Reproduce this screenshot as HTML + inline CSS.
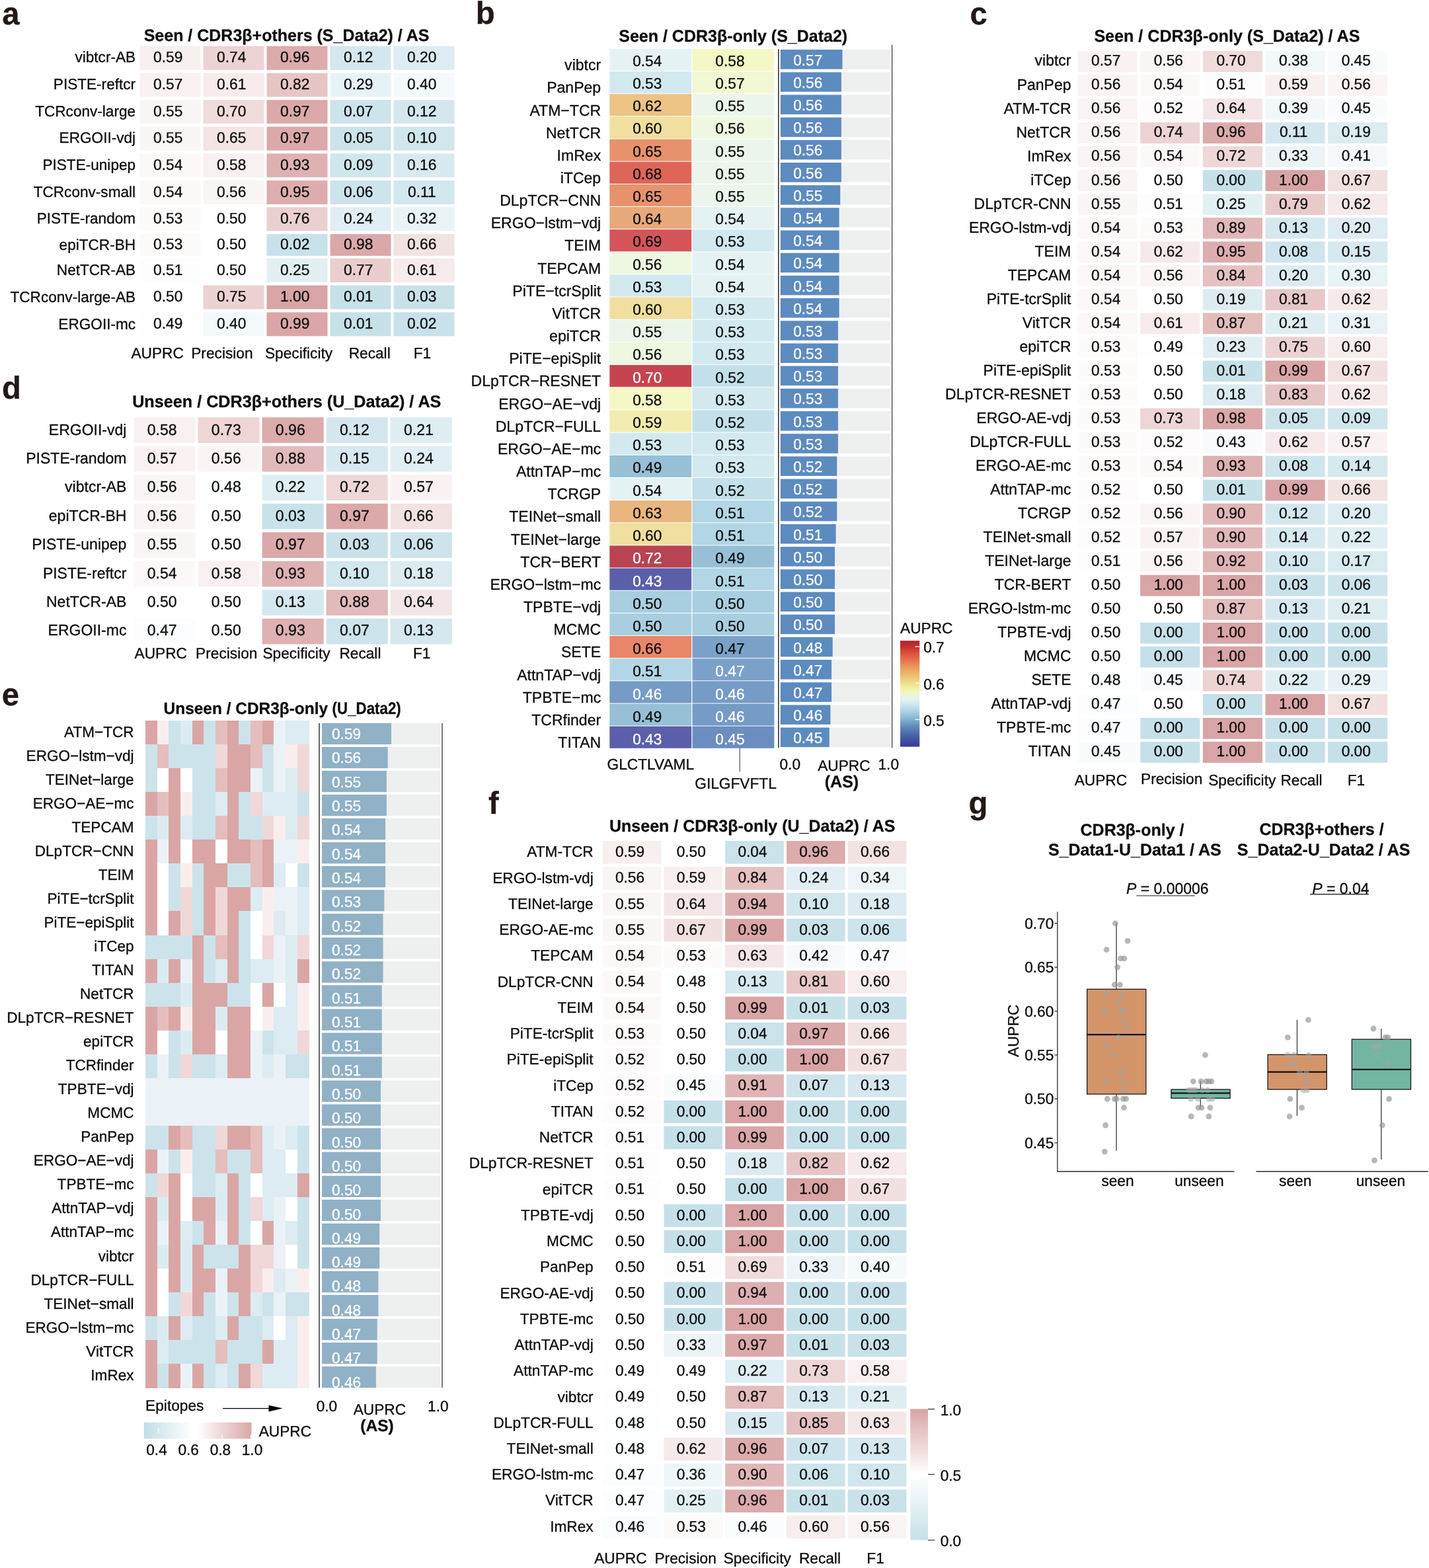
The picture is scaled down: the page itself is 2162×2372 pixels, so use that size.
<!DOCTYPE html>
<html lang="en"><head><meta charset="utf-8"><title>Figure</title>
<style>html,body{margin:0;padding:0;background:#fff}body{width:2162px;height:2372px}svg{display:block}text{font-family:"Liberation Sans",sans-serif;fill:#0c0c0c;stroke:#0c0c0c;stroke-width:.3px;text-rendering:geometricPrecision}text.b{font-weight:bold;stroke-width:.3px}text.w{fill:#fff;stroke:#fff}text.L{fill:#231815;stroke:#231815;stroke-width:.3px}</style>
</head><body>
<svg width="2162" height="2372" viewBox="0 0 2162 2372" role="img" aria-label="Benchmark figure panels a to g">
<defs>
<linearGradient id="gradB" x1="0" y1="0" x2="0" y2="1"><stop offset="0.0000" stop-color="#ad2232"/><stop offset="0.0567" stop-color="#c6302e"/><stop offset="0.1253" stop-color="#db5440"/><stop offset="0.1940" stop-color="#e67a52"/><stop offset="0.2627" stop-color="#ea9f62"/><stop offset="0.3314" stop-color="#ecc074"/><stop offset="0.4001" stop-color="#eedd8a"/><stop offset="0.4516" stop-color="#f0f4a4"/><stop offset="0.5031" stop-color="#eef5d0"/><stop offset="0.5546" stop-color="#e4f3f0"/><stop offset="0.6061" stop-color="#c8e6ec"/><stop offset="0.6748" stop-color="#a6d0e0"/><stop offset="0.7435" stop-color="#82b2ce"/><stop offset="0.8122" stop-color="#5e8aba"/><stop offset="0.8980" stop-color="#4662a6"/><stop offset="1.0000" stop-color="#36399a"/></linearGradient>
<linearGradient id="gradF" x1="0" y1="0" x2="0" y2="1"><stop offset="0" stop-color="#d9a4a5"/><stop offset="0.5" stop-color="#fff"/><stop offset="1" stop-color="#c6e0e9"/></linearGradient>
<linearGradient id="gradE" x1="0" y1="0" x2="1" y2="0"><stop offset="0" stop-color="#c2dde7"/><stop offset="0.45" stop-color="#fff"/><stop offset="0.5" stop-color="#fff"/><stop offset="1" stop-color="#d9a6a5"/></linearGradient>
<clipPath id="clipE"><rect x="480" y="1085" width="200" height="1014.3"/></clipPath>
</defs>
<rect x="0" y="0" width="2162" height="2372" fill="#fff"/>
<g id="panel-a">
<text transform="scale(1,1.012)" x="3.30" y="36.07" font-size="47.3" class="b L">a</text>
<text transform="scale(1,1.012)" x="433.60" y="61.76" font-size="25" text-anchor="middle" class="b">Seen / CDR3β+others (S_Data2) / AS</text>
<text transform="scale(1,1.012)" x="205.10" y="93.32" font-size="22.6" text-anchor="end">vibtcr-AB</text>
<rect x="211.50" y="69.70" width="92.00" height="36.10" fill="#f8efef"/>
<text transform="scale(1,1.012)" x="254.30" y="93.39" font-size="22.8" text-anchor="middle">0.59</text>
<rect x="307.50" y="69.70" width="92.00" height="36.10" fill="#edd3d4"/>
<text transform="scale(1,1.012)" x="350.30" y="93.39" font-size="22.8" text-anchor="middle">0.74</text>
<rect x="403.50" y="69.70" width="92.00" height="36.10" fill="#dcabac"/>
<text transform="scale(1,1.012)" x="446.30" y="93.39" font-size="22.8" text-anchor="middle">0.96</text>
<rect x="499.50" y="69.70" width="92.00" height="36.10" fill="#d4e7ee"/>
<text transform="scale(1,1.012)" x="542.30" y="93.39" font-size="22.8" text-anchor="middle">0.12</text>
<rect x="595.50" y="69.70" width="92.00" height="36.10" fill="#ddecf2"/>
<text transform="scale(1,1.012)" x="638.30" y="93.39" font-size="22.8" text-anchor="middle">0.20</text>
<text transform="scale(1,1.012)" x="205.10" y="133.63" font-size="22.6" text-anchor="end">PISTE-reftcr</text>
<rect x="211.50" y="110.50" width="92.00" height="36.00" fill="#faf2f2"/>
<text transform="scale(1,1.012)" x="254.30" y="133.66" font-size="22.8" text-anchor="middle">0.57</text>
<rect x="307.50" y="110.50" width="92.00" height="36.00" fill="#f7ebeb"/>
<text transform="scale(1,1.012)" x="350.30" y="133.66" font-size="22.8" text-anchor="middle">0.61</text>
<rect x="403.50" y="110.50" width="92.00" height="36.00" fill="#e7c5c5"/>
<text transform="scale(1,1.012)" x="446.30" y="133.66" font-size="22.8" text-anchor="middle">0.82</text>
<rect x="499.50" y="110.50" width="92.00" height="36.00" fill="#e7f2f6"/>
<text transform="scale(1,1.012)" x="542.30" y="133.66" font-size="22.8" text-anchor="middle">0.29</text>
<rect x="595.50" y="110.50" width="92.00" height="36.00" fill="#f4f9fb"/>
<text transform="scale(1,1.012)" x="638.30" y="133.66" font-size="22.8" text-anchor="middle">0.40</text>
<text transform="scale(1,1.012)" x="205.10" y="173.74" font-size="22.6" text-anchor="end">TCRconv-large</text>
<rect x="211.50" y="151.20" width="92.00" height="35.70" fill="#fbf6f6"/>
<text transform="scale(1,1.012)" x="254.30" y="173.73" font-size="22.8" text-anchor="middle">0.55</text>
<rect x="307.50" y="151.20" width="92.00" height="35.70" fill="#f0dbdb"/>
<text transform="scale(1,1.012)" x="350.30" y="173.73" font-size="22.8" text-anchor="middle">0.70</text>
<rect x="403.50" y="151.20" width="92.00" height="35.70" fill="#dba9aa"/>
<text transform="scale(1,1.012)" x="446.30" y="173.73" font-size="22.8" text-anchor="middle">0.97</text>
<rect x="499.50" y="151.20" width="92.00" height="35.70" fill="#cee4ec"/>
<text transform="scale(1,1.012)" x="542.30" y="173.73" font-size="22.8" text-anchor="middle">0.07</text>
<rect x="595.50" y="151.20" width="92.00" height="35.70" fill="#d4e7ee"/>
<text transform="scale(1,1.012)" x="638.30" y="173.73" font-size="22.8" text-anchor="middle">0.12</text>
<text transform="scale(1,1.012)" x="205.10" y="213.84" font-size="22.6" text-anchor="end">ERGOII-vdj</text>
<rect x="211.50" y="191.60" width="92.00" height="36.00" fill="#fbf6f6"/>
<text transform="scale(1,1.012)" x="254.30" y="213.80" font-size="22.8" text-anchor="middle">0.55</text>
<rect x="307.50" y="191.60" width="92.00" height="36.00" fill="#f4e4e4"/>
<text transform="scale(1,1.012)" x="350.30" y="213.80" font-size="22.8" text-anchor="middle">0.65</text>
<rect x="403.50" y="191.60" width="92.00" height="36.00" fill="#dba9aa"/>
<text transform="scale(1,1.012)" x="446.30" y="213.80" font-size="22.8" text-anchor="middle">0.97</text>
<rect x="499.50" y="191.60" width="92.00" height="36.00" fill="#cce3eb"/>
<text transform="scale(1,1.012)" x="542.30" y="213.80" font-size="22.8" text-anchor="middle">0.05</text>
<rect x="595.50" y="191.60" width="92.00" height="36.00" fill="#d1e6ed"/>
<text transform="scale(1,1.012)" x="638.30" y="213.80" font-size="22.8" text-anchor="middle">0.10</text>
<text transform="scale(1,1.012)" x="205.10" y="254.10" font-size="22.6" text-anchor="end">PISTE-unipep</text>
<rect x="211.50" y="232.30" width="92.00" height="36.00" fill="#fcf8f8"/>
<text transform="scale(1,1.012)" x="254.30" y="254.01" font-size="22.8" text-anchor="middle">0.54</text>
<rect x="307.50" y="232.30" width="92.00" height="36.00" fill="#f9f0f1"/>
<text transform="scale(1,1.012)" x="350.30" y="254.01" font-size="22.8" text-anchor="middle">0.58</text>
<rect x="403.50" y="232.30" width="92.00" height="36.00" fill="#deb1b2"/>
<text transform="scale(1,1.012)" x="446.30" y="254.01" font-size="22.8" text-anchor="middle">0.93</text>
<rect x="499.50" y="232.30" width="92.00" height="36.00" fill="#d0e6ed"/>
<text transform="scale(1,1.012)" x="542.30" y="254.01" font-size="22.8" text-anchor="middle">0.09</text>
<rect x="595.50" y="232.30" width="92.00" height="36.00" fill="#d8eaf0"/>
<text transform="scale(1,1.012)" x="638.30" y="254.01" font-size="22.8" text-anchor="middle">0.16</text>
<text transform="scale(1,1.012)" x="205.10" y="294.41" font-size="22.6" text-anchor="end">TCRconv-small</text>
<rect x="211.50" y="273.00" width="92.00" height="36.10" fill="#fcf8f8"/>
<text transform="scale(1,1.012)" x="254.30" y="294.28" font-size="22.8" text-anchor="middle">0.54</text>
<rect x="307.50" y="273.00" width="92.00" height="36.10" fill="#faf4f4"/>
<text transform="scale(1,1.012)" x="350.30" y="294.28" font-size="22.8" text-anchor="middle">0.56</text>
<rect x="403.50" y="273.00" width="92.00" height="36.10" fill="#ddadae"/>
<text transform="scale(1,1.012)" x="446.30" y="294.28" font-size="22.8" text-anchor="middle">0.95</text>
<rect x="499.50" y="273.00" width="92.00" height="36.10" fill="#cde4ec"/>
<text transform="scale(1,1.012)" x="542.30" y="294.28" font-size="22.8" text-anchor="middle">0.06</text>
<rect x="595.50" y="273.00" width="92.00" height="36.10" fill="#d3e7ee"/>
<text transform="scale(1,1.012)" x="638.30" y="294.28" font-size="22.8" text-anchor="middle">0.11</text>
<text transform="scale(1,1.012)" x="205.10" y="334.32" font-size="22.6" text-anchor="end">PISTE-random</text>
<rect x="211.50" y="313.40" width="92.00" height="36.00" fill="#fdfafa"/>
<text transform="scale(1,1.012)" x="254.30" y="334.15" font-size="22.8" text-anchor="middle">0.53</text>
<rect x="307.50" y="313.40" width="92.00" height="36.00" fill="#ffffff"/>
<text transform="scale(1,1.012)" x="350.30" y="334.15" font-size="22.8" text-anchor="middle">0.50</text>
<rect x="403.50" y="313.40" width="92.00" height="36.00" fill="#ebd0d0"/>
<text transform="scale(1,1.012)" x="446.30" y="334.15" font-size="22.8" text-anchor="middle">0.76</text>
<rect x="499.50" y="313.40" width="92.00" height="36.00" fill="#e1eff4"/>
<text transform="scale(1,1.012)" x="542.30" y="334.15" font-size="22.8" text-anchor="middle">0.24</text>
<rect x="595.50" y="313.40" width="92.00" height="36.00" fill="#eaf4f7"/>
<text transform="scale(1,1.012)" x="638.30" y="334.15" font-size="22.8" text-anchor="middle">0.32</text>
<text transform="scale(1,1.012)" x="205.10" y="373.04" font-size="22.6" text-anchor="end">epiTCR-BH</text>
<rect x="211.50" y="354.10" width="92.00" height="32.90" fill="#fdfafa"/>
<text transform="scale(1,1.012)" x="254.30" y="372.84" font-size="22.8" text-anchor="middle">0.53</text>
<rect x="307.50" y="354.10" width="92.00" height="32.90" fill="#ffffff"/>
<text transform="scale(1,1.012)" x="350.30" y="372.84" font-size="22.8" text-anchor="middle">0.50</text>
<rect x="403.50" y="354.10" width="92.00" height="32.90" fill="#c8e1ea"/>
<text transform="scale(1,1.012)" x="446.30" y="372.84" font-size="22.8" text-anchor="middle">0.02</text>
<rect x="499.50" y="354.10" width="92.00" height="32.90" fill="#dba8a9"/>
<text transform="scale(1,1.012)" x="542.30" y="372.84" font-size="22.8" text-anchor="middle">0.98</text>
<rect x="595.50" y="354.10" width="92.00" height="32.90" fill="#f3e2e2"/>
<text transform="scale(1,1.012)" x="638.30" y="372.84" font-size="22.8" text-anchor="middle">0.66</text>
<text transform="scale(1,1.012)" x="205.10" y="411.08" font-size="22.6" text-anchor="end">NetTCR-AB</text>
<rect x="211.50" y="391.00" width="92.00" height="36.00" fill="#fefdfd"/>
<text transform="scale(1,1.012)" x="254.30" y="410.83" font-size="22.8" text-anchor="middle">0.51</text>
<rect x="307.50" y="391.00" width="92.00" height="36.00" fill="#ffffff"/>
<text transform="scale(1,1.012)" x="350.30" y="410.83" font-size="22.8" text-anchor="middle">0.50</text>
<rect x="403.50" y="391.00" width="92.00" height="36.00" fill="#e2f0f4"/>
<text transform="scale(1,1.012)" x="446.30" y="410.83" font-size="22.8" text-anchor="middle">0.25</text>
<rect x="499.50" y="391.00" width="92.00" height="36.00" fill="#eacece"/>
<text transform="scale(1,1.012)" x="542.30" y="410.83" font-size="22.8" text-anchor="middle">0.77</text>
<rect x="595.50" y="391.00" width="92.00" height="36.00" fill="#f7ebeb"/>
<text transform="scale(1,1.012)" x="638.30" y="410.83" font-size="22.8" text-anchor="middle">0.61</text>
<text transform="scale(1,1.012)" x="205.10" y="451.33" font-size="22.6" text-anchor="end">TCRconv-large-AB</text>
<rect x="211.50" y="431.70" width="92.00" height="36.00" fill="#ffffff"/>
<text transform="scale(1,1.012)" x="254.30" y="451.05" font-size="22.8" text-anchor="middle">0.50</text>
<rect x="307.50" y="431.70" width="92.00" height="36.00" fill="#ecd2d2"/>
<text transform="scale(1,1.012)" x="350.30" y="451.05" font-size="22.8" text-anchor="middle">0.75</text>
<rect x="403.50" y="431.70" width="92.00" height="36.00" fill="#d9a4a5"/>
<text transform="scale(1,1.012)" x="446.30" y="451.05" font-size="22.8" text-anchor="middle">1.00</text>
<rect x="499.50" y="431.70" width="92.00" height="36.00" fill="#c7e1e9"/>
<text transform="scale(1,1.012)" x="542.30" y="451.05" font-size="22.8" text-anchor="middle">0.01</text>
<rect x="595.50" y="431.70" width="92.00" height="36.00" fill="#c9e2ea"/>
<text transform="scale(1,1.012)" x="638.30" y="451.05" font-size="22.8" text-anchor="middle">0.03</text>
<text transform="scale(1,1.012)" x="205.10" y="491.64" font-size="22.6" text-anchor="end">ERGOII-mc</text>
<rect x="211.50" y="472.40" width="92.00" height="36.10" fill="#fefeff"/>
<text transform="scale(1,1.012)" x="254.30" y="491.32" font-size="22.8" text-anchor="middle">0.49</text>
<rect x="307.50" y="472.40" width="92.00" height="36.10" fill="#f4f9fb"/>
<text transform="scale(1,1.012)" x="350.30" y="491.32" font-size="22.8" text-anchor="middle">0.40</text>
<rect x="403.50" y="472.40" width="92.00" height="36.10" fill="#daa6a7"/>
<text transform="scale(1,1.012)" x="446.30" y="491.32" font-size="22.8" text-anchor="middle">0.99</text>
<rect x="499.50" y="472.40" width="92.00" height="36.10" fill="#c7e1e9"/>
<text transform="scale(1,1.012)" x="542.30" y="491.32" font-size="22.8" text-anchor="middle">0.01</text>
<rect x="595.50" y="472.40" width="92.00" height="36.10" fill="#c8e1ea"/>
<text transform="scale(1,1.012)" x="638.30" y="491.32" font-size="22.8" text-anchor="middle">0.02</text>
<text transform="scale(1,1.012)" x="238.15" y="535.70" font-size="22.7" text-anchor="middle">AUPRC</text>
<text transform="scale(1,1.012)" x="335.90" y="535.70" font-size="22.7" text-anchor="middle">Precision</text>
<text transform="scale(1,1.012)" x="452.05" y="535.70" font-size="22.7" text-anchor="middle">Specificity</text>
<text transform="scale(1,1.012)" x="559.15" y="535.70" font-size="22.7" text-anchor="middle">Recall</text>
<text transform="scale(1,1.012)" x="638.90" y="535.70" font-size="22.7" text-anchor="middle">F1</text>
</g>
<g id="panel-b">
<text transform="scale(1,1.012)" x="719.80" y="35.97" font-size="47.3" class="b L">b</text>
<text transform="scale(1,1.012)" x="1109.20" y="61.86" font-size="25" text-anchor="middle" class="b">Seen / CDR3β-only (S_Data2)</text>
<text transform="scale(1,1.012)" x="909.20" y="104.95" font-size="23.05" text-anchor="end">vibtcr</text>
<rect x="922.30" y="73.90" width="123.90" height="33.16" fill="#e4f2f3"/>
<text transform="scale(1,1.012)" x="979.25" y="98.52" font-size="22.7" text-anchor="middle">0.54</text>
<rect x="1047.50" y="73.90" width="123.90" height="33.16" fill="#f3f8c5"/>
<text transform="scale(1,1.012)" x="1104.45" y="98.52" font-size="22.7" text-anchor="middle">0.58</text>
<rect x="1180.80" y="75.10" width="165.60" height="29.50" fill="#eeefef"/>
<rect x="1180.80" y="75.10" width="93.71" height="29.50" fill="#5c8bc0"/>
<text transform="scale(1,1.012)" x="1222.30" y="97.46" font-size="22.7" text-anchor="middle" class="w">0.57</text>
<text transform="scale(1,1.012)" x="909.20" y="138.70" font-size="23.05" text-anchor="end">PanPep</text>
<rect x="922.30" y="108.06" width="123.90" height="33.16" fill="#d2e9f0"/>
<text transform="scale(1,1.012)" x="979.25" y="132.33" font-size="22.7" text-anchor="middle">0.53</text>
<rect x="1047.50" y="108.06" width="123.90" height="33.16" fill="#f1f8d2"/>
<text transform="scale(1,1.012)" x="1104.45" y="132.33" font-size="22.7" text-anchor="middle">0.57</text>
<rect x="1180.80" y="109.28" width="165.60" height="29.50" fill="#eeefef"/>
<rect x="1180.80" y="109.28" width="92.06" height="29.50" fill="#5c8bc0"/>
<text transform="scale(1,1.012)" x="1222.30" y="131.24" font-size="22.7" text-anchor="middle" class="w">0.56</text>
<text transform="scale(1,1.012)" x="909.20" y="172.46" font-size="23.05" text-anchor="end">ATM−TCR</text>
<rect x="922.30" y="142.22" width="123.90" height="33.16" fill="#ecc385"/>
<text transform="scale(1,1.012)" x="979.25" y="166.13" font-size="22.7" text-anchor="middle">0.62</text>
<rect x="1047.50" y="142.22" width="123.90" height="33.16" fill="#ebf5eb"/>
<text transform="scale(1,1.012)" x="1104.45" y="166.13" font-size="22.7" text-anchor="middle">0.55</text>
<rect x="1180.80" y="143.47" width="165.60" height="29.50" fill="#eeefef"/>
<rect x="1180.80" y="143.47" width="92.06" height="29.50" fill="#5c8bc0"/>
<text transform="scale(1,1.012)" x="1222.30" y="165.03" font-size="22.7" text-anchor="middle" class="w">0.56</text>
<text transform="scale(1,1.012)" x="909.20" y="206.21" font-size="23.05" text-anchor="end">NetTCR</text>
<rect x="922.30" y="176.38" width="123.90" height="33.16" fill="#f0df9e"/>
<text transform="scale(1,1.012)" x="979.25" y="199.94" font-size="22.7" text-anchor="middle">0.60</text>
<rect x="1047.50" y="176.38" width="123.90" height="33.16" fill="#eef7e0"/>
<text transform="scale(1,1.012)" x="1104.45" y="199.94" font-size="22.7" text-anchor="middle">0.56</text>
<rect x="1180.80" y="177.66" width="165.60" height="29.50" fill="#eeefef"/>
<rect x="1180.80" y="177.66" width="92.06" height="29.50" fill="#5c8bc0"/>
<text transform="scale(1,1.012)" x="1222.30" y="198.81" font-size="22.7" text-anchor="middle" class="w">0.56</text>
<text transform="scale(1,1.012)" x="909.20" y="239.97" font-size="23.05" text-anchor="end">ImRex</text>
<rect x="922.30" y="210.54" width="123.90" height="33.16" fill="#e8926d"/>
<text transform="scale(1,1.012)" x="979.25" y="233.74" font-size="22.7" text-anchor="middle">0.65</text>
<rect x="1047.50" y="210.54" width="123.90" height="33.16" fill="#ebf5eb"/>
<text transform="scale(1,1.012)" x="1104.45" y="233.74" font-size="22.7" text-anchor="middle">0.55</text>
<rect x="1180.80" y="211.84" width="165.60" height="29.50" fill="#eeefef"/>
<rect x="1180.80" y="211.84" width="92.06" height="29.50" fill="#5c8bc0"/>
<text transform="scale(1,1.012)" x="1222.30" y="232.60" font-size="22.7" text-anchor="middle" class="w">0.56</text>
<text transform="scale(1,1.012)" x="909.20" y="273.72" font-size="23.05" text-anchor="end">iTCep</text>
<rect x="922.30" y="244.70" width="123.90" height="33.16" fill="#de6659"/>
<text transform="scale(1,1.012)" x="979.25" y="267.55" font-size="22.7" text-anchor="middle">0.68</text>
<rect x="1047.50" y="244.70" width="123.90" height="33.16" fill="#ebf5eb"/>
<text transform="scale(1,1.012)" x="1104.45" y="267.55" font-size="22.7" text-anchor="middle">0.55</text>
<rect x="1180.80" y="246.03" width="165.60" height="29.50" fill="#eeefef"/>
<rect x="1180.80" y="246.03" width="92.06" height="29.50" fill="#5c8bc0"/>
<text transform="scale(1,1.012)" x="1222.30" y="266.38" font-size="22.7" text-anchor="middle" class="w">0.56</text>
<text transform="scale(1,1.012)" x="909.20" y="307.48" font-size="23.05" text-anchor="end">DLpTCR−CNN</text>
<rect x="922.30" y="278.86" width="123.90" height="33.16" fill="#e8926d"/>
<text transform="scale(1,1.012)" x="979.25" y="301.35" font-size="22.7" text-anchor="middle">0.65</text>
<rect x="1047.50" y="278.86" width="123.90" height="33.16" fill="#ebf5eb"/>
<text transform="scale(1,1.012)" x="1104.45" y="301.35" font-size="22.7" text-anchor="middle">0.55</text>
<rect x="1180.80" y="280.21" width="165.60" height="29.50" fill="#eeefef"/>
<rect x="1180.80" y="280.21" width="90.42" height="29.50" fill="#5c8bc0"/>
<text transform="scale(1,1.012)" x="1222.30" y="300.16" font-size="22.7" text-anchor="middle" class="w">0.55</text>
<text transform="scale(1,1.012)" x="909.20" y="341.23" font-size="23.05" text-anchor="end">ERGO−lstm−vdj</text>
<rect x="922.30" y="313.02" width="123.90" height="33.16" fill="#e8a97a"/>
<text transform="scale(1,1.012)" x="979.25" y="335.15" font-size="22.7" text-anchor="middle">0.64</text>
<rect x="1047.50" y="313.02" width="123.90" height="33.16" fill="#e4f2f3"/>
<text transform="scale(1,1.012)" x="1104.45" y="335.15" font-size="22.7" text-anchor="middle">0.54</text>
<rect x="1180.80" y="314.39" width="165.60" height="29.50" fill="#eeefef"/>
<rect x="1180.80" y="314.39" width="88.78" height="29.50" fill="#5c8bc0"/>
<text transform="scale(1,1.012)" x="1222.30" y="333.95" font-size="22.7" text-anchor="middle" class="w">0.54</text>
<text transform="scale(1,1.012)" x="909.20" y="374.99" font-size="23.05" text-anchor="end">TEIM</text>
<rect x="922.30" y="347.18" width="123.90" height="33.16" fill="#d4545a"/>
<text transform="scale(1,1.012)" x="979.25" y="368.96" font-size="22.7" text-anchor="middle">0.69</text>
<rect x="1047.50" y="347.18" width="123.90" height="33.16" fill="#d2e9f0"/>
<text transform="scale(1,1.012)" x="1104.45" y="368.96" font-size="22.7" text-anchor="middle">0.53</text>
<rect x="1180.80" y="348.58" width="165.60" height="29.50" fill="#eeefef"/>
<rect x="1180.80" y="348.58" width="88.78" height="29.50" fill="#5c8bc0"/>
<text transform="scale(1,1.012)" x="1222.30" y="367.73" font-size="22.7" text-anchor="middle" class="w">0.54</text>
<text transform="scale(1,1.012)" x="909.20" y="408.74" font-size="23.05" text-anchor="end">TEPCAM</text>
<rect x="922.30" y="381.34" width="123.90" height="33.16" fill="#eef7e0"/>
<text transform="scale(1,1.012)" x="979.25" y="402.76" font-size="22.7" text-anchor="middle">0.56</text>
<rect x="1047.50" y="381.34" width="123.90" height="33.16" fill="#e4f2f3"/>
<text transform="scale(1,1.012)" x="1104.45" y="402.76" font-size="22.7" text-anchor="middle">0.54</text>
<rect x="1180.80" y="382.76" width="165.60" height="29.50" fill="#eeefef"/>
<rect x="1180.80" y="382.76" width="88.78" height="29.50" fill="#5c8bc0"/>
<text transform="scale(1,1.012)" x="1222.30" y="401.52" font-size="22.7" text-anchor="middle" class="w">0.54</text>
<text transform="scale(1,1.012)" x="909.20" y="442.50" font-size="23.05" text-anchor="end">PiTE−tcrSplit</text>
<rect x="922.30" y="415.50" width="123.90" height="33.16" fill="#d2e9f0"/>
<text transform="scale(1,1.012)" x="979.25" y="436.57" font-size="22.7" text-anchor="middle">0.53</text>
<rect x="1047.50" y="415.50" width="123.90" height="33.16" fill="#e4f2f3"/>
<text transform="scale(1,1.012)" x="1104.45" y="436.57" font-size="22.7" text-anchor="middle">0.54</text>
<rect x="1180.80" y="416.95" width="165.60" height="29.50" fill="#eeefef"/>
<rect x="1180.80" y="416.95" width="88.78" height="29.50" fill="#5c8bc0"/>
<text transform="scale(1,1.012)" x="1222.30" y="435.30" font-size="22.7" text-anchor="middle" class="w">0.54</text>
<text transform="scale(1,1.012)" x="909.20" y="476.25" font-size="23.05" text-anchor="end">VitTCR</text>
<rect x="922.30" y="449.66" width="123.90" height="33.16" fill="#f0df9e"/>
<text transform="scale(1,1.012)" x="979.25" y="470.37" font-size="22.7" text-anchor="middle">0.60</text>
<rect x="1047.50" y="449.66" width="123.90" height="33.16" fill="#d2e9f0"/>
<text transform="scale(1,1.012)" x="1104.45" y="470.37" font-size="22.7" text-anchor="middle">0.53</text>
<rect x="1180.80" y="451.13" width="165.60" height="29.50" fill="#eeefef"/>
<rect x="1180.80" y="451.13" width="88.78" height="29.50" fill="#5c8bc0"/>
<text transform="scale(1,1.012)" x="1222.30" y="469.09" font-size="22.7" text-anchor="middle" class="w">0.54</text>
<text transform="scale(1,1.012)" x="909.20" y="510.01" font-size="23.05" text-anchor="end">epiTCR</text>
<rect x="922.30" y="483.82" width="123.90" height="33.16" fill="#ebf5eb"/>
<text transform="scale(1,1.012)" x="979.25" y="504.18" font-size="22.7" text-anchor="middle">0.55</text>
<rect x="1047.50" y="483.82" width="123.90" height="33.16" fill="#d2e9f0"/>
<text transform="scale(1,1.012)" x="1104.45" y="504.18" font-size="22.7" text-anchor="middle">0.53</text>
<rect x="1180.80" y="485.32" width="165.60" height="29.50" fill="#eeefef"/>
<rect x="1180.80" y="485.32" width="87.13" height="29.50" fill="#5c8bc0"/>
<text transform="scale(1,1.012)" x="1222.30" y="502.87" font-size="22.7" text-anchor="middle" class="w">0.53</text>
<text transform="scale(1,1.012)" x="909.20" y="543.76" font-size="23.05" text-anchor="end">PiTE−epiSplit</text>
<rect x="922.30" y="517.98" width="123.90" height="33.16" fill="#eef7e0"/>
<text transform="scale(1,1.012)" x="979.25" y="537.98" font-size="22.7" text-anchor="middle">0.56</text>
<rect x="1047.50" y="517.98" width="123.90" height="33.16" fill="#d2e9f0"/>
<text transform="scale(1,1.012)" x="1104.45" y="537.98" font-size="22.7" text-anchor="middle">0.53</text>
<rect x="1180.80" y="519.50" width="165.60" height="29.50" fill="#eeefef"/>
<rect x="1180.80" y="519.50" width="87.13" height="29.50" fill="#5c8bc0"/>
<text transform="scale(1,1.012)" x="1222.30" y="536.66" font-size="22.7" text-anchor="middle" class="w">0.53</text>
<text transform="scale(1,1.012)" x="909.20" y="577.52" font-size="23.05" text-anchor="end">DLpTCR−RESNET</text>
<rect x="922.30" y="552.14" width="123.90" height="33.16" fill="#c6444f"/>
<text transform="scale(1,1.012)" x="979.25" y="571.79" font-size="22.7" text-anchor="middle" class="w">0.70</text>
<rect x="1047.50" y="552.14" width="123.90" height="33.16" fill="#c3e0ea"/>
<text transform="scale(1,1.012)" x="1104.45" y="571.79" font-size="22.7" text-anchor="middle">0.52</text>
<rect x="1180.80" y="553.69" width="165.60" height="29.50" fill="#eeefef"/>
<rect x="1180.80" y="553.69" width="87.13" height="29.50" fill="#5c8bc0"/>
<text transform="scale(1,1.012)" x="1222.30" y="570.44" font-size="22.7" text-anchor="middle" class="w">0.53</text>
<text transform="scale(1,1.012)" x="909.20" y="611.27" font-size="23.05" text-anchor="end">ERGO−AE−vdj</text>
<rect x="922.30" y="586.30" width="123.90" height="33.16" fill="#f3f8c5"/>
<text transform="scale(1,1.012)" x="979.25" y="605.59" font-size="22.7" text-anchor="middle">0.58</text>
<rect x="1047.50" y="586.30" width="123.90" height="33.16" fill="#d2e9f0"/>
<text transform="scale(1,1.012)" x="1104.45" y="605.59" font-size="22.7" text-anchor="middle">0.53</text>
<rect x="1180.80" y="587.88" width="165.60" height="29.50" fill="#eeefef"/>
<rect x="1180.80" y="587.88" width="87.13" height="29.50" fill="#5c8bc0"/>
<text transform="scale(1,1.012)" x="1222.30" y="604.23" font-size="22.7" text-anchor="middle" class="w">0.53</text>
<text transform="scale(1,1.012)" x="909.20" y="645.03" font-size="23.05" text-anchor="end">DLpTCR−FULL</text>
<rect x="922.30" y="620.46" width="123.90" height="33.16" fill="#f2ecb0"/>
<text transform="scale(1,1.012)" x="979.25" y="639.39" font-size="22.7" text-anchor="middle">0.59</text>
<rect x="1047.50" y="620.46" width="123.90" height="33.16" fill="#c3e0ea"/>
<text transform="scale(1,1.012)" x="1104.45" y="639.39" font-size="22.7" text-anchor="middle">0.52</text>
<rect x="1180.80" y="622.06" width="165.60" height="29.50" fill="#eeefef"/>
<rect x="1180.80" y="622.06" width="87.13" height="29.50" fill="#5c8bc0"/>
<text transform="scale(1,1.012)" x="1222.30" y="638.01" font-size="22.7" text-anchor="middle" class="w">0.53</text>
<text transform="scale(1,1.012)" x="909.20" y="678.78" font-size="23.05" text-anchor="end">ERGO−AE−mc</text>
<rect x="922.30" y="654.62" width="123.90" height="33.16" fill="#d2e9f0"/>
<text transform="scale(1,1.012)" x="979.25" y="673.20" font-size="22.7" text-anchor="middle">0.53</text>
<rect x="1047.50" y="654.62" width="123.90" height="33.16" fill="#d2e9f0"/>
<text transform="scale(1,1.012)" x="1104.45" y="673.20" font-size="22.7" text-anchor="middle">0.53</text>
<rect x="1180.80" y="656.25" width="165.60" height="29.50" fill="#eeefef"/>
<rect x="1180.80" y="656.25" width="87.13" height="29.50" fill="#5c8bc0"/>
<text transform="scale(1,1.012)" x="1222.30" y="671.80" font-size="22.7" text-anchor="middle" class="w">0.53</text>
<text transform="scale(1,1.012)" x="909.20" y="712.54" font-size="23.05" text-anchor="end">AttnTAP−mc</text>
<rect x="922.30" y="688.78" width="123.90" height="33.16" fill="#97c0d6"/>
<text transform="scale(1,1.012)" x="979.25" y="707.00" font-size="22.7" text-anchor="middle">0.49</text>
<rect x="1047.50" y="688.78" width="123.90" height="33.16" fill="#d2e9f0"/>
<text transform="scale(1,1.012)" x="1104.45" y="707.00" font-size="22.7" text-anchor="middle">0.53</text>
<rect x="1180.80" y="690.43" width="165.60" height="29.50" fill="#eeefef"/>
<rect x="1180.80" y="690.43" width="85.49" height="29.50" fill="#5c8bc0"/>
<text transform="scale(1,1.012)" x="1222.30" y="705.58" font-size="22.7" text-anchor="middle" class="w">0.52</text>
<text transform="scale(1,1.012)" x="909.20" y="746.29" font-size="23.05" text-anchor="end">TCRGP</text>
<rect x="922.30" y="722.94" width="123.90" height="33.16" fill="#e4f2f3"/>
<text transform="scale(1,1.012)" x="979.25" y="740.81" font-size="22.7" text-anchor="middle">0.54</text>
<rect x="1047.50" y="722.94" width="123.90" height="33.16" fill="#c3e0ea"/>
<text transform="scale(1,1.012)" x="1104.45" y="740.81" font-size="22.7" text-anchor="middle">0.52</text>
<rect x="1180.80" y="724.62" width="165.60" height="29.50" fill="#eeefef"/>
<rect x="1180.80" y="724.62" width="85.49" height="29.50" fill="#5c8bc0"/>
<text transform="scale(1,1.012)" x="1222.30" y="739.36" font-size="22.7" text-anchor="middle" class="w">0.52</text>
<text transform="scale(1,1.012)" x="909.20" y="780.05" font-size="23.05" text-anchor="end">TEINet−small</text>
<rect x="922.30" y="757.10" width="123.90" height="33.16" fill="#eab67f"/>
<text transform="scale(1,1.012)" x="979.25" y="774.61" font-size="22.7" text-anchor="middle">0.63</text>
<rect x="1047.50" y="757.10" width="123.90" height="33.16" fill="#b2d6e5"/>
<text transform="scale(1,1.012)" x="1104.45" y="774.61" font-size="22.7" text-anchor="middle">0.51</text>
<rect x="1180.80" y="758.80" width="165.60" height="29.50" fill="#eeefef"/>
<rect x="1180.80" y="758.80" width="85.49" height="29.50" fill="#5c8bc0"/>
<text transform="scale(1,1.012)" x="1222.30" y="773.15" font-size="22.7" text-anchor="middle" class="w">0.52</text>
<text transform="scale(1,1.012)" x="909.20" y="813.80" font-size="23.05" text-anchor="end">TEINet−large</text>
<rect x="922.30" y="791.26" width="123.90" height="33.16" fill="#f0df9e"/>
<text transform="scale(1,1.012)" x="979.25" y="808.42" font-size="22.7" text-anchor="middle">0.60</text>
<rect x="1047.50" y="791.26" width="123.90" height="33.16" fill="#b2d6e5"/>
<text transform="scale(1,1.012)" x="1104.45" y="808.42" font-size="22.7" text-anchor="middle">0.51</text>
<rect x="1180.80" y="792.99" width="165.60" height="29.50" fill="#eeefef"/>
<rect x="1180.80" y="792.99" width="83.84" height="29.50" fill="#5c8bc0"/>
<text transform="scale(1,1.012)" x="1222.30" y="806.93" font-size="22.7" text-anchor="middle" class="w">0.51</text>
<text transform="scale(1,1.012)" x="909.20" y="847.56" font-size="23.05" text-anchor="end">TCR−BERT</text>
<rect x="922.30" y="825.42" width="123.90" height="33.16" fill="#b84353"/>
<text transform="scale(1,1.012)" x="979.25" y="842.22" font-size="22.7" text-anchor="middle" class="w">0.72</text>
<rect x="1047.50" y="825.42" width="123.90" height="33.16" fill="#97c0d6"/>
<text transform="scale(1,1.012)" x="1104.45" y="842.22" font-size="22.7" text-anchor="middle">0.49</text>
<rect x="1180.80" y="827.17" width="165.60" height="29.50" fill="#eeefef"/>
<rect x="1180.80" y="827.17" width="82.20" height="29.50" fill="#5c8bc0"/>
<text transform="scale(1,1.012)" x="1222.30" y="840.72" font-size="22.7" text-anchor="middle" class="w">0.50</text>
<text transform="scale(1,1.012)" x="909.20" y="881.31" font-size="23.05" text-anchor="end">ERGO−lstm−mc</text>
<rect x="922.30" y="859.58" width="123.90" height="33.16" fill="#5b5faa"/>
<text transform="scale(1,1.012)" x="979.25" y="876.02" font-size="22.7" text-anchor="middle" class="w">0.43</text>
<rect x="1047.50" y="859.58" width="123.90" height="33.16" fill="#b2d6e5"/>
<text transform="scale(1,1.012)" x="1104.45" y="876.02" font-size="22.7" text-anchor="middle">0.51</text>
<rect x="1180.80" y="861.36" width="165.60" height="29.50" fill="#eeefef"/>
<rect x="1180.80" y="861.36" width="82.20" height="29.50" fill="#5c8bc0"/>
<text transform="scale(1,1.012)" x="1222.30" y="874.50" font-size="22.7" text-anchor="middle" class="w">0.50</text>
<text transform="scale(1,1.012)" x="909.20" y="915.07" font-size="23.05" text-anchor="end">TPBTE−vdj</text>
<rect x="922.30" y="893.74" width="123.90" height="33.16" fill="#a8cee0"/>
<text transform="scale(1,1.012)" x="979.25" y="909.83" font-size="22.7" text-anchor="middle">0.50</text>
<rect x="1047.50" y="893.74" width="123.90" height="33.16" fill="#a8cee0"/>
<text transform="scale(1,1.012)" x="1104.45" y="909.83" font-size="22.7" text-anchor="middle">0.50</text>
<rect x="1180.80" y="895.54" width="165.60" height="29.50" fill="#eeefef"/>
<rect x="1180.80" y="895.54" width="82.20" height="29.50" fill="#5c8bc0"/>
<text transform="scale(1,1.012)" x="1222.30" y="908.29" font-size="22.7" text-anchor="middle" class="w">0.50</text>
<text transform="scale(1,1.012)" x="909.20" y="948.82" font-size="23.05" text-anchor="end">MCMC</text>
<rect x="922.30" y="927.90" width="123.90" height="33.16" fill="#a8cee0"/>
<text transform="scale(1,1.012)" x="979.25" y="943.63" font-size="22.7" text-anchor="middle">0.50</text>
<rect x="1047.50" y="927.90" width="123.90" height="33.16" fill="#a8cee0"/>
<text transform="scale(1,1.012)" x="1104.45" y="943.63" font-size="22.7" text-anchor="middle">0.50</text>
<rect x="1180.80" y="929.73" width="165.60" height="29.50" fill="#eeefef"/>
<rect x="1180.80" y="929.73" width="82.20" height="29.50" fill="#5c8bc0"/>
<text transform="scale(1,1.012)" x="1222.30" y="942.07" font-size="22.7" text-anchor="middle" class="w">0.50</text>
<text transform="scale(1,1.012)" x="909.20" y="982.58" font-size="23.05" text-anchor="end">SETE</text>
<rect x="922.30" y="962.06" width="123.90" height="33.16" fill="#e8866a"/>
<text transform="scale(1,1.012)" x="979.25" y="977.44" font-size="22.7" text-anchor="middle">0.66</text>
<rect x="1047.50" y="962.06" width="123.90" height="33.16" fill="#7ba1c9"/>
<text transform="scale(1,1.012)" x="1104.45" y="977.44" font-size="22.7" text-anchor="middle">0.47</text>
<rect x="1180.80" y="963.91" width="165.60" height="29.50" fill="#eeefef"/>
<rect x="1180.80" y="963.91" width="78.91" height="29.50" fill="#5c8bc0"/>
<text transform="scale(1,1.012)" x="1222.30" y="975.86" font-size="22.7" text-anchor="middle" class="w">0.48</text>
<text transform="scale(1,1.012)" x="909.20" y="1016.33" font-size="23.05" text-anchor="end">AttnTAP−vdj</text>
<rect x="922.30" y="996.22" width="123.90" height="33.16" fill="#b2d6e5"/>
<text transform="scale(1,1.012)" x="979.25" y="1011.24" font-size="22.7" text-anchor="middle">0.51</text>
<rect x="1047.50" y="996.22" width="123.90" height="33.16" fill="#7ba1c9"/>
<text transform="scale(1,1.012)" x="1104.45" y="1011.24" font-size="22.7" text-anchor="middle" class="w">0.47</text>
<rect x="1180.80" y="998.10" width="165.60" height="29.50" fill="#eeefef"/>
<rect x="1180.80" y="998.10" width="77.27" height="29.50" fill="#5c8bc0"/>
<text transform="scale(1,1.012)" x="1222.30" y="1009.64" font-size="22.7" text-anchor="middle" class="w">0.47</text>
<text transform="scale(1,1.012)" x="909.20" y="1050.09" font-size="23.05" text-anchor="end">TPBTE−mc</text>
<rect x="922.30" y="1030.38" width="123.90" height="33.16" fill="#759bc6"/>
<text transform="scale(1,1.012)" x="979.25" y="1045.05" font-size="22.7" text-anchor="middle" class="w">0.46</text>
<rect x="1047.50" y="1030.38" width="123.90" height="33.16" fill="#759bc6"/>
<text transform="scale(1,1.012)" x="1104.45" y="1045.05" font-size="22.7" text-anchor="middle" class="w">0.46</text>
<rect x="1180.80" y="1032.28" width="165.60" height="29.50" fill="#eeefef"/>
<rect x="1180.80" y="1032.28" width="77.27" height="29.50" fill="#5c8bc0"/>
<text transform="scale(1,1.012)" x="1222.30" y="1043.43" font-size="22.7" text-anchor="middle" class="w">0.47</text>
<text transform="scale(1,1.012)" x="909.20" y="1083.84" font-size="23.05" text-anchor="end">TCRfinder</text>
<rect x="922.30" y="1064.54" width="123.90" height="33.16" fill="#97c0d6"/>
<text transform="scale(1,1.012)" x="979.25" y="1078.85" font-size="22.7" text-anchor="middle">0.49</text>
<rect x="1047.50" y="1064.54" width="123.90" height="33.16" fill="#759bc6"/>
<text transform="scale(1,1.012)" x="1104.45" y="1078.85" font-size="22.7" text-anchor="middle" class="w">0.46</text>
<rect x="1180.80" y="1066.46" width="165.60" height="29.50" fill="#eeefef"/>
<rect x="1180.80" y="1066.46" width="75.62" height="29.50" fill="#5c8bc0"/>
<text transform="scale(1,1.012)" x="1222.30" y="1077.21" font-size="22.7" text-anchor="middle" class="w">0.46</text>
<text transform="scale(1,1.012)" x="909.20" y="1117.60" font-size="23.05" text-anchor="end">TITAN</text>
<rect x="922.30" y="1098.70" width="123.90" height="33.16" fill="#5b5faa"/>
<text transform="scale(1,1.012)" x="979.25" y="1112.65" font-size="22.7" text-anchor="middle" class="w">0.43</text>
<rect x="1047.50" y="1098.70" width="123.90" height="33.16" fill="#6c8dc0"/>
<text transform="scale(1,1.012)" x="1104.45" y="1112.65" font-size="22.7" text-anchor="middle" class="w">0.45</text>
<rect x="1180.80" y="1100.65" width="165.60" height="29.50" fill="#eeefef"/>
<rect x="1180.80" y="1100.65" width="73.98" height="29.50" fill="#5c8bc0"/>
<text transform="scale(1,1.012)" x="1222.30" y="1110.99" font-size="22.7" text-anchor="middle" class="w">0.45</text>
<line x1="1177.80" y1="74.50" x2="1177.80" y2="1131.30" stroke="#333" stroke-width="1.6"/>
<line x1="1349.60" y1="68.00" x2="1349.60" y2="1131.30" stroke="#333" stroke-width="1.2"/>
<text transform="scale(1,1.012)" x="1362.00" y="946.64" font-size="22.7">AUPRC</text>
<rect x="1362" y="969.2" width="29.3" height="160.4" fill="url(#gradB)"/>
<line x1="1384.50" y1="978.20" x2="1391.30" y2="978.20" stroke="#fff" stroke-width="1.3"/>
<text transform="scale(1,1.012)" x="1397.20" y="975.52" font-size="22.7">0.7</text>
<line x1="1384.50" y1="1033.30" x2="1391.30" y2="1033.30" stroke="#fff" stroke-width="1.3"/>
<text transform="scale(1,1.012)" x="1397.20" y="1030.56" font-size="22.7">0.6</text>
<line x1="1384.50" y1="1088.50" x2="1391.30" y2="1088.50" stroke="#fff" stroke-width="1.3"/>
<text transform="scale(1,1.012)" x="1397.20" y="1085.20" font-size="22.7">0.5</text>
<text transform="scale(1,1.012)" x="918.50" y="1150.32" font-size="22.7">GLCTLVAML</text>
<line x1="1119.20" y1="1131.70" x2="1119.20" y2="1167.40" stroke="#333" stroke-width="1"/>
<text transform="scale(1,1.012)" x="1051.30" y="1178.78" font-size="22.7">GILGFVFTL</text>
<text transform="scale(1,1.012)" x="1179.50" y="1150.32" font-size="22.7">0.0</text>
<text transform="scale(1,1.012)" x="1276.90" y="1152.30" font-size="22.7" text-anchor="middle">AUPRC</text>
<text transform="scale(1,1.012)" x="1328.50" y="1150.32" font-size="22.7">1.0</text>
<text transform="scale(1,1.012)" x="1273.50" y="1176.80" font-size="25" text-anchor="middle" class="b">(AS)</text>
</g>
<g id="panel-c">
<text transform="scale(1,1.012)" x="1467.50" y="36.17" font-size="47.3" class="b L">c</text>
<text transform="scale(1,1.012)" x="1856.40" y="62.45" font-size="25.1" text-anchor="middle" class="b">Seen / CDR3β-only (S_Data2) / AS</text>
<text transform="scale(1,1.012)" x="1620.50" y="98.30" font-size="23.0" text-anchor="end">vibtcr</text>
<rect x="1630.50" y="77.10" width="90.20" height="31.90" fill="#faf2f2"/>
<text transform="scale(1,1.012)" x="1673.20" y="98.20" font-size="22.7" text-anchor="middle">0.57</text>
<rect x="1725.15" y="77.10" width="90.20" height="31.90" fill="#faf4f4"/>
<text transform="scale(1,1.012)" x="1767.85" y="98.20" font-size="22.7" text-anchor="middle">0.56</text>
<rect x="1819.80" y="77.10" width="90.20" height="31.90" fill="#f0dbdb"/>
<text transform="scale(1,1.012)" x="1862.50" y="98.20" font-size="22.7" text-anchor="middle">0.70</text>
<rect x="1914.45" y="77.10" width="90.20" height="31.90" fill="#f1f8fa"/>
<text transform="scale(1,1.012)" x="1957.15" y="98.20" font-size="22.7" text-anchor="middle">0.38</text>
<rect x="2009.10" y="77.10" width="90.20" height="31.90" fill="#f9fcfd"/>
<text transform="scale(1,1.012)" x="2051.80" y="98.20" font-size="22.7" text-anchor="middle">0.45</text>
<text transform="scale(1,1.012)" x="1620.50" y="133.91" font-size="23.0" text-anchor="end">PanPep</text>
<rect x="1630.50" y="113.13" width="90.20" height="31.90" fill="#faf4f4"/>
<text transform="scale(1,1.012)" x="1673.20" y="133.80" font-size="22.7" text-anchor="middle">0.56</text>
<rect x="1725.15" y="113.13" width="90.20" height="31.90" fill="#fcf8f8"/>
<text transform="scale(1,1.012)" x="1767.85" y="133.80" font-size="22.7" text-anchor="middle">0.54</text>
<rect x="1819.80" y="113.13" width="90.20" height="31.90" fill="#fefdfd"/>
<text transform="scale(1,1.012)" x="1862.50" y="133.80" font-size="22.7" text-anchor="middle">0.51</text>
<rect x="1914.45" y="113.13" width="90.20" height="31.90" fill="#f8efef"/>
<text transform="scale(1,1.012)" x="1957.15" y="133.80" font-size="22.7" text-anchor="middle">0.59</text>
<rect x="2009.10" y="113.13" width="90.20" height="31.90" fill="#faf4f4"/>
<text transform="scale(1,1.012)" x="2051.80" y="133.80" font-size="22.7" text-anchor="middle">0.56</text>
<text transform="scale(1,1.012)" x="1620.50" y="169.51" font-size="23.0" text-anchor="end">ATM-TCR</text>
<rect x="1630.50" y="149.16" width="90.20" height="31.90" fill="#faf4f4"/>
<text transform="scale(1,1.012)" x="1673.20" y="169.40" font-size="22.7" text-anchor="middle">0.56</text>
<rect x="1725.15" y="149.16" width="90.20" height="31.90" fill="#fdfbfb"/>
<text transform="scale(1,1.012)" x="1767.85" y="169.40" font-size="22.7" text-anchor="middle">0.52</text>
<rect x="1819.80" y="149.16" width="90.20" height="31.90" fill="#f4e6e6"/>
<text transform="scale(1,1.012)" x="1862.50" y="169.40" font-size="22.7" text-anchor="middle">0.64</text>
<rect x="1914.45" y="149.16" width="90.20" height="31.90" fill="#f2f8fa"/>
<text transform="scale(1,1.012)" x="1957.15" y="169.40" font-size="22.7" text-anchor="middle">0.39</text>
<rect x="2009.10" y="149.16" width="90.20" height="31.90" fill="#f9fcfd"/>
<text transform="scale(1,1.012)" x="2051.80" y="169.40" font-size="22.7" text-anchor="middle">0.45</text>
<text transform="scale(1,1.012)" x="1620.50" y="205.11" font-size="23.0" text-anchor="end">NetTCR</text>
<rect x="1630.50" y="185.19" width="90.20" height="31.90" fill="#faf4f4"/>
<text transform="scale(1,1.012)" x="1673.20" y="205.01" font-size="22.7" text-anchor="middle">0.56</text>
<rect x="1725.15" y="185.19" width="90.20" height="31.90" fill="#edd3d4"/>
<text transform="scale(1,1.012)" x="1767.85" y="205.01" font-size="22.7" text-anchor="middle">0.74</text>
<rect x="1819.80" y="185.19" width="90.20" height="31.90" fill="#dcabac"/>
<text transform="scale(1,1.012)" x="1862.50" y="205.01" font-size="22.7" text-anchor="middle">0.96</text>
<rect x="1914.45" y="185.19" width="90.20" height="31.90" fill="#d3e7ee"/>
<text transform="scale(1,1.012)" x="1957.15" y="205.01" font-size="22.7" text-anchor="middle">0.11</text>
<rect x="2009.10" y="185.19" width="90.20" height="31.90" fill="#dcecf1"/>
<text transform="scale(1,1.012)" x="2051.80" y="205.01" font-size="22.7" text-anchor="middle">0.19</text>
<text transform="scale(1,1.012)" x="1620.50" y="240.72" font-size="23.0" text-anchor="end">ImRex</text>
<rect x="1630.50" y="221.22" width="90.20" height="31.90" fill="#faf4f4"/>
<text transform="scale(1,1.012)" x="1673.20" y="240.61" font-size="22.7" text-anchor="middle">0.56</text>
<rect x="1725.15" y="221.22" width="90.20" height="31.90" fill="#fcf8f8"/>
<text transform="scale(1,1.012)" x="1767.85" y="240.61" font-size="22.7" text-anchor="middle">0.54</text>
<rect x="1819.80" y="221.22" width="90.20" height="31.90" fill="#eed7d7"/>
<text transform="scale(1,1.012)" x="1862.50" y="240.61" font-size="22.7" text-anchor="middle">0.72</text>
<rect x="1914.45" y="221.22" width="90.20" height="31.90" fill="#ecf4f8"/>
<text transform="scale(1,1.012)" x="1957.15" y="240.61" font-size="22.7" text-anchor="middle">0.33</text>
<rect x="2009.10" y="221.22" width="90.20" height="31.90" fill="#f5f9fb"/>
<text transform="scale(1,1.012)" x="2051.80" y="240.61" font-size="22.7" text-anchor="middle">0.41</text>
<text transform="scale(1,1.012)" x="1620.50" y="276.32" font-size="23.0" text-anchor="end">iTCep</text>
<rect x="1630.50" y="257.25" width="90.20" height="31.90" fill="#faf4f4"/>
<text transform="scale(1,1.012)" x="1673.20" y="276.21" font-size="22.7" text-anchor="middle">0.56</text>
<rect x="1725.15" y="257.25" width="90.20" height="31.90" fill="#ffffff"/>
<text transform="scale(1,1.012)" x="1767.85" y="276.21" font-size="22.7" text-anchor="middle">0.50</text>
<rect x="1819.80" y="257.25" width="90.20" height="31.90" fill="#c6e0e9"/>
<text transform="scale(1,1.012)" x="1862.50" y="276.21" font-size="22.7" text-anchor="middle">0.00</text>
<rect x="1914.45" y="257.25" width="90.20" height="31.90" fill="#d9a4a5"/>
<text transform="scale(1,1.012)" x="1957.15" y="276.21" font-size="22.7" text-anchor="middle">1.00</text>
<rect x="2009.10" y="257.25" width="90.20" height="31.90" fill="#f2e0e0"/>
<text transform="scale(1,1.012)" x="2051.80" y="276.21" font-size="22.7" text-anchor="middle">0.67</text>
<text transform="scale(1,1.012)" x="1620.50" y="311.92" font-size="23.0" text-anchor="end">DLpTCR-CNN</text>
<rect x="1630.50" y="293.28" width="90.20" height="31.90" fill="#fbf6f6"/>
<text transform="scale(1,1.012)" x="1673.20" y="311.81" font-size="22.7" text-anchor="middle">0.55</text>
<rect x="1725.15" y="293.28" width="90.20" height="31.90" fill="#fefdfd"/>
<text transform="scale(1,1.012)" x="1767.85" y="311.81" font-size="22.7" text-anchor="middle">0.51</text>
<rect x="1819.80" y="293.28" width="90.20" height="31.90" fill="#e2f0f4"/>
<text transform="scale(1,1.012)" x="1862.50" y="311.81" font-size="22.7" text-anchor="middle">0.25</text>
<rect x="1914.45" y="293.28" width="90.20" height="31.90" fill="#e9cacb"/>
<text transform="scale(1,1.012)" x="1957.15" y="311.81" font-size="22.7" text-anchor="middle">0.79</text>
<rect x="2009.10" y="293.28" width="90.20" height="31.90" fill="#f6e9e9"/>
<text transform="scale(1,1.012)" x="2051.80" y="311.81" font-size="22.7" text-anchor="middle">0.62</text>
<text transform="scale(1,1.012)" x="1620.50" y="347.52" font-size="23.0" text-anchor="end">ERGO-lstm-vdj</text>
<rect x="1630.50" y="329.31" width="90.20" height="31.90" fill="#fcf8f8"/>
<text transform="scale(1,1.012)" x="1673.20" y="347.42" font-size="22.7" text-anchor="middle">0.54</text>
<rect x="1725.15" y="329.31" width="90.20" height="31.90" fill="#fdfafa"/>
<text transform="scale(1,1.012)" x="1767.85" y="347.42" font-size="22.7" text-anchor="middle">0.53</text>
<rect x="1819.80" y="329.31" width="90.20" height="31.90" fill="#e1b8b9"/>
<text transform="scale(1,1.012)" x="1862.50" y="347.42" font-size="22.7" text-anchor="middle">0.89</text>
<rect x="1914.45" y="329.31" width="90.20" height="31.90" fill="#d5e8ef"/>
<text transform="scale(1,1.012)" x="1957.15" y="347.42" font-size="22.7" text-anchor="middle">0.13</text>
<rect x="2009.10" y="329.31" width="90.20" height="31.90" fill="#ddecf2"/>
<text transform="scale(1,1.012)" x="2051.80" y="347.42" font-size="22.7" text-anchor="middle">0.20</text>
<text transform="scale(1,1.012)" x="1620.50" y="383.13" font-size="23.0" text-anchor="end">TEIM</text>
<rect x="1630.50" y="365.34" width="90.20" height="31.90" fill="#fcf8f8"/>
<text transform="scale(1,1.012)" x="1673.20" y="383.02" font-size="22.7" text-anchor="middle">0.54</text>
<rect x="1725.15" y="365.34" width="90.20" height="31.90" fill="#f6e9e9"/>
<text transform="scale(1,1.012)" x="1767.85" y="383.02" font-size="22.7" text-anchor="middle">0.62</text>
<rect x="1819.80" y="365.34" width="90.20" height="31.90" fill="#ddadae"/>
<text transform="scale(1,1.012)" x="1862.50" y="383.02" font-size="22.7" text-anchor="middle">0.95</text>
<rect x="1914.45" y="365.34" width="90.20" height="31.90" fill="#cfe5ed"/>
<text transform="scale(1,1.012)" x="1957.15" y="383.02" font-size="22.7" text-anchor="middle">0.08</text>
<rect x="2009.10" y="365.34" width="90.20" height="31.90" fill="#d7e9f0"/>
<text transform="scale(1,1.012)" x="2051.80" y="383.02" font-size="22.7" text-anchor="middle">0.15</text>
<text transform="scale(1,1.012)" x="1620.50" y="418.73" font-size="23.0" text-anchor="end">TEPCAM</text>
<rect x="1630.50" y="401.37" width="90.20" height="31.90" fill="#fcf8f8"/>
<text transform="scale(1,1.012)" x="1673.20" y="418.62" font-size="22.7" text-anchor="middle">0.54</text>
<rect x="1725.15" y="401.37" width="90.20" height="31.90" fill="#faf4f4"/>
<text transform="scale(1,1.012)" x="1767.85" y="418.62" font-size="22.7" text-anchor="middle">0.56</text>
<rect x="1819.80" y="401.37" width="90.20" height="31.90" fill="#e5c1c2"/>
<text transform="scale(1,1.012)" x="1862.50" y="418.62" font-size="22.7" text-anchor="middle">0.84</text>
<rect x="1914.45" y="401.37" width="90.20" height="31.90" fill="#ddecf2"/>
<text transform="scale(1,1.012)" x="1957.15" y="418.62" font-size="22.7" text-anchor="middle">0.20</text>
<rect x="2009.10" y="401.37" width="90.20" height="31.90" fill="#e8f3f6"/>
<text transform="scale(1,1.012)" x="2051.80" y="418.62" font-size="22.7" text-anchor="middle">0.30</text>
<text transform="scale(1,1.012)" x="1620.50" y="454.33" font-size="23.0" text-anchor="end">PiTE-tcrSplit</text>
<rect x="1630.50" y="437.40" width="90.20" height="31.90" fill="#fcf8f8"/>
<text transform="scale(1,1.012)" x="1673.20" y="454.23" font-size="22.7" text-anchor="middle">0.54</text>
<rect x="1725.15" y="437.40" width="90.20" height="31.90" fill="#ffffff"/>
<text transform="scale(1,1.012)" x="1767.85" y="454.23" font-size="22.7" text-anchor="middle">0.50</text>
<rect x="1819.80" y="437.40" width="90.20" height="31.90" fill="#dcecf1"/>
<text transform="scale(1,1.012)" x="1862.50" y="454.23" font-size="22.7" text-anchor="middle">0.19</text>
<rect x="1914.45" y="437.40" width="90.20" height="31.90" fill="#e7c7c7"/>
<text transform="scale(1,1.012)" x="1957.15" y="454.23" font-size="22.7" text-anchor="middle">0.81</text>
<rect x="2009.10" y="437.40" width="90.20" height="31.90" fill="#f6e9e9"/>
<text transform="scale(1,1.012)" x="2051.80" y="454.23" font-size="22.7" text-anchor="middle">0.62</text>
<text transform="scale(1,1.012)" x="1620.50" y="489.93" font-size="23.0" text-anchor="end">VitTCR</text>
<rect x="1630.50" y="473.43" width="90.20" height="31.90" fill="#fcf8f8"/>
<text transform="scale(1,1.012)" x="1673.20" y="489.83" font-size="22.7" text-anchor="middle">0.54</text>
<rect x="1725.15" y="473.43" width="90.20" height="31.90" fill="#f7ebeb"/>
<text transform="scale(1,1.012)" x="1767.85" y="489.83" font-size="22.7" text-anchor="middle">0.61</text>
<rect x="1819.80" y="473.43" width="90.20" height="31.90" fill="#e3bcbc"/>
<text transform="scale(1,1.012)" x="1862.50" y="489.83" font-size="22.7" text-anchor="middle">0.87</text>
<rect x="1914.45" y="473.43" width="90.20" height="31.90" fill="#deedf2"/>
<text transform="scale(1,1.012)" x="1957.15" y="489.83" font-size="22.7" text-anchor="middle">0.21</text>
<rect x="2009.10" y="473.43" width="90.20" height="31.90" fill="#e9f3f7"/>
<text transform="scale(1,1.012)" x="2051.80" y="489.83" font-size="22.7" text-anchor="middle">0.31</text>
<text transform="scale(1,1.012)" x="1620.50" y="525.54" font-size="23.0" text-anchor="end">epiTCR</text>
<rect x="1630.50" y="509.46" width="90.20" height="31.90" fill="#fdfafa"/>
<text transform="scale(1,1.012)" x="1673.20" y="525.43" font-size="22.7" text-anchor="middle">0.53</text>
<rect x="1725.15" y="509.46" width="90.20" height="31.90" fill="#fefeff"/>
<text transform="scale(1,1.012)" x="1767.85" y="525.43" font-size="22.7" text-anchor="middle">0.49</text>
<rect x="1819.80" y="509.46" width="90.20" height="31.90" fill="#e0eef3"/>
<text transform="scale(1,1.012)" x="1862.50" y="525.43" font-size="22.7" text-anchor="middle">0.23</text>
<rect x="1914.45" y="509.46" width="90.20" height="31.90" fill="#ecd2d2"/>
<text transform="scale(1,1.012)" x="1957.15" y="525.43" font-size="22.7" text-anchor="middle">0.75</text>
<rect x="2009.10" y="509.46" width="90.20" height="31.90" fill="#f7eded"/>
<text transform="scale(1,1.012)" x="2051.80" y="525.43" font-size="22.7" text-anchor="middle">0.60</text>
<text transform="scale(1,1.012)" x="1620.50" y="561.14" font-size="23.0" text-anchor="end">PiTE-epiSplit</text>
<rect x="1630.50" y="545.49" width="90.20" height="31.90" fill="#fdfafa"/>
<text transform="scale(1,1.012)" x="1673.20" y="561.03" font-size="22.7" text-anchor="middle">0.53</text>
<rect x="1725.15" y="545.49" width="90.20" height="31.90" fill="#ffffff"/>
<text transform="scale(1,1.012)" x="1767.85" y="561.03" font-size="22.7" text-anchor="middle">0.50</text>
<rect x="1819.80" y="545.49" width="90.20" height="31.90" fill="#c7e1e9"/>
<text transform="scale(1,1.012)" x="1862.50" y="561.03" font-size="22.7" text-anchor="middle">0.01</text>
<rect x="1914.45" y="545.49" width="90.20" height="31.90" fill="#daa6a7"/>
<text transform="scale(1,1.012)" x="1957.15" y="561.03" font-size="22.7" text-anchor="middle">0.99</text>
<rect x="2009.10" y="545.49" width="90.20" height="31.90" fill="#f2e0e0"/>
<text transform="scale(1,1.012)" x="2051.80" y="561.03" font-size="22.7" text-anchor="middle">0.67</text>
<text transform="scale(1,1.012)" x="1620.50" y="596.74" font-size="23.0" text-anchor="end">DLpTCR-RESNET</text>
<rect x="1630.50" y="581.52" width="90.20" height="31.90" fill="#fdfafa"/>
<text transform="scale(1,1.012)" x="1673.20" y="596.64" font-size="22.7" text-anchor="middle">0.53</text>
<rect x="1725.15" y="581.52" width="90.20" height="31.90" fill="#ffffff"/>
<text transform="scale(1,1.012)" x="1767.85" y="596.64" font-size="22.7" text-anchor="middle">0.50</text>
<rect x="1819.80" y="581.52" width="90.20" height="31.90" fill="#dbebf1"/>
<text transform="scale(1,1.012)" x="1862.50" y="596.64" font-size="22.7" text-anchor="middle">0.18</text>
<rect x="1914.45" y="581.52" width="90.20" height="31.90" fill="#e6c3c4"/>
<text transform="scale(1,1.012)" x="1957.15" y="596.64" font-size="22.7" text-anchor="middle">0.83</text>
<rect x="2009.10" y="581.52" width="90.20" height="31.90" fill="#f6e9e9"/>
<text transform="scale(1,1.012)" x="2051.80" y="596.64" font-size="22.7" text-anchor="middle">0.62</text>
<text transform="scale(1,1.012)" x="1620.50" y="632.35" font-size="23.0" text-anchor="end">ERGO-AE-vdj</text>
<rect x="1630.50" y="617.55" width="90.20" height="31.90" fill="#fdfafa"/>
<text transform="scale(1,1.012)" x="1673.20" y="632.24" font-size="22.7" text-anchor="middle">0.53</text>
<rect x="1725.15" y="617.55" width="90.20" height="31.90" fill="#eed5d6"/>
<text transform="scale(1,1.012)" x="1767.85" y="632.24" font-size="22.7" text-anchor="middle">0.73</text>
<rect x="1819.80" y="617.55" width="90.20" height="31.90" fill="#dba8a9"/>
<text transform="scale(1,1.012)" x="1862.50" y="632.24" font-size="22.7" text-anchor="middle">0.98</text>
<rect x="1914.45" y="617.55" width="90.20" height="31.90" fill="#cce3eb"/>
<text transform="scale(1,1.012)" x="1957.15" y="632.24" font-size="22.7" text-anchor="middle">0.05</text>
<rect x="2009.10" y="617.55" width="90.20" height="31.90" fill="#d0e6ed"/>
<text transform="scale(1,1.012)" x="2051.80" y="632.24" font-size="22.7" text-anchor="middle">0.09</text>
<text transform="scale(1,1.012)" x="1620.50" y="667.95" font-size="23.0" text-anchor="end">DLpTCR-FULL</text>
<rect x="1630.50" y="653.58" width="90.20" height="31.90" fill="#fdfafa"/>
<text transform="scale(1,1.012)" x="1673.20" y="667.84" font-size="22.7" text-anchor="middle">0.53</text>
<rect x="1725.15" y="653.58" width="90.20" height="31.90" fill="#fdfbfb"/>
<text transform="scale(1,1.012)" x="1767.85" y="667.84" font-size="22.7" text-anchor="middle">0.52</text>
<rect x="1819.80" y="653.58" width="90.20" height="31.90" fill="#f7fbfc"/>
<text transform="scale(1,1.012)" x="1862.50" y="667.84" font-size="22.7" text-anchor="middle">0.43</text>
<rect x="1914.45" y="653.58" width="90.20" height="31.90" fill="#f6e9e9"/>
<text transform="scale(1,1.012)" x="1957.15" y="667.84" font-size="22.7" text-anchor="middle">0.62</text>
<rect x="2009.10" y="653.58" width="90.20" height="31.90" fill="#faf2f2"/>
<text transform="scale(1,1.012)" x="2051.80" y="667.84" font-size="22.7" text-anchor="middle">0.57</text>
<text transform="scale(1,1.012)" x="1620.50" y="703.55" font-size="23.0" text-anchor="end">ERGO-AE-mc</text>
<rect x="1630.50" y="689.61" width="90.20" height="31.90" fill="#fdfafa"/>
<text transform="scale(1,1.012)" x="1673.20" y="703.45" font-size="22.7" text-anchor="middle">0.53</text>
<rect x="1725.15" y="689.61" width="90.20" height="31.90" fill="#fcf8f8"/>
<text transform="scale(1,1.012)" x="1767.85" y="703.45" font-size="22.7" text-anchor="middle">0.54</text>
<rect x="1819.80" y="689.61" width="90.20" height="31.90" fill="#deb1b2"/>
<text transform="scale(1,1.012)" x="1862.50" y="703.45" font-size="22.7" text-anchor="middle">0.93</text>
<rect x="1914.45" y="689.61" width="90.20" height="31.90" fill="#cfe5ed"/>
<text transform="scale(1,1.012)" x="1957.15" y="703.45" font-size="22.7" text-anchor="middle">0.08</text>
<rect x="2009.10" y="689.61" width="90.20" height="31.90" fill="#d6e9ef"/>
<text transform="scale(1,1.012)" x="2051.80" y="703.45" font-size="22.7" text-anchor="middle">0.14</text>
<text transform="scale(1,1.012)" x="1620.50" y="739.15" font-size="23.0" text-anchor="end">AttnTAP-mc</text>
<rect x="1630.50" y="725.64" width="90.20" height="31.90" fill="#fdfbfb"/>
<text transform="scale(1,1.012)" x="1673.20" y="739.05" font-size="22.7" text-anchor="middle">0.52</text>
<rect x="1725.15" y="725.64" width="90.20" height="31.90" fill="#ffffff"/>
<text transform="scale(1,1.012)" x="1767.85" y="739.05" font-size="22.7" text-anchor="middle">0.50</text>
<rect x="1819.80" y="725.64" width="90.20" height="31.90" fill="#c7e1e9"/>
<text transform="scale(1,1.012)" x="1862.50" y="739.05" font-size="22.7" text-anchor="middle">0.01</text>
<rect x="1914.45" y="725.64" width="90.20" height="31.90" fill="#daa6a7"/>
<text transform="scale(1,1.012)" x="1957.15" y="739.05" font-size="22.7" text-anchor="middle">0.99</text>
<rect x="2009.10" y="725.64" width="90.20" height="31.90" fill="#f3e2e2"/>
<text transform="scale(1,1.012)" x="2051.80" y="739.05" font-size="22.7" text-anchor="middle">0.66</text>
<text transform="scale(1,1.012)" x="1620.50" y="774.76" font-size="23.0" text-anchor="end">TCRGP</text>
<rect x="1630.50" y="761.67" width="90.20" height="31.90" fill="#fdfbfb"/>
<text transform="scale(1,1.012)" x="1673.20" y="774.65" font-size="22.7" text-anchor="middle">0.52</text>
<rect x="1725.15" y="761.67" width="90.20" height="31.90" fill="#faf4f4"/>
<text transform="scale(1,1.012)" x="1767.85" y="774.65" font-size="22.7" text-anchor="middle">0.56</text>
<rect x="1819.80" y="761.67" width="90.20" height="31.90" fill="#e1b6b7"/>
<text transform="scale(1,1.012)" x="1862.50" y="774.65" font-size="22.7" text-anchor="middle">0.90</text>
<rect x="1914.45" y="761.67" width="90.20" height="31.90" fill="#d4e7ee"/>
<text transform="scale(1,1.012)" x="1957.15" y="774.65" font-size="22.7" text-anchor="middle">0.12</text>
<rect x="2009.10" y="761.67" width="90.20" height="31.90" fill="#ddecf2"/>
<text transform="scale(1,1.012)" x="2051.80" y="774.65" font-size="22.7" text-anchor="middle">0.20</text>
<text transform="scale(1,1.012)" x="1620.50" y="810.36" font-size="23.0" text-anchor="end">TEINet-small</text>
<rect x="1630.50" y="797.70" width="90.20" height="31.90" fill="#fdfbfb"/>
<text transform="scale(1,1.012)" x="1673.20" y="810.25" font-size="22.7" text-anchor="middle">0.52</text>
<rect x="1725.15" y="797.70" width="90.20" height="31.90" fill="#faf2f2"/>
<text transform="scale(1,1.012)" x="1767.85" y="810.25" font-size="22.7" text-anchor="middle">0.57</text>
<rect x="1819.80" y="797.70" width="90.20" height="31.90" fill="#e1b6b7"/>
<text transform="scale(1,1.012)" x="1862.50" y="810.25" font-size="22.7" text-anchor="middle">0.90</text>
<rect x="1914.45" y="797.70" width="90.20" height="31.90" fill="#d6e9ef"/>
<text transform="scale(1,1.012)" x="1957.15" y="810.25" font-size="22.7" text-anchor="middle">0.14</text>
<rect x="2009.10" y="797.70" width="90.20" height="31.90" fill="#dfeef3"/>
<text transform="scale(1,1.012)" x="2051.80" y="810.25" font-size="22.7" text-anchor="middle">0.22</text>
<text transform="scale(1,1.012)" x="1620.50" y="845.96" font-size="23.0" text-anchor="end">TEINet-large</text>
<rect x="1630.50" y="833.73" width="90.20" height="31.90" fill="#fefdfd"/>
<text transform="scale(1,1.012)" x="1673.20" y="845.86" font-size="22.7" text-anchor="middle">0.51</text>
<rect x="1725.15" y="833.73" width="90.20" height="31.90" fill="#faf4f4"/>
<text transform="scale(1,1.012)" x="1767.85" y="845.86" font-size="22.7" text-anchor="middle">0.56</text>
<rect x="1819.80" y="833.73" width="90.20" height="31.90" fill="#dfb3b3"/>
<text transform="scale(1,1.012)" x="1862.50" y="845.86" font-size="22.7" text-anchor="middle">0.92</text>
<rect x="1914.45" y="833.73" width="90.20" height="31.90" fill="#d1e6ed"/>
<text transform="scale(1,1.012)" x="1957.15" y="845.86" font-size="22.7" text-anchor="middle">0.10</text>
<rect x="2009.10" y="833.73" width="90.20" height="31.90" fill="#d9ebf0"/>
<text transform="scale(1,1.012)" x="2051.80" y="845.86" font-size="22.7" text-anchor="middle">0.17</text>
<text transform="scale(1,1.012)" x="1620.50" y="881.57" font-size="23.0" text-anchor="end">TCR-BERT</text>
<rect x="1630.50" y="869.76" width="90.20" height="31.90" fill="#ffffff"/>
<text transform="scale(1,1.012)" x="1673.20" y="881.46" font-size="22.7" text-anchor="middle">0.50</text>
<rect x="1725.15" y="869.76" width="90.20" height="31.90" fill="#d9a4a5"/>
<text transform="scale(1,1.012)" x="1767.85" y="881.46" font-size="22.7" text-anchor="middle">1.00</text>
<rect x="1819.80" y="869.76" width="90.20" height="31.90" fill="#d9a4a5"/>
<text transform="scale(1,1.012)" x="1862.50" y="881.46" font-size="22.7" text-anchor="middle">1.00</text>
<rect x="1914.45" y="869.76" width="90.20" height="31.90" fill="#c9e2ea"/>
<text transform="scale(1,1.012)" x="1957.15" y="881.46" font-size="22.7" text-anchor="middle">0.03</text>
<rect x="2009.10" y="869.76" width="90.20" height="31.90" fill="#cde4ec"/>
<text transform="scale(1,1.012)" x="2051.80" y="881.46" font-size="22.7" text-anchor="middle">0.06</text>
<text transform="scale(1,1.012)" x="1620.50" y="917.17" font-size="23.0" text-anchor="end">ERGO-lstm-mc</text>
<rect x="1630.50" y="905.79" width="90.20" height="31.90" fill="#ffffff"/>
<text transform="scale(1,1.012)" x="1673.20" y="917.06" font-size="22.7" text-anchor="middle">0.50</text>
<rect x="1725.15" y="905.79" width="90.20" height="31.90" fill="#ffffff"/>
<text transform="scale(1,1.012)" x="1767.85" y="917.06" font-size="22.7" text-anchor="middle">0.50</text>
<rect x="1819.80" y="905.79" width="90.20" height="31.90" fill="#e3bcbc"/>
<text transform="scale(1,1.012)" x="1862.50" y="917.06" font-size="22.7" text-anchor="middle">0.87</text>
<rect x="1914.45" y="905.79" width="90.20" height="31.90" fill="#d5e8ef"/>
<text transform="scale(1,1.012)" x="1957.15" y="917.06" font-size="22.7" text-anchor="middle">0.13</text>
<rect x="2009.10" y="905.79" width="90.20" height="31.90" fill="#deedf2"/>
<text transform="scale(1,1.012)" x="2051.80" y="917.06" font-size="22.7" text-anchor="middle">0.21</text>
<text transform="scale(1,1.012)" x="1620.50" y="952.77" font-size="23.0" text-anchor="end">TPBTE-vdj</text>
<rect x="1630.50" y="941.82" width="90.20" height="31.90" fill="#ffffff"/>
<text transform="scale(1,1.012)" x="1673.20" y="952.66" font-size="22.7" text-anchor="middle">0.50</text>
<rect x="1725.15" y="941.82" width="90.20" height="31.90" fill="#c6e0e9"/>
<text transform="scale(1,1.012)" x="1767.85" y="952.66" font-size="22.7" text-anchor="middle">0.00</text>
<rect x="1819.80" y="941.82" width="90.20" height="31.90" fill="#d9a4a5"/>
<text transform="scale(1,1.012)" x="1862.50" y="952.66" font-size="22.7" text-anchor="middle">1.00</text>
<rect x="1914.45" y="941.82" width="90.20" height="31.90" fill="#c6e0e9"/>
<text transform="scale(1,1.012)" x="1957.15" y="952.66" font-size="22.7" text-anchor="middle">0.00</text>
<rect x="2009.10" y="941.82" width="90.20" height="31.90" fill="#c6e0e9"/>
<text transform="scale(1,1.012)" x="2051.80" y="952.66" font-size="22.7" text-anchor="middle">0.00</text>
<text transform="scale(1,1.012)" x="1620.50" y="988.37" font-size="23.0" text-anchor="end">MCMC</text>
<rect x="1630.50" y="977.85" width="90.20" height="31.90" fill="#ffffff"/>
<text transform="scale(1,1.012)" x="1673.20" y="988.27" font-size="22.7" text-anchor="middle">0.50</text>
<rect x="1725.15" y="977.85" width="90.20" height="31.90" fill="#c6e0e9"/>
<text transform="scale(1,1.012)" x="1767.85" y="988.27" font-size="22.7" text-anchor="middle">0.00</text>
<rect x="1819.80" y="977.85" width="90.20" height="31.90" fill="#d9a4a5"/>
<text transform="scale(1,1.012)" x="1862.50" y="988.27" font-size="22.7" text-anchor="middle">1.00</text>
<rect x="1914.45" y="977.85" width="90.20" height="31.90" fill="#c6e0e9"/>
<text transform="scale(1,1.012)" x="1957.15" y="988.27" font-size="22.7" text-anchor="middle">0.00</text>
<rect x="2009.10" y="977.85" width="90.20" height="31.90" fill="#c6e0e9"/>
<text transform="scale(1,1.012)" x="2051.80" y="988.27" font-size="22.7" text-anchor="middle">0.00</text>
<text transform="scale(1,1.012)" x="1620.50" y="1023.98" font-size="23.0" text-anchor="end">SETE</text>
<rect x="1630.50" y="1013.88" width="90.20" height="31.90" fill="#fdfefe"/>
<text transform="scale(1,1.012)" x="1673.20" y="1023.87" font-size="22.7" text-anchor="middle">0.48</text>
<rect x="1725.15" y="1013.88" width="90.20" height="31.90" fill="#f9fcfd"/>
<text transform="scale(1,1.012)" x="1767.85" y="1023.87" font-size="22.7" text-anchor="middle">0.45</text>
<rect x="1819.80" y="1013.88" width="90.20" height="31.90" fill="#edd3d4"/>
<text transform="scale(1,1.012)" x="1862.50" y="1023.87" font-size="22.7" text-anchor="middle">0.74</text>
<rect x="1914.45" y="1013.88" width="90.20" height="31.90" fill="#dfeef3"/>
<text transform="scale(1,1.012)" x="1957.15" y="1023.87" font-size="22.7" text-anchor="middle">0.22</text>
<rect x="2009.10" y="1013.88" width="90.20" height="31.90" fill="#e7f2f6"/>
<text transform="scale(1,1.012)" x="2051.80" y="1023.87" font-size="22.7" text-anchor="middle">0.29</text>
<text transform="scale(1,1.012)" x="1620.50" y="1059.58" font-size="23.0" text-anchor="end">AttnTAP-vdj</text>
<rect x="1630.50" y="1049.91" width="90.20" height="31.90" fill="#fcfdfe"/>
<text transform="scale(1,1.012)" x="1673.20" y="1059.47" font-size="22.7" text-anchor="middle">0.47</text>
<rect x="1725.15" y="1049.91" width="90.20" height="31.90" fill="#ffffff"/>
<text transform="scale(1,1.012)" x="1767.85" y="1059.47" font-size="22.7" text-anchor="middle">0.50</text>
<rect x="1819.80" y="1049.91" width="90.20" height="31.90" fill="#c6e0e9"/>
<text transform="scale(1,1.012)" x="1862.50" y="1059.47" font-size="22.7" text-anchor="middle">0.00</text>
<rect x="1914.45" y="1049.91" width="90.20" height="31.90" fill="#d9a4a5"/>
<text transform="scale(1,1.012)" x="1957.15" y="1059.47" font-size="22.7" text-anchor="middle">1.00</text>
<rect x="2009.10" y="1049.91" width="90.20" height="31.90" fill="#f2e0e0"/>
<text transform="scale(1,1.012)" x="2051.80" y="1059.47" font-size="22.7" text-anchor="middle">0.67</text>
<text transform="scale(1,1.012)" x="1620.50" y="1095.18" font-size="23.0" text-anchor="end">TPBTE-mc</text>
<rect x="1630.50" y="1085.94" width="90.20" height="31.90" fill="#fcfdfe"/>
<text transform="scale(1,1.012)" x="1673.20" y="1095.08" font-size="22.7" text-anchor="middle">0.47</text>
<rect x="1725.15" y="1085.94" width="90.20" height="31.90" fill="#c6e0e9"/>
<text transform="scale(1,1.012)" x="1767.85" y="1095.08" font-size="22.7" text-anchor="middle">0.00</text>
<rect x="1819.80" y="1085.94" width="90.20" height="31.90" fill="#d9a4a5"/>
<text transform="scale(1,1.012)" x="1862.50" y="1095.08" font-size="22.7" text-anchor="middle">1.00</text>
<rect x="1914.45" y="1085.94" width="90.20" height="31.90" fill="#c6e0e9"/>
<text transform="scale(1,1.012)" x="1957.15" y="1095.08" font-size="22.7" text-anchor="middle">0.00</text>
<rect x="2009.10" y="1085.94" width="90.20" height="31.90" fill="#c6e0e9"/>
<text transform="scale(1,1.012)" x="2051.80" y="1095.08" font-size="22.7" text-anchor="middle">0.00</text>
<text transform="scale(1,1.012)" x="1620.50" y="1130.78" font-size="23.0" text-anchor="end">TITAN</text>
<rect x="1630.50" y="1121.97" width="90.20" height="31.90" fill="#f9fcfd"/>
<text transform="scale(1,1.012)" x="1673.20" y="1130.68" font-size="22.7" text-anchor="middle">0.45</text>
<rect x="1725.15" y="1121.97" width="90.20" height="31.90" fill="#c6e0e9"/>
<text transform="scale(1,1.012)" x="1767.85" y="1130.68" font-size="22.7" text-anchor="middle">0.00</text>
<rect x="1819.80" y="1121.97" width="90.20" height="31.90" fill="#d9a4a5"/>
<text transform="scale(1,1.012)" x="1862.50" y="1130.68" font-size="22.7" text-anchor="middle">1.00</text>
<rect x="1914.45" y="1121.97" width="90.20" height="31.90" fill="#c6e0e9"/>
<text transform="scale(1,1.012)" x="1957.15" y="1130.68" font-size="22.7" text-anchor="middle">0.00</text>
<rect x="2009.10" y="1121.97" width="90.20" height="31.90" fill="#c6e0e9"/>
<text transform="scale(1,1.012)" x="2051.80" y="1130.68" font-size="22.7" text-anchor="middle">0.00</text>
<text transform="scale(1,1.012)" x="1665.35" y="1174.04" font-size="22.7" text-anchor="middle">AUPRC</text>
<text transform="scale(1,1.012)" x="1772.70" y="1171.77" font-size="22.7" text-anchor="middle">Precision</text>
<text transform="scale(1,1.012)" x="1879.25" y="1174.04" font-size="22.7" text-anchor="middle">Specificity</text>
<text transform="scale(1,1.012)" x="1969.00" y="1174.04" font-size="22.7" text-anchor="middle">Recall</text>
<text transform="scale(1,1.012)" x="2051.95" y="1174.04" font-size="22.7" text-anchor="middle">F1</text>
</g>
<g id="panel-d">
<text transform="scale(1,1.012)" x="3.00" y="596.05" font-size="47.3" class="b L">d</text>
<text transform="scale(1,1.012)" x="433.80" y="609.19" font-size="25.2" text-anchor="middle" class="b">Unseen / CDR3β+others (U_Data2) / AS</text>
<text transform="scale(1,1.012)" x="191.40" y="649.93" font-size="23.0" text-anchor="end">ERGOII-vdj</text>
<rect x="202.50" y="631.30" width="93.10" height="38.80" fill="#f9f0f1"/>
<text transform="scale(1,1.012)" x="245.25" y="649.87" font-size="23.1" text-anchor="middle">0.58</text>
<rect x="299.55" y="631.30" width="93.10" height="38.80" fill="#eed5d6"/>
<text transform="scale(1,1.012)" x="342.30" y="649.87" font-size="23.1" text-anchor="middle">0.73</text>
<rect x="396.60" y="631.30" width="93.10" height="38.80" fill="#dcabac"/>
<text transform="scale(1,1.012)" x="439.35" y="649.87" font-size="23.1" text-anchor="middle">0.96</text>
<rect x="493.65" y="631.30" width="93.10" height="38.80" fill="#d4e7ee"/>
<text transform="scale(1,1.012)" x="536.40" y="649.87" font-size="23.1" text-anchor="middle">0.12</text>
<rect x="590.70" y="631.30" width="93.10" height="38.80" fill="#deedf2"/>
<text transform="scale(1,1.012)" x="633.45" y="649.87" font-size="23.1" text-anchor="middle">0.21</text>
<text transform="scale(1,1.012)" x="191.40" y="692.78" font-size="23.0" text-anchor="end">PISTE-random</text>
<rect x="202.50" y="674.79" width="93.10" height="38.80" fill="#faf2f2"/>
<text transform="scale(1,1.012)" x="245.25" y="692.73" font-size="23.1" text-anchor="middle">0.57</text>
<rect x="299.55" y="674.79" width="93.10" height="38.80" fill="#faf4f4"/>
<text transform="scale(1,1.012)" x="342.30" y="692.73" font-size="23.1" text-anchor="middle">0.56</text>
<rect x="396.60" y="674.79" width="93.10" height="38.80" fill="#e2babb"/>
<text transform="scale(1,1.012)" x="439.35" y="692.73" font-size="23.1" text-anchor="middle">0.88</text>
<rect x="493.65" y="674.79" width="93.10" height="38.80" fill="#d7e9f0"/>
<text transform="scale(1,1.012)" x="536.40" y="692.73" font-size="23.1" text-anchor="middle">0.15</text>
<rect x="590.70" y="674.79" width="93.10" height="38.80" fill="#e1eff4"/>
<text transform="scale(1,1.012)" x="633.45" y="692.73" font-size="23.1" text-anchor="middle">0.24</text>
<text transform="scale(1,1.012)" x="191.40" y="735.63" font-size="23.0" text-anchor="end">vibtcr-AB</text>
<rect x="202.50" y="718.28" width="93.10" height="38.80" fill="#faf4f4"/>
<text transform="scale(1,1.012)" x="245.25" y="735.59" font-size="23.1" text-anchor="middle">0.56</text>
<rect x="299.55" y="718.28" width="93.10" height="38.80" fill="#fdfefe"/>
<text transform="scale(1,1.012)" x="342.30" y="735.59" font-size="23.1" text-anchor="middle">0.48</text>
<rect x="396.60" y="718.28" width="93.10" height="38.80" fill="#dfeef3"/>
<text transform="scale(1,1.012)" x="439.35" y="735.59" font-size="23.1" text-anchor="middle">0.22</text>
<rect x="493.65" y="718.28" width="93.10" height="38.80" fill="#eed7d7"/>
<text transform="scale(1,1.012)" x="536.40" y="735.59" font-size="23.1" text-anchor="middle">0.72</text>
<rect x="590.70" y="718.28" width="93.10" height="38.80" fill="#faf2f2"/>
<text transform="scale(1,1.012)" x="633.45" y="735.59" font-size="23.1" text-anchor="middle">0.57</text>
<text transform="scale(1,1.012)" x="191.40" y="778.48" font-size="23.0" text-anchor="end">epiTCR-BH</text>
<rect x="202.50" y="761.77" width="93.10" height="38.80" fill="#faf4f4"/>
<text transform="scale(1,1.012)" x="245.25" y="778.46" font-size="23.1" text-anchor="middle">0.56</text>
<rect x="299.55" y="761.77" width="93.10" height="38.80" fill="#ffffff"/>
<text transform="scale(1,1.012)" x="342.30" y="778.46" font-size="23.1" text-anchor="middle">0.50</text>
<rect x="396.60" y="761.77" width="93.10" height="38.80" fill="#c9e2ea"/>
<text transform="scale(1,1.012)" x="439.35" y="778.46" font-size="23.1" text-anchor="middle">0.03</text>
<rect x="493.65" y="761.77" width="93.10" height="38.80" fill="#dba9aa"/>
<text transform="scale(1,1.012)" x="536.40" y="778.46" font-size="23.1" text-anchor="middle">0.97</text>
<rect x="590.70" y="761.77" width="93.10" height="38.80" fill="#f3e2e2"/>
<text transform="scale(1,1.012)" x="633.45" y="778.46" font-size="23.1" text-anchor="middle">0.66</text>
<text transform="scale(1,1.012)" x="191.40" y="821.32" font-size="23.0" text-anchor="end">PISTE-unipep</text>
<rect x="202.50" y="805.26" width="93.10" height="38.80" fill="#fbf6f6"/>
<text transform="scale(1,1.012)" x="245.25" y="821.32" font-size="23.1" text-anchor="middle">0.55</text>
<rect x="299.55" y="805.26" width="93.10" height="38.80" fill="#ffffff"/>
<text transform="scale(1,1.012)" x="342.30" y="821.32" font-size="23.1" text-anchor="middle">0.50</text>
<rect x="396.60" y="805.26" width="93.10" height="38.80" fill="#dba9aa"/>
<text transform="scale(1,1.012)" x="439.35" y="821.32" font-size="23.1" text-anchor="middle">0.97</text>
<rect x="493.65" y="805.26" width="93.10" height="38.80" fill="#c9e2ea"/>
<text transform="scale(1,1.012)" x="536.40" y="821.32" font-size="23.1" text-anchor="middle">0.03</text>
<rect x="590.70" y="805.26" width="93.10" height="38.80" fill="#cde4ec"/>
<text transform="scale(1,1.012)" x="633.45" y="821.32" font-size="23.1" text-anchor="middle">0.06</text>
<text transform="scale(1,1.012)" x="191.40" y="864.17" font-size="23.0" text-anchor="end">PISTE-reftcr</text>
<rect x="202.50" y="848.75" width="93.10" height="38.80" fill="#fcf8f8"/>
<text transform="scale(1,1.012)" x="245.25" y="864.18" font-size="23.1" text-anchor="middle">0.54</text>
<rect x="299.55" y="848.75" width="93.10" height="38.80" fill="#f9f0f1"/>
<text transform="scale(1,1.012)" x="342.30" y="864.18" font-size="23.1" text-anchor="middle">0.58</text>
<rect x="396.60" y="848.75" width="93.10" height="38.80" fill="#deb1b2"/>
<text transform="scale(1,1.012)" x="439.35" y="864.18" font-size="23.1" text-anchor="middle">0.93</text>
<rect x="493.65" y="848.75" width="93.10" height="38.80" fill="#d1e6ed"/>
<text transform="scale(1,1.012)" x="536.40" y="864.18" font-size="23.1" text-anchor="middle">0.10</text>
<rect x="590.70" y="848.75" width="93.10" height="38.80" fill="#dbebf1"/>
<text transform="scale(1,1.012)" x="633.45" y="864.18" font-size="23.1" text-anchor="middle">0.18</text>
<text transform="scale(1,1.012)" x="191.40" y="907.02" font-size="23.0" text-anchor="end">NetTCR-AB</text>
<rect x="202.50" y="892.24" width="93.10" height="38.80" fill="#ffffff"/>
<text transform="scale(1,1.012)" x="245.25" y="907.04" font-size="23.1" text-anchor="middle">0.50</text>
<rect x="299.55" y="892.24" width="93.10" height="38.80" fill="#ffffff"/>
<text transform="scale(1,1.012)" x="342.30" y="907.04" font-size="23.1" text-anchor="middle">0.50</text>
<rect x="396.60" y="892.24" width="93.10" height="38.80" fill="#d5e8ef"/>
<text transform="scale(1,1.012)" x="439.35" y="907.04" font-size="23.1" text-anchor="middle">0.13</text>
<rect x="493.65" y="892.24" width="93.10" height="38.80" fill="#e2babb"/>
<text transform="scale(1,1.012)" x="536.40" y="907.04" font-size="23.1" text-anchor="middle">0.88</text>
<rect x="590.70" y="892.24" width="93.10" height="38.80" fill="#f4e6e6"/>
<text transform="scale(1,1.012)" x="633.45" y="907.04" font-size="23.1" text-anchor="middle">0.64</text>
<text transform="scale(1,1.012)" x="191.40" y="949.87" font-size="23.0" text-anchor="end">ERGOII-mc</text>
<rect x="202.50" y="935.73" width="93.10" height="38.80" fill="#fcfdfe"/>
<text transform="scale(1,1.012)" x="245.25" y="949.90" font-size="23.1" text-anchor="middle">0.47</text>
<rect x="299.55" y="935.73" width="93.10" height="38.80" fill="#ffffff"/>
<text transform="scale(1,1.012)" x="342.30" y="949.90" font-size="23.1" text-anchor="middle">0.50</text>
<rect x="396.60" y="935.73" width="93.10" height="38.80" fill="#deb1b2"/>
<text transform="scale(1,1.012)" x="439.35" y="949.90" font-size="23.1" text-anchor="middle">0.93</text>
<rect x="493.65" y="935.73" width="93.10" height="38.80" fill="#cee4ec"/>
<text transform="scale(1,1.012)" x="536.40" y="949.90" font-size="23.1" text-anchor="middle">0.07</text>
<rect x="590.70" y="935.73" width="93.10" height="38.80" fill="#d5e8ef"/>
<text transform="scale(1,1.012)" x="633.45" y="949.90" font-size="23.1" text-anchor="middle">0.13</text>
<text transform="scale(1,1.012)" x="243.25" y="984.22" font-size="22.7" text-anchor="middle">AUPRC</text>
<text transform="scale(1,1.012)" x="342.75" y="984.22" font-size="22.7" text-anchor="middle">Precision</text>
<text transform="scale(1,1.012)" x="448.50" y="984.22" font-size="22.7" text-anchor="middle">Specificity</text>
<text transform="scale(1,1.012)" x="544.90" y="984.22" font-size="22.7" text-anchor="middle">Recall</text>
<text transform="scale(1,1.012)" x="638.15" y="984.22" font-size="22.7" text-anchor="middle">F1</text>
</g>
<g id="panel-e">
<text transform="scale(1,1.012)" x="2.80" y="1053.95" font-size="47.3" class="b L">e</text>
<text transform="scale(1,1.012)" x="247.60" y="1067.19" font-size="24.45" class="b">Unseen / CDR3β-only</text>
<text transform="scale(1,1.012)" x="502.60" y="1067.19" font-size="25" class="b" textLength="104.2" lengthAdjust="spacingAndGlyphs">(U_Data2)</text>
<text transform="scale(1,1.012)" x="202.50" y="1101.33" font-size="22.56" text-anchor="end">ATM−TCR</text>
<rect x="220.10" y="1090.10" width="18.15" height="36.55" fill="#d9a6a5" shape-rendering="crispEdges"/>
<rect x="237.75" y="1090.10" width="18.15" height="36.55" fill="#f9eeed" shape-rendering="crispEdges"/>
<rect x="255.40" y="1090.10" width="18.15" height="36.55" fill="#cce3eb" shape-rendering="crispEdges"/>
<rect x="273.05" y="1090.10" width="18.15" height="36.55" fill="#dcecf2" shape-rendering="crispEdges"/>
<rect x="290.70" y="1090.10" width="18.15" height="36.55" fill="#d9a6a5" shape-rendering="crispEdges"/>
<rect x="308.35" y="1090.10" width="18.15" height="36.55" fill="#cce3eb" shape-rendering="crispEdges"/>
<rect x="326.00" y="1090.10" width="18.15" height="36.55" fill="#e5bdbd" shape-rendering="crispEdges"/>
<rect x="343.65" y="1090.10" width="18.15" height="36.55" fill="#d9a6a5" shape-rendering="crispEdges"/>
<rect x="361.30" y="1090.10" width="18.15" height="36.55" fill="#cce3eb" shape-rendering="crispEdges"/>
<rect x="378.95" y="1090.10" width="18.15" height="36.55" fill="#e5bdbd" shape-rendering="crispEdges"/>
<rect x="396.60" y="1090.10" width="18.15" height="36.55" fill="#d9a6a5" shape-rendering="crispEdges"/>
<rect x="414.25" y="1090.10" width="18.15" height="36.55" fill="#eaf2f7" shape-rendering="crispEdges"/>
<rect x="431.90" y="1090.10" width="18.15" height="36.55" fill="#dcecf2" shape-rendering="crispEdges"/>
<rect x="449.55" y="1090.10" width="18.15" height="36.55" fill="#dcecf2" shape-rendering="crispEdges"/>
<rect x="487.00" y="1093.90" width="180.00" height="32.20" fill="#eeefef"/>
<rect x="487.00" y="1093.90" width="105.02" height="32.20" fill="#90b1c6"/>
<text transform="scale(1,1.012)" x="202.50" y="1136.95" font-size="22.56" text-anchor="end">ERGO−lstm−vdj</text>
<rect x="220.10" y="1126.14" width="18.15" height="36.55" fill="#cce3eb" shape-rendering="crispEdges"/>
<rect x="237.75" y="1126.14" width="18.15" height="36.55" fill="#e5bdbd" shape-rendering="crispEdges"/>
<rect x="255.40" y="1126.14" width="18.15" height="36.55" fill="#cce3eb" shape-rendering="crispEdges"/>
<rect x="273.05" y="1126.14" width="18.15" height="36.55" fill="#cce3eb" shape-rendering="crispEdges"/>
<rect x="290.70" y="1126.14" width="18.15" height="36.55" fill="#cce3eb" shape-rendering="crispEdges"/>
<rect x="308.35" y="1126.14" width="18.15" height="36.55" fill="#cce3eb" shape-rendering="crispEdges"/>
<rect x="326.00" y="1126.14" width="18.15" height="36.55" fill="#f0d8d8" shape-rendering="crispEdges"/>
<rect x="343.65" y="1126.14" width="18.15" height="36.55" fill="#d9a6a5" shape-rendering="crispEdges"/>
<rect x="361.30" y="1126.14" width="18.15" height="36.55" fill="#d9a6a5" shape-rendering="crispEdges"/>
<rect x="378.95" y="1126.14" width="18.15" height="36.55" fill="#e5bdbd" shape-rendering="crispEdges"/>
<rect x="396.60" y="1126.14" width="18.15" height="36.55" fill="#cce3eb" shape-rendering="crispEdges"/>
<rect x="414.25" y="1126.14" width="18.15" height="36.55" fill="#eaf2f7" shape-rendering="crispEdges"/>
<rect x="431.90" y="1126.14" width="18.15" height="36.55" fill="#f9eeed" shape-rendering="crispEdges"/>
<rect x="449.55" y="1126.14" width="18.15" height="36.55" fill="#f0d8d8" shape-rendering="crispEdges"/>
<rect x="487.00" y="1129.95" width="180.00" height="32.20" fill="#eeefef"/>
<rect x="487.00" y="1129.95" width="99.68" height="32.20" fill="#90b1c6"/>
<text transform="scale(1,1.012)" x="202.50" y="1172.57" font-size="22.56" text-anchor="end">TEINet−large</text>
<rect x="220.10" y="1162.19" width="18.15" height="36.55" fill="#cce3eb" shape-rendering="crispEdges"/>
<rect x="237.75" y="1162.19" width="18.15" height="36.55" fill="#ffffff" shape-rendering="crispEdges"/>
<rect x="255.40" y="1162.19" width="18.15" height="36.55" fill="#d9a6a5" shape-rendering="crispEdges"/>
<rect x="273.05" y="1162.19" width="18.15" height="36.55" fill="#ffffff" shape-rendering="crispEdges"/>
<rect x="290.70" y="1162.19" width="18.15" height="36.55" fill="#cce3eb" shape-rendering="crispEdges"/>
<rect x="308.35" y="1162.19" width="18.15" height="36.55" fill="#cce3eb" shape-rendering="crispEdges"/>
<rect x="326.00" y="1162.19" width="18.15" height="36.55" fill="#e5bdbd" shape-rendering="crispEdges"/>
<rect x="343.65" y="1162.19" width="18.15" height="36.55" fill="#d9a6a5" shape-rendering="crispEdges"/>
<rect x="361.30" y="1162.19" width="18.15" height="36.55" fill="#d9a6a5" shape-rendering="crispEdges"/>
<rect x="378.95" y="1162.19" width="18.15" height="36.55" fill="#eaf2f7" shape-rendering="crispEdges"/>
<rect x="396.60" y="1162.19" width="18.15" height="36.55" fill="#cce3eb" shape-rendering="crispEdges"/>
<rect x="414.25" y="1162.19" width="18.15" height="36.55" fill="#eaf2f7" shape-rendering="crispEdges"/>
<rect x="431.90" y="1162.19" width="18.15" height="36.55" fill="#dcecf2" shape-rendering="crispEdges"/>
<rect x="449.55" y="1162.19" width="18.15" height="36.55" fill="#f0d8d8" shape-rendering="crispEdges"/>
<rect x="487.00" y="1165.99" width="180.00" height="32.20" fill="#eeefef"/>
<rect x="487.00" y="1165.99" width="97.90" height="32.20" fill="#90b1c6"/>
<text transform="scale(1,1.012)" x="202.50" y="1208.19" font-size="22.56" text-anchor="end">ERGO−AE−mc</text>
<rect x="220.10" y="1198.23" width="18.15" height="36.55" fill="#d9a6a5" shape-rendering="crispEdges"/>
<rect x="237.75" y="1198.23" width="18.15" height="36.55" fill="#e5bdbd" shape-rendering="crispEdges"/>
<rect x="255.40" y="1198.23" width="18.15" height="36.55" fill="#d9a6a5" shape-rendering="crispEdges"/>
<rect x="273.05" y="1198.23" width="18.15" height="36.55" fill="#f9eeed" shape-rendering="crispEdges"/>
<rect x="290.70" y="1198.23" width="18.15" height="36.55" fill="#cce3eb" shape-rendering="crispEdges"/>
<rect x="308.35" y="1198.23" width="18.15" height="36.55" fill="#cce3eb" shape-rendering="crispEdges"/>
<rect x="326.00" y="1198.23" width="18.15" height="36.55" fill="#dcecf2" shape-rendering="crispEdges"/>
<rect x="343.65" y="1198.23" width="18.15" height="36.55" fill="#d9a6a5" shape-rendering="crispEdges"/>
<rect x="361.30" y="1198.23" width="18.15" height="36.55" fill="#cce3eb" shape-rendering="crispEdges"/>
<rect x="378.95" y="1198.23" width="18.15" height="36.55" fill="#f0d8d8" shape-rendering="crispEdges"/>
<rect x="396.60" y="1198.23" width="18.15" height="36.55" fill="#dcecf2" shape-rendering="crispEdges"/>
<rect x="414.25" y="1198.23" width="18.15" height="36.55" fill="#dcecf2" shape-rendering="crispEdges"/>
<rect x="431.90" y="1198.23" width="18.15" height="36.55" fill="#dcecf2" shape-rendering="crispEdges"/>
<rect x="449.55" y="1198.23" width="18.15" height="36.55" fill="#cce3eb" shape-rendering="crispEdges"/>
<rect x="487.00" y="1202.04" width="180.00" height="32.20" fill="#eeefef"/>
<rect x="487.00" y="1202.04" width="97.90" height="32.20" fill="#90b1c6"/>
<text transform="scale(1,1.012)" x="202.50" y="1243.80" font-size="22.56" text-anchor="end">TEPCAM</text>
<rect x="220.10" y="1234.28" width="18.15" height="36.55" fill="#cce3eb" shape-rendering="crispEdges"/>
<rect x="237.75" y="1234.28" width="18.15" height="36.55" fill="#dcecf2" shape-rendering="crispEdges"/>
<rect x="255.40" y="1234.28" width="18.15" height="36.55" fill="#d9a6a5" shape-rendering="crispEdges"/>
<rect x="273.05" y="1234.28" width="18.15" height="36.55" fill="#dcecf2" shape-rendering="crispEdges"/>
<rect x="290.70" y="1234.28" width="18.15" height="36.55" fill="#cce3eb" shape-rendering="crispEdges"/>
<rect x="308.35" y="1234.28" width="18.15" height="36.55" fill="#cce3eb" shape-rendering="crispEdges"/>
<rect x="326.00" y="1234.28" width="18.15" height="36.55" fill="#e5bdbd" shape-rendering="crispEdges"/>
<rect x="343.65" y="1234.28" width="18.15" height="36.55" fill="#d9a6a5" shape-rendering="crispEdges"/>
<rect x="361.30" y="1234.28" width="18.15" height="36.55" fill="#cce3eb" shape-rendering="crispEdges"/>
<rect x="378.95" y="1234.28" width="18.15" height="36.55" fill="#cce3eb" shape-rendering="crispEdges"/>
<rect x="396.60" y="1234.28" width="18.15" height="36.55" fill="#f0d8d8" shape-rendering="crispEdges"/>
<rect x="414.25" y="1234.28" width="18.15" height="36.55" fill="#f9eeed" shape-rendering="crispEdges"/>
<rect x="431.90" y="1234.28" width="18.15" height="36.55" fill="#dcecf2" shape-rendering="crispEdges"/>
<rect x="449.55" y="1234.28" width="18.15" height="36.55" fill="#f0d8d8" shape-rendering="crispEdges"/>
<rect x="487.00" y="1238.08" width="180.00" height="32.20" fill="#eeefef"/>
<rect x="487.00" y="1238.08" width="96.12" height="32.20" fill="#90b1c6"/>
<text transform="scale(1,1.012)" x="202.50" y="1279.42" font-size="22.56" text-anchor="end">DLpTCR−CNN</text>
<rect x="220.10" y="1270.32" width="18.15" height="36.55" fill="#d9a6a5" shape-rendering="crispEdges"/>
<rect x="237.75" y="1270.32" width="18.15" height="36.55" fill="#eaf2f7" shape-rendering="crispEdges"/>
<rect x="255.40" y="1270.32" width="18.15" height="36.55" fill="#d9a6a5" shape-rendering="crispEdges"/>
<rect x="273.05" y="1270.32" width="18.15" height="36.55" fill="#ffffff" shape-rendering="crispEdges"/>
<rect x="290.70" y="1270.32" width="18.15" height="36.55" fill="#d9a6a5" shape-rendering="crispEdges"/>
<rect x="308.35" y="1270.32" width="18.15" height="36.55" fill="#d9a6a5" shape-rendering="crispEdges"/>
<rect x="326.00" y="1270.32" width="18.15" height="36.55" fill="#ffffff" shape-rendering="crispEdges"/>
<rect x="343.65" y="1270.32" width="18.15" height="36.55" fill="#d9a6a5" shape-rendering="crispEdges"/>
<rect x="361.30" y="1270.32" width="18.15" height="36.55" fill="#d9a6a5" shape-rendering="crispEdges"/>
<rect x="378.95" y="1270.32" width="18.15" height="36.55" fill="#e5bdbd" shape-rendering="crispEdges"/>
<rect x="396.60" y="1270.32" width="18.15" height="36.55" fill="#d9a6a5" shape-rendering="crispEdges"/>
<rect x="414.25" y="1270.32" width="18.15" height="36.55" fill="#eaf2f7" shape-rendering="crispEdges"/>
<rect x="431.90" y="1270.32" width="18.15" height="36.55" fill="#eaf2f7" shape-rendering="crispEdges"/>
<rect x="449.55" y="1270.32" width="18.15" height="36.55" fill="#f9eeed" shape-rendering="crispEdges"/>
<rect x="487.00" y="1274.12" width="180.00" height="32.20" fill="#eeefef"/>
<rect x="487.00" y="1274.12" width="96.12" height="32.20" fill="#90b1c6"/>
<text transform="scale(1,1.012)" x="202.50" y="1315.04" font-size="22.56" text-anchor="end">TEIM</text>
<rect x="220.10" y="1306.37" width="18.15" height="36.55" fill="#d9a6a5" shape-rendering="crispEdges"/>
<rect x="237.75" y="1306.37" width="18.15" height="36.55" fill="#ffffff" shape-rendering="crispEdges"/>
<rect x="255.40" y="1306.37" width="18.15" height="36.55" fill="#cce3eb" shape-rendering="crispEdges"/>
<rect x="273.05" y="1306.37" width="18.15" height="36.55" fill="#f9eeed" shape-rendering="crispEdges"/>
<rect x="290.70" y="1306.37" width="18.15" height="36.55" fill="#cce3eb" shape-rendering="crispEdges"/>
<rect x="308.35" y="1306.37" width="18.15" height="36.55" fill="#d9a6a5" shape-rendering="crispEdges"/>
<rect x="326.00" y="1306.37" width="18.15" height="36.55" fill="#d9a6a5" shape-rendering="crispEdges"/>
<rect x="343.65" y="1306.37" width="18.15" height="36.55" fill="#cce3eb" shape-rendering="crispEdges"/>
<rect x="361.30" y="1306.37" width="18.15" height="36.55" fill="#cce3eb" shape-rendering="crispEdges"/>
<rect x="378.95" y="1306.37" width="18.15" height="36.55" fill="#e5bdbd" shape-rendering="crispEdges"/>
<rect x="396.60" y="1306.37" width="18.15" height="36.55" fill="#d9a6a5" shape-rendering="crispEdges"/>
<rect x="414.25" y="1306.37" width="18.15" height="36.55" fill="#dcecf2" shape-rendering="crispEdges"/>
<rect x="431.90" y="1306.37" width="18.15" height="36.55" fill="#ffffff" shape-rendering="crispEdges"/>
<rect x="449.55" y="1306.37" width="18.15" height="36.55" fill="#cce3eb" shape-rendering="crispEdges"/>
<rect x="487.00" y="1310.17" width="180.00" height="32.20" fill="#eeefef"/>
<rect x="487.00" y="1310.17" width="96.12" height="32.20" fill="#90b1c6"/>
<text transform="scale(1,1.012)" x="202.50" y="1350.66" font-size="22.56" text-anchor="end">PiTE−tcrSplit</text>
<rect x="220.10" y="1342.41" width="18.15" height="36.55" fill="#d9a6a5" shape-rendering="crispEdges"/>
<rect x="237.75" y="1342.41" width="18.15" height="36.55" fill="#ffffff" shape-rendering="crispEdges"/>
<rect x="255.40" y="1342.41" width="18.15" height="36.55" fill="#cce3eb" shape-rendering="crispEdges"/>
<rect x="273.05" y="1342.41" width="18.15" height="36.55" fill="#f0d8d8" shape-rendering="crispEdges"/>
<rect x="290.70" y="1342.41" width="18.15" height="36.55" fill="#cce3eb" shape-rendering="crispEdges"/>
<rect x="308.35" y="1342.41" width="18.15" height="36.55" fill="#d9a6a5" shape-rendering="crispEdges"/>
<rect x="326.00" y="1342.41" width="18.15" height="36.55" fill="#f0d8d8" shape-rendering="crispEdges"/>
<rect x="343.65" y="1342.41" width="18.15" height="36.55" fill="#d9a6a5" shape-rendering="crispEdges"/>
<rect x="361.30" y="1342.41" width="18.15" height="36.55" fill="#d9a6a5" shape-rendering="crispEdges"/>
<rect x="378.95" y="1342.41" width="18.15" height="36.55" fill="#dcecf2" shape-rendering="crispEdges"/>
<rect x="396.60" y="1342.41" width="18.15" height="36.55" fill="#f9eeed" shape-rendering="crispEdges"/>
<rect x="414.25" y="1342.41" width="18.15" height="36.55" fill="#eaf2f7" shape-rendering="crispEdges"/>
<rect x="431.90" y="1342.41" width="18.15" height="36.55" fill="#eaf2f7" shape-rendering="crispEdges"/>
<rect x="449.55" y="1342.41" width="18.15" height="36.55" fill="#dcecf2" shape-rendering="crispEdges"/>
<rect x="487.00" y="1346.22" width="180.00" height="32.20" fill="#eeefef"/>
<rect x="487.00" y="1346.22" width="94.34" height="32.20" fill="#90b1c6"/>
<text transform="scale(1,1.012)" x="202.50" y="1386.27" font-size="22.56" text-anchor="end">PiTE−epiSplit</text>
<rect x="220.10" y="1378.46" width="18.15" height="36.55" fill="#d9a6a5" shape-rendering="crispEdges"/>
<rect x="237.75" y="1378.46" width="18.15" height="36.55" fill="#ffffff" shape-rendering="crispEdges"/>
<rect x="255.40" y="1378.46" width="18.15" height="36.55" fill="#d9a6a5" shape-rendering="crispEdges"/>
<rect x="273.05" y="1378.46" width="18.15" height="36.55" fill="#f0d8d8" shape-rendering="crispEdges"/>
<rect x="290.70" y="1378.46" width="18.15" height="36.55" fill="#cce3eb" shape-rendering="crispEdges"/>
<rect x="308.35" y="1378.46" width="18.15" height="36.55" fill="#d9a6a5" shape-rendering="crispEdges"/>
<rect x="326.00" y="1378.46" width="18.15" height="36.55" fill="#f0d8d8" shape-rendering="crispEdges"/>
<rect x="343.65" y="1378.46" width="18.15" height="36.55" fill="#d9a6a5" shape-rendering="crispEdges"/>
<rect x="361.30" y="1378.46" width="18.15" height="36.55" fill="#cce3eb" shape-rendering="crispEdges"/>
<rect x="378.95" y="1378.46" width="18.15" height="36.55" fill="#ffffff" shape-rendering="crispEdges"/>
<rect x="396.60" y="1378.46" width="18.15" height="36.55" fill="#f9eeed" shape-rendering="crispEdges"/>
<rect x="414.25" y="1378.46" width="18.15" height="36.55" fill="#dcecf2" shape-rendering="crispEdges"/>
<rect x="431.90" y="1378.46" width="18.15" height="36.55" fill="#eaf2f7" shape-rendering="crispEdges"/>
<rect x="449.55" y="1378.46" width="18.15" height="36.55" fill="#dcecf2" shape-rendering="crispEdges"/>
<rect x="487.00" y="1382.26" width="180.00" height="32.20" fill="#eeefef"/>
<rect x="487.00" y="1382.26" width="92.56" height="32.20" fill="#90b1c6"/>
<text transform="scale(1,1.012)" x="202.50" y="1421.89" font-size="22.56" text-anchor="end">iTCep</text>
<rect x="220.10" y="1414.50" width="18.15" height="36.55" fill="#cce3eb" shape-rendering="crispEdges"/>
<rect x="237.75" y="1414.50" width="18.15" height="36.55" fill="#cce3eb" shape-rendering="crispEdges"/>
<rect x="255.40" y="1414.50" width="18.15" height="36.55" fill="#cce3eb" shape-rendering="crispEdges"/>
<rect x="273.05" y="1414.50" width="18.15" height="36.55" fill="#cce3eb" shape-rendering="crispEdges"/>
<rect x="290.70" y="1414.50" width="18.15" height="36.55" fill="#d9a6a5" shape-rendering="crispEdges"/>
<rect x="308.35" y="1414.50" width="18.15" height="36.55" fill="#cce3eb" shape-rendering="crispEdges"/>
<rect x="326.00" y="1414.50" width="18.15" height="36.55" fill="#e5bdbd" shape-rendering="crispEdges"/>
<rect x="343.65" y="1414.50" width="18.15" height="36.55" fill="#d9a6a5" shape-rendering="crispEdges"/>
<rect x="361.30" y="1414.50" width="18.15" height="36.55" fill="#cce3eb" shape-rendering="crispEdges"/>
<rect x="378.95" y="1414.50" width="18.15" height="36.55" fill="#ffffff" shape-rendering="crispEdges"/>
<rect x="396.60" y="1414.50" width="18.15" height="36.55" fill="#f0d8d8" shape-rendering="crispEdges"/>
<rect x="414.25" y="1414.50" width="18.15" height="36.55" fill="#eaf2f7" shape-rendering="crispEdges"/>
<rect x="431.90" y="1414.50" width="18.15" height="36.55" fill="#dcecf2" shape-rendering="crispEdges"/>
<rect x="449.55" y="1414.50" width="18.15" height="36.55" fill="#f0d8d8" shape-rendering="crispEdges"/>
<rect x="487.00" y="1418.31" width="180.00" height="32.20" fill="#eeefef"/>
<rect x="487.00" y="1418.31" width="92.56" height="32.20" fill="#90b1c6"/>
<text transform="scale(1,1.012)" x="202.50" y="1457.51" font-size="22.56" text-anchor="end">TITAN</text>
<rect x="220.10" y="1450.55" width="18.15" height="36.55" fill="#d9a6a5" shape-rendering="crispEdges"/>
<rect x="237.75" y="1450.55" width="18.15" height="36.55" fill="#dcecf2" shape-rendering="crispEdges"/>
<rect x="255.40" y="1450.55" width="18.15" height="36.55" fill="#d9a6a5" shape-rendering="crispEdges"/>
<rect x="273.05" y="1450.55" width="18.15" height="36.55" fill="#eaf2f7" shape-rendering="crispEdges"/>
<rect x="290.70" y="1450.55" width="18.15" height="36.55" fill="#d9a6a5" shape-rendering="crispEdges"/>
<rect x="308.35" y="1450.55" width="18.15" height="36.55" fill="#cce3eb" shape-rendering="crispEdges"/>
<rect x="326.00" y="1450.55" width="18.15" height="36.55" fill="#dcecf2" shape-rendering="crispEdges"/>
<rect x="343.65" y="1450.55" width="18.15" height="36.55" fill="#d9a6a5" shape-rendering="crispEdges"/>
<rect x="361.30" y="1450.55" width="18.15" height="36.55" fill="#cce3eb" shape-rendering="crispEdges"/>
<rect x="378.95" y="1450.55" width="18.15" height="36.55" fill="#dcecf2" shape-rendering="crispEdges"/>
<rect x="396.60" y="1450.55" width="18.15" height="36.55" fill="#dcecf2" shape-rendering="crispEdges"/>
<rect x="414.25" y="1450.55" width="18.15" height="36.55" fill="#eaf2f7" shape-rendering="crispEdges"/>
<rect x="431.90" y="1450.55" width="18.15" height="36.55" fill="#dcecf2" shape-rendering="crispEdges"/>
<rect x="449.55" y="1450.55" width="18.15" height="36.55" fill="#d9a6a5" shape-rendering="crispEdges"/>
<rect x="487.00" y="1454.35" width="180.00" height="32.20" fill="#eeefef"/>
<rect x="487.00" y="1454.35" width="92.56" height="32.20" fill="#90b1c6"/>
<text transform="scale(1,1.012)" x="202.50" y="1493.13" font-size="22.56" text-anchor="end">NetTCR</text>
<rect x="220.10" y="1486.59" width="18.15" height="36.55" fill="#cce3eb" shape-rendering="crispEdges"/>
<rect x="237.75" y="1486.59" width="18.15" height="36.55" fill="#cce3eb" shape-rendering="crispEdges"/>
<rect x="255.40" y="1486.59" width="18.15" height="36.55" fill="#cce3eb" shape-rendering="crispEdges"/>
<rect x="273.05" y="1486.59" width="18.15" height="36.55" fill="#dcecf2" shape-rendering="crispEdges"/>
<rect x="290.70" y="1486.59" width="18.15" height="36.55" fill="#d9a6a5" shape-rendering="crispEdges"/>
<rect x="308.35" y="1486.59" width="18.15" height="36.55" fill="#d9a6a5" shape-rendering="crispEdges"/>
<rect x="326.00" y="1486.59" width="18.15" height="36.55" fill="#d9a6a5" shape-rendering="crispEdges"/>
<rect x="343.65" y="1486.59" width="18.15" height="36.55" fill="#cce3eb" shape-rendering="crispEdges"/>
<rect x="361.30" y="1486.59" width="18.15" height="36.55" fill="#cce3eb" shape-rendering="crispEdges"/>
<rect x="378.95" y="1486.59" width="18.15" height="36.55" fill="#ffffff" shape-rendering="crispEdges"/>
<rect x="396.60" y="1486.59" width="18.15" height="36.55" fill="#d9a6a5" shape-rendering="crispEdges"/>
<rect x="414.25" y="1486.59" width="18.15" height="36.55" fill="#ffffff" shape-rendering="crispEdges"/>
<rect x="431.90" y="1486.59" width="18.15" height="36.55" fill="#dcecf2" shape-rendering="crispEdges"/>
<rect x="449.55" y="1486.59" width="18.15" height="36.55" fill="#f9eeed" shape-rendering="crispEdges"/>
<rect x="487.00" y="1490.39" width="180.00" height="32.20" fill="#eeefef"/>
<rect x="487.00" y="1490.39" width="90.78" height="32.20" fill="#90b1c6"/>
<text transform="scale(1,1.012)" x="202.50" y="1528.74" font-size="22.56" text-anchor="end">DLpTCR−RESNET</text>
<rect x="220.10" y="1522.64" width="18.15" height="36.55" fill="#d9a6a5" shape-rendering="crispEdges"/>
<rect x="237.75" y="1522.64" width="18.15" height="36.55" fill="#e5bdbd" shape-rendering="crispEdges"/>
<rect x="255.40" y="1522.64" width="18.15" height="36.55" fill="#d9a6a5" shape-rendering="crispEdges"/>
<rect x="273.05" y="1522.64" width="18.15" height="36.55" fill="#f9eeed" shape-rendering="crispEdges"/>
<rect x="290.70" y="1522.64" width="18.15" height="36.55" fill="#d9a6a5" shape-rendering="crispEdges"/>
<rect x="308.35" y="1522.64" width="18.15" height="36.55" fill="#d9a6a5" shape-rendering="crispEdges"/>
<rect x="326.00" y="1522.64" width="18.15" height="36.55" fill="#dcecf2" shape-rendering="crispEdges"/>
<rect x="343.65" y="1522.64" width="18.15" height="36.55" fill="#d9a6a5" shape-rendering="crispEdges"/>
<rect x="361.30" y="1522.64" width="18.15" height="36.55" fill="#d9a6a5" shape-rendering="crispEdges"/>
<rect x="378.95" y="1522.64" width="18.15" height="36.55" fill="#ffffff" shape-rendering="crispEdges"/>
<rect x="396.60" y="1522.64" width="18.15" height="36.55" fill="#f9eeed" shape-rendering="crispEdges"/>
<rect x="414.25" y="1522.64" width="18.15" height="36.55" fill="#dcecf2" shape-rendering="crispEdges"/>
<rect x="431.90" y="1522.64" width="18.15" height="36.55" fill="#dcecf2" shape-rendering="crispEdges"/>
<rect x="449.55" y="1522.64" width="18.15" height="36.55" fill="#f9eeed" shape-rendering="crispEdges"/>
<rect x="487.00" y="1526.44" width="180.00" height="32.20" fill="#eeefef"/>
<rect x="487.00" y="1526.44" width="90.78" height="32.20" fill="#90b1c6"/>
<text transform="scale(1,1.012)" x="202.50" y="1564.36" font-size="22.56" text-anchor="end">epiTCR</text>
<rect x="220.10" y="1558.68" width="18.15" height="36.55" fill="#d9a6a5" shape-rendering="crispEdges"/>
<rect x="237.75" y="1558.68" width="18.15" height="36.55" fill="#ffffff" shape-rendering="crispEdges"/>
<rect x="255.40" y="1558.68" width="18.15" height="36.55" fill="#cce3eb" shape-rendering="crispEdges"/>
<rect x="273.05" y="1558.68" width="18.15" height="36.55" fill="#dcecf2" shape-rendering="crispEdges"/>
<rect x="290.70" y="1558.68" width="18.15" height="36.55" fill="#d9a6a5" shape-rendering="crispEdges"/>
<rect x="308.35" y="1558.68" width="18.15" height="36.55" fill="#d9a6a5" shape-rendering="crispEdges"/>
<rect x="326.00" y="1558.68" width="18.15" height="36.55" fill="#ffffff" shape-rendering="crispEdges"/>
<rect x="343.65" y="1558.68" width="18.15" height="36.55" fill="#d9a6a5" shape-rendering="crispEdges"/>
<rect x="361.30" y="1558.68" width="18.15" height="36.55" fill="#d9a6a5" shape-rendering="crispEdges"/>
<rect x="378.95" y="1558.68" width="18.15" height="36.55" fill="#eaf2f7" shape-rendering="crispEdges"/>
<rect x="396.60" y="1558.68" width="18.15" height="36.55" fill="#cce3eb" shape-rendering="crispEdges"/>
<rect x="414.25" y="1558.68" width="18.15" height="36.55" fill="#dcecf2" shape-rendering="crispEdges"/>
<rect x="431.90" y="1558.68" width="18.15" height="36.55" fill="#dcecf2" shape-rendering="crispEdges"/>
<rect x="449.55" y="1558.68" width="18.15" height="36.55" fill="#f0d8d8" shape-rendering="crispEdges"/>
<rect x="487.00" y="1562.49" width="180.00" height="32.20" fill="#eeefef"/>
<rect x="487.00" y="1562.49" width="90.78" height="32.20" fill="#90b1c6"/>
<text transform="scale(1,1.012)" x="202.50" y="1599.98" font-size="22.56" text-anchor="end">TCRfinder</text>
<rect x="220.10" y="1594.73" width="18.15" height="36.55" fill="#cce3eb" shape-rendering="crispEdges"/>
<rect x="237.75" y="1594.73" width="18.15" height="36.55" fill="#eaf2f7" shape-rendering="crispEdges"/>
<rect x="255.40" y="1594.73" width="18.15" height="36.55" fill="#cce3eb" shape-rendering="crispEdges"/>
<rect x="273.05" y="1594.73" width="18.15" height="36.55" fill="#f0d8d8" shape-rendering="crispEdges"/>
<rect x="290.70" y="1594.73" width="18.15" height="36.55" fill="#cce3eb" shape-rendering="crispEdges"/>
<rect x="308.35" y="1594.73" width="18.15" height="36.55" fill="#cce3eb" shape-rendering="crispEdges"/>
<rect x="326.00" y="1594.73" width="18.15" height="36.55" fill="#dcecf2" shape-rendering="crispEdges"/>
<rect x="343.65" y="1594.73" width="18.15" height="36.55" fill="#d9a6a5" shape-rendering="crispEdges"/>
<rect x="361.30" y="1594.73" width="18.15" height="36.55" fill="#d9a6a5" shape-rendering="crispEdges"/>
<rect x="378.95" y="1594.73" width="18.15" height="36.55" fill="#eaf2f7" shape-rendering="crispEdges"/>
<rect x="396.60" y="1594.73" width="18.15" height="36.55" fill="#dcecf2" shape-rendering="crispEdges"/>
<rect x="414.25" y="1594.73" width="18.15" height="36.55" fill="#eaf2f7" shape-rendering="crispEdges"/>
<rect x="431.90" y="1594.73" width="18.15" height="36.55" fill="#cce3eb" shape-rendering="crispEdges"/>
<rect x="449.55" y="1594.73" width="18.15" height="36.55" fill="#cce3eb" shape-rendering="crispEdges"/>
<rect x="487.00" y="1598.53" width="180.00" height="32.20" fill="#eeefef"/>
<rect x="487.00" y="1598.53" width="90.78" height="32.20" fill="#90b1c6"/>
<text transform="scale(1,1.012)" x="202.50" y="1635.60" font-size="22.56" text-anchor="end">TPBTE−vdj</text>
<rect x="220.10" y="1630.78" width="18.15" height="36.55" fill="#eaf2f7" shape-rendering="crispEdges"/>
<rect x="237.75" y="1630.78" width="18.15" height="36.55" fill="#eaf2f7" shape-rendering="crispEdges"/>
<rect x="255.40" y="1630.78" width="18.15" height="36.55" fill="#eaf2f7" shape-rendering="crispEdges"/>
<rect x="273.05" y="1630.78" width="18.15" height="36.55" fill="#eaf2f7" shape-rendering="crispEdges"/>
<rect x="290.70" y="1630.78" width="18.15" height="36.55" fill="#eaf2f7" shape-rendering="crispEdges"/>
<rect x="308.35" y="1630.78" width="18.15" height="36.55" fill="#eaf2f7" shape-rendering="crispEdges"/>
<rect x="326.00" y="1630.78" width="18.15" height="36.55" fill="#eaf2f7" shape-rendering="crispEdges"/>
<rect x="343.65" y="1630.78" width="18.15" height="36.55" fill="#eaf2f7" shape-rendering="crispEdges"/>
<rect x="361.30" y="1630.78" width="18.15" height="36.55" fill="#eaf2f7" shape-rendering="crispEdges"/>
<rect x="378.95" y="1630.78" width="18.15" height="36.55" fill="#eaf2f7" shape-rendering="crispEdges"/>
<rect x="396.60" y="1630.78" width="18.15" height="36.55" fill="#eaf2f7" shape-rendering="crispEdges"/>
<rect x="414.25" y="1630.78" width="18.15" height="36.55" fill="#eaf2f7" shape-rendering="crispEdges"/>
<rect x="431.90" y="1630.78" width="18.15" height="36.55" fill="#eaf2f7" shape-rendering="crispEdges"/>
<rect x="449.55" y="1630.78" width="18.15" height="36.55" fill="#eaf2f7" shape-rendering="crispEdges"/>
<rect x="487.00" y="1634.58" width="180.00" height="32.20" fill="#eeefef"/>
<rect x="487.00" y="1634.58" width="89.00" height="32.20" fill="#90b1c6"/>
<text transform="scale(1,1.012)" x="202.50" y="1671.21" font-size="22.56" text-anchor="end">MCMC</text>
<rect x="220.10" y="1666.82" width="18.15" height="36.55" fill="#eaf2f7" shape-rendering="crispEdges"/>
<rect x="237.75" y="1666.82" width="18.15" height="36.55" fill="#eaf2f7" shape-rendering="crispEdges"/>
<rect x="255.40" y="1666.82" width="18.15" height="36.55" fill="#eaf2f7" shape-rendering="crispEdges"/>
<rect x="273.05" y="1666.82" width="18.15" height="36.55" fill="#eaf2f7" shape-rendering="crispEdges"/>
<rect x="290.70" y="1666.82" width="18.15" height="36.55" fill="#eaf2f7" shape-rendering="crispEdges"/>
<rect x="308.35" y="1666.82" width="18.15" height="36.55" fill="#eaf2f7" shape-rendering="crispEdges"/>
<rect x="326.00" y="1666.82" width="18.15" height="36.55" fill="#eaf2f7" shape-rendering="crispEdges"/>
<rect x="343.65" y="1666.82" width="18.15" height="36.55" fill="#eaf2f7" shape-rendering="crispEdges"/>
<rect x="361.30" y="1666.82" width="18.15" height="36.55" fill="#eaf2f7" shape-rendering="crispEdges"/>
<rect x="378.95" y="1666.82" width="18.15" height="36.55" fill="#eaf2f7" shape-rendering="crispEdges"/>
<rect x="396.60" y="1666.82" width="18.15" height="36.55" fill="#eaf2f7" shape-rendering="crispEdges"/>
<rect x="414.25" y="1666.82" width="18.15" height="36.55" fill="#eaf2f7" shape-rendering="crispEdges"/>
<rect x="431.90" y="1666.82" width="18.15" height="36.55" fill="#eaf2f7" shape-rendering="crispEdges"/>
<rect x="449.55" y="1666.82" width="18.15" height="36.55" fill="#eaf2f7" shape-rendering="crispEdges"/>
<rect x="487.00" y="1670.62" width="180.00" height="32.20" fill="#eeefef"/>
<rect x="487.00" y="1670.62" width="89.00" height="32.20" fill="#90b1c6"/>
<text transform="scale(1,1.012)" x="202.50" y="1706.83" font-size="22.56" text-anchor="end">PanPep</text>
<rect x="220.10" y="1702.86" width="18.15" height="36.55" fill="#cce3eb" shape-rendering="crispEdges"/>
<rect x="237.75" y="1702.86" width="18.15" height="36.55" fill="#cce3eb" shape-rendering="crispEdges"/>
<rect x="255.40" y="1702.86" width="18.15" height="36.55" fill="#d9a6a5" shape-rendering="crispEdges"/>
<rect x="273.05" y="1702.86" width="18.15" height="36.55" fill="#e5bdbd" shape-rendering="crispEdges"/>
<rect x="290.70" y="1702.86" width="18.15" height="36.55" fill="#cce3eb" shape-rendering="crispEdges"/>
<rect x="308.35" y="1702.86" width="18.15" height="36.55" fill="#cce3eb" shape-rendering="crispEdges"/>
<rect x="326.00" y="1702.86" width="18.15" height="36.55" fill="#f0d8d8" shape-rendering="crispEdges"/>
<rect x="343.65" y="1702.86" width="18.15" height="36.55" fill="#d9a6a5" shape-rendering="crispEdges"/>
<rect x="361.30" y="1702.86" width="18.15" height="36.55" fill="#d9a6a5" shape-rendering="crispEdges"/>
<rect x="378.95" y="1702.86" width="18.15" height="36.55" fill="#e5bdbd" shape-rendering="crispEdges"/>
<rect x="396.60" y="1702.86" width="18.15" height="36.55" fill="#dcecf2" shape-rendering="crispEdges"/>
<rect x="414.25" y="1702.86" width="18.15" height="36.55" fill="#eaf2f7" shape-rendering="crispEdges"/>
<rect x="431.90" y="1702.86" width="18.15" height="36.55" fill="#dcecf2" shape-rendering="crispEdges"/>
<rect x="449.55" y="1702.86" width="18.15" height="36.55" fill="#cce3eb" shape-rendering="crispEdges"/>
<rect x="487.00" y="1706.66" width="180.00" height="32.20" fill="#eeefef"/>
<rect x="487.00" y="1706.66" width="89.00" height="32.20" fill="#90b1c6"/>
<text transform="scale(1,1.012)" x="202.50" y="1742.45" font-size="22.56" text-anchor="end">ERGO−AE−vdj</text>
<rect x="220.10" y="1738.91" width="18.15" height="36.55" fill="#d9a6a5" shape-rendering="crispEdges"/>
<rect x="237.75" y="1738.91" width="18.15" height="36.55" fill="#eaf2f7" shape-rendering="crispEdges"/>
<rect x="255.40" y="1738.91" width="18.15" height="36.55" fill="#cce3eb" shape-rendering="crispEdges"/>
<rect x="273.05" y="1738.91" width="18.15" height="36.55" fill="#f9eeed" shape-rendering="crispEdges"/>
<rect x="290.70" y="1738.91" width="18.15" height="36.55" fill="#cce3eb" shape-rendering="crispEdges"/>
<rect x="308.35" y="1738.91" width="18.15" height="36.55" fill="#cce3eb" shape-rendering="crispEdges"/>
<rect x="326.00" y="1738.91" width="18.15" height="36.55" fill="#e5bdbd" shape-rendering="crispEdges"/>
<rect x="343.65" y="1738.91" width="18.15" height="36.55" fill="#cce3eb" shape-rendering="crispEdges"/>
<rect x="361.30" y="1738.91" width="18.15" height="36.55" fill="#cce3eb" shape-rendering="crispEdges"/>
<rect x="378.95" y="1738.91" width="18.15" height="36.55" fill="#e5bdbd" shape-rendering="crispEdges"/>
<rect x="396.60" y="1738.91" width="18.15" height="36.55" fill="#dcecf2" shape-rendering="crispEdges"/>
<rect x="414.25" y="1738.91" width="18.15" height="36.55" fill="#dcecf2" shape-rendering="crispEdges"/>
<rect x="431.90" y="1738.91" width="18.15" height="36.55" fill="#ffffff" shape-rendering="crispEdges"/>
<rect x="449.55" y="1738.91" width="18.15" height="36.55" fill="#cce3eb" shape-rendering="crispEdges"/>
<rect x="487.00" y="1742.71" width="180.00" height="32.20" fill="#eeefef"/>
<rect x="487.00" y="1742.71" width="89.00" height="32.20" fill="#90b1c6"/>
<text transform="scale(1,1.012)" x="202.50" y="1778.07" font-size="22.56" text-anchor="end">TPBTE−mc</text>
<rect x="220.10" y="1774.95" width="18.15" height="36.55" fill="#cce3eb" shape-rendering="crispEdges"/>
<rect x="237.75" y="1774.95" width="18.15" height="36.55" fill="#f0d8d8" shape-rendering="crispEdges"/>
<rect x="255.40" y="1774.95" width="18.15" height="36.55" fill="#d9a6a5" shape-rendering="crispEdges"/>
<rect x="273.05" y="1774.95" width="18.15" height="36.55" fill="#ffffff" shape-rendering="crispEdges"/>
<rect x="290.70" y="1774.95" width="18.15" height="36.55" fill="#cce3eb" shape-rendering="crispEdges"/>
<rect x="308.35" y="1774.95" width="18.15" height="36.55" fill="#cce3eb" shape-rendering="crispEdges"/>
<rect x="326.00" y="1774.95" width="18.15" height="36.55" fill="#dcecf2" shape-rendering="crispEdges"/>
<rect x="343.65" y="1774.95" width="18.15" height="36.55" fill="#d9a6a5" shape-rendering="crispEdges"/>
<rect x="361.30" y="1774.95" width="18.15" height="36.55" fill="#cce3eb" shape-rendering="crispEdges"/>
<rect x="378.95" y="1774.95" width="18.15" height="36.55" fill="#ffffff" shape-rendering="crispEdges"/>
<rect x="396.60" y="1774.95" width="18.15" height="36.55" fill="#dcecf2" shape-rendering="crispEdges"/>
<rect x="414.25" y="1774.95" width="18.15" height="36.55" fill="#dcecf2" shape-rendering="crispEdges"/>
<rect x="431.90" y="1774.95" width="18.15" height="36.55" fill="#dcecf2" shape-rendering="crispEdges"/>
<rect x="449.55" y="1774.95" width="18.15" height="36.55" fill="#d9a6a5" shape-rendering="crispEdges"/>
<rect x="487.00" y="1778.76" width="180.00" height="32.20" fill="#eeefef"/>
<rect x="487.00" y="1778.76" width="89.00" height="32.20" fill="#90b1c6"/>
<text transform="scale(1,1.012)" x="202.50" y="1813.68" font-size="22.56" text-anchor="end">AttnTAP−vdj</text>
<rect x="220.10" y="1811.00" width="18.15" height="36.55" fill="#d9a6a5" shape-rendering="crispEdges"/>
<rect x="237.75" y="1811.00" width="18.15" height="36.55" fill="#dcecf2" shape-rendering="crispEdges"/>
<rect x="255.40" y="1811.00" width="18.15" height="36.55" fill="#d9a6a5" shape-rendering="crispEdges"/>
<rect x="273.05" y="1811.00" width="18.15" height="36.55" fill="#ffffff" shape-rendering="crispEdges"/>
<rect x="290.70" y="1811.00" width="18.15" height="36.55" fill="#d9a6a5" shape-rendering="crispEdges"/>
<rect x="308.35" y="1811.00" width="18.15" height="36.55" fill="#d9a6a5" shape-rendering="crispEdges"/>
<rect x="326.00" y="1811.00" width="18.15" height="36.55" fill="#dcecf2" shape-rendering="crispEdges"/>
<rect x="343.65" y="1811.00" width="18.15" height="36.55" fill="#d9a6a5" shape-rendering="crispEdges"/>
<rect x="361.30" y="1811.00" width="18.15" height="36.55" fill="#cce3eb" shape-rendering="crispEdges"/>
<rect x="378.95" y="1811.00" width="18.15" height="36.55" fill="#f0d8d8" shape-rendering="crispEdges"/>
<rect x="396.60" y="1811.00" width="18.15" height="36.55" fill="#dcecf2" shape-rendering="crispEdges"/>
<rect x="414.25" y="1811.00" width="18.15" height="36.55" fill="#eaf2f7" shape-rendering="crispEdges"/>
<rect x="431.90" y="1811.00" width="18.15" height="36.55" fill="#ffffff" shape-rendering="crispEdges"/>
<rect x="449.55" y="1811.00" width="18.15" height="36.55" fill="#cce3eb" shape-rendering="crispEdges"/>
<rect x="487.00" y="1814.80" width="180.00" height="32.20" fill="#eeefef"/>
<rect x="487.00" y="1814.80" width="89.00" height="32.20" fill="#90b1c6"/>
<text transform="scale(1,1.012)" x="202.50" y="1849.30" font-size="22.56" text-anchor="end">AttnTAP−mc</text>
<rect x="220.10" y="1847.05" width="18.15" height="36.55" fill="#d9a6a5" shape-rendering="crispEdges"/>
<rect x="237.75" y="1847.05" width="18.15" height="36.55" fill="#eaf2f7" shape-rendering="crispEdges"/>
<rect x="255.40" y="1847.05" width="18.15" height="36.55" fill="#d9a6a5" shape-rendering="crispEdges"/>
<rect x="273.05" y="1847.05" width="18.15" height="36.55" fill="#dcecf2" shape-rendering="crispEdges"/>
<rect x="290.70" y="1847.05" width="18.15" height="36.55" fill="#cce3eb" shape-rendering="crispEdges"/>
<rect x="308.35" y="1847.05" width="18.15" height="36.55" fill="#d9a6a5" shape-rendering="crispEdges"/>
<rect x="326.00" y="1847.05" width="18.15" height="36.55" fill="#eaf2f7" shape-rendering="crispEdges"/>
<rect x="343.65" y="1847.05" width="18.15" height="36.55" fill="#d9a6a5" shape-rendering="crispEdges"/>
<rect x="361.30" y="1847.05" width="18.15" height="36.55" fill="#cce3eb" shape-rendering="crispEdges"/>
<rect x="378.95" y="1847.05" width="18.15" height="36.55" fill="#ffffff" shape-rendering="crispEdges"/>
<rect x="396.60" y="1847.05" width="18.15" height="36.55" fill="#d9a6a5" shape-rendering="crispEdges"/>
<rect x="414.25" y="1847.05" width="18.15" height="36.55" fill="#eaf2f7" shape-rendering="crispEdges"/>
<rect x="431.90" y="1847.05" width="18.15" height="36.55" fill="#dcecf2" shape-rendering="crispEdges"/>
<rect x="449.55" y="1847.05" width="18.15" height="36.55" fill="#cce3eb" shape-rendering="crispEdges"/>
<rect x="487.00" y="1850.85" width="180.00" height="32.20" fill="#eeefef"/>
<rect x="487.00" y="1850.85" width="87.22" height="32.20" fill="#90b1c6"/>
<text transform="scale(1,1.012)" x="202.50" y="1884.92" font-size="22.56" text-anchor="end">vibtcr</text>
<rect x="220.10" y="1883.09" width="18.15" height="36.55" fill="#d9a6a5" shape-rendering="crispEdges"/>
<rect x="237.75" y="1883.09" width="18.15" height="36.55" fill="#dcecf2" shape-rendering="crispEdges"/>
<rect x="255.40" y="1883.09" width="18.15" height="36.55" fill="#d9a6a5" shape-rendering="crispEdges"/>
<rect x="273.05" y="1883.09" width="18.15" height="36.55" fill="#dcecf2" shape-rendering="crispEdges"/>
<rect x="290.70" y="1883.09" width="18.15" height="36.55" fill="#d9a6a5" shape-rendering="crispEdges"/>
<rect x="308.35" y="1883.09" width="18.15" height="36.55" fill="#cce3eb" shape-rendering="crispEdges"/>
<rect x="326.00" y="1883.09" width="18.15" height="36.55" fill="#cce3eb" shape-rendering="crispEdges"/>
<rect x="343.65" y="1883.09" width="18.15" height="36.55" fill="#cce3eb" shape-rendering="crispEdges"/>
<rect x="361.30" y="1883.09" width="18.15" height="36.55" fill="#d9a6a5" shape-rendering="crispEdges"/>
<rect x="378.95" y="1883.09" width="18.15" height="36.55" fill="#f0d8d8" shape-rendering="crispEdges"/>
<rect x="396.60" y="1883.09" width="18.15" height="36.55" fill="#f0d8d8" shape-rendering="crispEdges"/>
<rect x="414.25" y="1883.09" width="18.15" height="36.55" fill="#eaf2f7" shape-rendering="crispEdges"/>
<rect x="431.90" y="1883.09" width="18.15" height="36.55" fill="#ffffff" shape-rendering="crispEdges"/>
<rect x="449.55" y="1883.09" width="18.15" height="36.55" fill="#cce3eb" shape-rendering="crispEdges"/>
<rect x="487.00" y="1886.89" width="180.00" height="32.20" fill="#eeefef"/>
<rect x="487.00" y="1886.89" width="87.22" height="32.20" fill="#90b1c6"/>
<text transform="scale(1,1.012)" x="202.50" y="1920.54" font-size="22.56" text-anchor="end">DLpTCR−FULL</text>
<rect x="220.10" y="1919.13" width="18.15" height="36.55" fill="#d9a6a5" shape-rendering="crispEdges"/>
<rect x="237.75" y="1919.13" width="18.15" height="36.55" fill="#ffffff" shape-rendering="crispEdges"/>
<rect x="255.40" y="1919.13" width="18.15" height="36.55" fill="#d9a6a5" shape-rendering="crispEdges"/>
<rect x="273.05" y="1919.13" width="18.15" height="36.55" fill="#dcecf2" shape-rendering="crispEdges"/>
<rect x="290.70" y="1919.13" width="18.15" height="36.55" fill="#d9a6a5" shape-rendering="crispEdges"/>
<rect x="308.35" y="1919.13" width="18.15" height="36.55" fill="#d9a6a5" shape-rendering="crispEdges"/>
<rect x="326.00" y="1919.13" width="18.15" height="36.55" fill="#eaf2f7" shape-rendering="crispEdges"/>
<rect x="343.65" y="1919.13" width="18.15" height="36.55" fill="#d9a6a5" shape-rendering="crispEdges"/>
<rect x="361.30" y="1919.13" width="18.15" height="36.55" fill="#d9a6a5" shape-rendering="crispEdges"/>
<rect x="378.95" y="1919.13" width="18.15" height="36.55" fill="#f0d8d8" shape-rendering="crispEdges"/>
<rect x="396.60" y="1919.13" width="18.15" height="36.55" fill="#f9eeed" shape-rendering="crispEdges"/>
<rect x="414.25" y="1919.13" width="18.15" height="36.55" fill="#dcecf2" shape-rendering="crispEdges"/>
<rect x="431.90" y="1919.13" width="18.15" height="36.55" fill="#eaf2f7" shape-rendering="crispEdges"/>
<rect x="449.55" y="1919.13" width="18.15" height="36.55" fill="#f9eeed" shape-rendering="crispEdges"/>
<rect x="487.00" y="1922.94" width="180.00" height="32.20" fill="#eeefef"/>
<rect x="487.00" y="1922.94" width="85.44" height="32.20" fill="#90b1c6"/>
<text transform="scale(1,1.012)" x="202.50" y="1956.16" font-size="22.56" text-anchor="end">TEINet−small</text>
<rect x="220.10" y="1955.18" width="18.15" height="36.55" fill="#d9a6a5" shape-rendering="crispEdges"/>
<rect x="237.75" y="1955.18" width="18.15" height="36.55" fill="#ffffff" shape-rendering="crispEdges"/>
<rect x="255.40" y="1955.18" width="18.15" height="36.55" fill="#cce3eb" shape-rendering="crispEdges"/>
<rect x="273.05" y="1955.18" width="18.15" height="36.55" fill="#f0d8d8" shape-rendering="crispEdges"/>
<rect x="290.70" y="1955.18" width="18.15" height="36.55" fill="#d9a6a5" shape-rendering="crispEdges"/>
<rect x="308.35" y="1955.18" width="18.15" height="36.55" fill="#cce3eb" shape-rendering="crispEdges"/>
<rect x="326.00" y="1955.18" width="18.15" height="36.55" fill="#eaf2f7" shape-rendering="crispEdges"/>
<rect x="343.65" y="1955.18" width="18.15" height="36.55" fill="#cce3eb" shape-rendering="crispEdges"/>
<rect x="361.30" y="1955.18" width="18.15" height="36.55" fill="#d9a6a5" shape-rendering="crispEdges"/>
<rect x="378.95" y="1955.18" width="18.15" height="36.55" fill="#dcecf2" shape-rendering="crispEdges"/>
<rect x="396.60" y="1955.18" width="18.15" height="36.55" fill="#cce3eb" shape-rendering="crispEdges"/>
<rect x="414.25" y="1955.18" width="18.15" height="36.55" fill="#eaf2f7" shape-rendering="crispEdges"/>
<rect x="431.90" y="1955.18" width="18.15" height="36.55" fill="#cce3eb" shape-rendering="crispEdges"/>
<rect x="449.55" y="1955.18" width="18.15" height="36.55" fill="#cce3eb" shape-rendering="crispEdges"/>
<rect x="487.00" y="1958.98" width="180.00" height="32.20" fill="#eeefef"/>
<rect x="487.00" y="1958.98" width="85.44" height="32.20" fill="#90b1c6"/>
<text transform="scale(1,1.012)" x="202.50" y="1991.77" font-size="22.56" text-anchor="end">ERGO−lstm−mc</text>
<rect x="220.10" y="1991.22" width="18.15" height="36.55" fill="#cce3eb" shape-rendering="crispEdges"/>
<rect x="237.75" y="1991.22" width="18.15" height="36.55" fill="#dcecf2" shape-rendering="crispEdges"/>
<rect x="255.40" y="1991.22" width="18.15" height="36.55" fill="#d9a6a5" shape-rendering="crispEdges"/>
<rect x="273.05" y="1991.22" width="18.15" height="36.55" fill="#dcecf2" shape-rendering="crispEdges"/>
<rect x="290.70" y="1991.22" width="18.15" height="36.55" fill="#cce3eb" shape-rendering="crispEdges"/>
<rect x="308.35" y="1991.22" width="18.15" height="36.55" fill="#cce3eb" shape-rendering="crispEdges"/>
<rect x="326.00" y="1991.22" width="18.15" height="36.55" fill="#dcecf2" shape-rendering="crispEdges"/>
<rect x="343.65" y="1991.22" width="18.15" height="36.55" fill="#d9a6a5" shape-rendering="crispEdges"/>
<rect x="361.30" y="1991.22" width="18.15" height="36.55" fill="#cce3eb" shape-rendering="crispEdges"/>
<rect x="378.95" y="1991.22" width="18.15" height="36.55" fill="#cce3eb" shape-rendering="crispEdges"/>
<rect x="396.60" y="1991.22" width="18.15" height="36.55" fill="#dcecf2" shape-rendering="crispEdges"/>
<rect x="414.25" y="1991.22" width="18.15" height="36.55" fill="#ffffff" shape-rendering="crispEdges"/>
<rect x="431.90" y="1991.22" width="18.15" height="36.55" fill="#dcecf2" shape-rendering="crispEdges"/>
<rect x="449.55" y="1991.22" width="18.15" height="36.55" fill="#f9eeed" shape-rendering="crispEdges"/>
<rect x="487.00" y="1995.03" width="180.00" height="32.20" fill="#eeefef"/>
<rect x="487.00" y="1995.03" width="83.66" height="32.20" fill="#90b1c6"/>
<text transform="scale(1,1.012)" x="202.50" y="2027.39" font-size="22.56" text-anchor="end">VitTCR</text>
<rect x="220.10" y="2027.27" width="18.15" height="36.55" fill="#d9a6a5" shape-rendering="crispEdges"/>
<rect x="237.75" y="2027.27" width="18.15" height="36.55" fill="#dcecf2" shape-rendering="crispEdges"/>
<rect x="255.40" y="2027.27" width="18.15" height="36.55" fill="#cce3eb" shape-rendering="crispEdges"/>
<rect x="273.05" y="2027.27" width="18.15" height="36.55" fill="#cce3eb" shape-rendering="crispEdges"/>
<rect x="290.70" y="2027.27" width="18.15" height="36.55" fill="#cce3eb" shape-rendering="crispEdges"/>
<rect x="308.35" y="2027.27" width="18.15" height="36.55" fill="#cce3eb" shape-rendering="crispEdges"/>
<rect x="326.00" y="2027.27" width="18.15" height="36.55" fill="#e5bdbd" shape-rendering="crispEdges"/>
<rect x="343.65" y="2027.27" width="18.15" height="36.55" fill="#cce3eb" shape-rendering="crispEdges"/>
<rect x="361.30" y="2027.27" width="18.15" height="36.55" fill="#cce3eb" shape-rendering="crispEdges"/>
<rect x="378.95" y="2027.27" width="18.15" height="36.55" fill="#cce3eb" shape-rendering="crispEdges"/>
<rect x="396.60" y="2027.27" width="18.15" height="36.55" fill="#d9a6a5" shape-rendering="crispEdges"/>
<rect x="414.25" y="2027.27" width="18.15" height="36.55" fill="#dcecf2" shape-rendering="crispEdges"/>
<rect x="431.90" y="2027.27" width="18.15" height="36.55" fill="#dcecf2" shape-rendering="crispEdges"/>
<rect x="449.55" y="2027.27" width="18.15" height="36.55" fill="#f9eeed" shape-rendering="crispEdges"/>
<rect x="487.00" y="2031.07" width="180.00" height="32.20" fill="#eeefef"/>
<rect x="487.00" y="2031.07" width="83.66" height="32.20" fill="#90b1c6"/>
<text transform="scale(1,1.012)" x="202.50" y="2063.01" font-size="22.56" text-anchor="end">ImRex</text>
<rect x="220.10" y="2063.32" width="18.15" height="36.55" fill="#d9a6a5" shape-rendering="crispEdges"/>
<rect x="237.75" y="2063.32" width="18.15" height="36.55" fill="#cce3eb" shape-rendering="crispEdges"/>
<rect x="255.40" y="2063.32" width="18.15" height="36.55" fill="#d9a6a5" shape-rendering="crispEdges"/>
<rect x="273.05" y="2063.32" width="18.15" height="36.55" fill="#eaf2f7" shape-rendering="crispEdges"/>
<rect x="290.70" y="2063.32" width="18.15" height="36.55" fill="#d9a6a5" shape-rendering="crispEdges"/>
<rect x="308.35" y="2063.32" width="18.15" height="36.55" fill="#cce3eb" shape-rendering="crispEdges"/>
<rect x="326.00" y="2063.32" width="18.15" height="36.55" fill="#dcecf2" shape-rendering="crispEdges"/>
<rect x="343.65" y="2063.32" width="18.15" height="36.55" fill="#cce3eb" shape-rendering="crispEdges"/>
<rect x="361.30" y="2063.32" width="18.15" height="36.55" fill="#d9a6a5" shape-rendering="crispEdges"/>
<rect x="378.95" y="2063.32" width="18.15" height="36.55" fill="#f0d8d8" shape-rendering="crispEdges"/>
<rect x="396.60" y="2063.32" width="18.15" height="36.55" fill="#dcecf2" shape-rendering="crispEdges"/>
<rect x="414.25" y="2063.32" width="18.15" height="36.55" fill="#dcecf2" shape-rendering="crispEdges"/>
<rect x="431.90" y="2063.32" width="18.15" height="36.55" fill="#dcecf2" shape-rendering="crispEdges"/>
<rect x="449.55" y="2063.32" width="18.15" height="36.55" fill="#f9eeed" shape-rendering="crispEdges"/>
<rect x="487.00" y="2067.12" width="180.00" height="32.20" fill="#eeefef"/>
<rect x="487.00" y="2067.12" width="81.88" height="32.20" fill="#90b1c6"/>
<g clip-path="url(#clipE)">
<text transform="scale(1,1.012)" x="524.10" y="1104.87" font-size="22.7" text-anchor="middle" class="w">0.59</text>
<text transform="scale(1,1.012)" x="524.10" y="1140.76" font-size="22.7" text-anchor="middle" class="w">0.56</text>
<text transform="scale(1,1.012)" x="524.10" y="1176.65" font-size="22.7" text-anchor="middle" class="w">0.55</text>
<text transform="scale(1,1.012)" x="524.10" y="1212.54" font-size="22.7" text-anchor="middle" class="w">0.55</text>
<text transform="scale(1,1.012)" x="524.10" y="1248.43" font-size="22.7" text-anchor="middle" class="w">0.54</text>
<text transform="scale(1,1.012)" x="524.10" y="1284.31" font-size="22.7" text-anchor="middle" class="w">0.54</text>
<text transform="scale(1,1.012)" x="524.10" y="1320.20" font-size="22.7" text-anchor="middle" class="w">0.54</text>
<text transform="scale(1,1.012)" x="524.10" y="1356.09" font-size="22.7" text-anchor="middle" class="w">0.53</text>
<text transform="scale(1,1.012)" x="524.10" y="1391.98" font-size="22.7" text-anchor="middle" class="w">0.52</text>
<text transform="scale(1,1.012)" x="524.10" y="1427.87" font-size="22.7" text-anchor="middle" class="w">0.52</text>
<text transform="scale(1,1.012)" x="524.10" y="1463.76" font-size="22.7" text-anchor="middle" class="w">0.52</text>
<text transform="scale(1,1.012)" x="524.10" y="1499.65" font-size="22.7" text-anchor="middle" class="w">0.51</text>
<text transform="scale(1,1.012)" x="524.10" y="1535.54" font-size="22.7" text-anchor="middle" class="w">0.51</text>
<text transform="scale(1,1.012)" x="524.10" y="1571.43" font-size="22.7" text-anchor="middle" class="w">0.51</text>
<text transform="scale(1,1.012)" x="524.10" y="1607.32" font-size="22.7" text-anchor="middle" class="w">0.51</text>
<text transform="scale(1,1.012)" x="524.10" y="1643.21" font-size="22.7" text-anchor="middle" class="w">0.50</text>
<text transform="scale(1,1.012)" x="524.10" y="1679.10" font-size="22.7" text-anchor="middle" class="w">0.50</text>
<text transform="scale(1,1.012)" x="524.10" y="1714.99" font-size="22.7" text-anchor="middle" class="w">0.50</text>
<text transform="scale(1,1.012)" x="524.10" y="1750.88" font-size="22.7" text-anchor="middle" class="w">0.50</text>
<text transform="scale(1,1.012)" x="524.10" y="1786.77" font-size="22.7" text-anchor="middle" class="w">0.50</text>
<text transform="scale(1,1.012)" x="524.10" y="1822.65" font-size="22.7" text-anchor="middle" class="w">0.50</text>
<text transform="scale(1,1.012)" x="524.10" y="1858.54" font-size="22.7" text-anchor="middle" class="w">0.49</text>
<text transform="scale(1,1.012)" x="524.10" y="1894.43" font-size="22.7" text-anchor="middle" class="w">0.49</text>
<text transform="scale(1,1.012)" x="524.10" y="1930.32" font-size="22.7" text-anchor="middle" class="w">0.48</text>
<text transform="scale(1,1.012)" x="524.10" y="1966.21" font-size="22.7" text-anchor="middle" class="w">0.48</text>
<text transform="scale(1,1.012)" x="524.10" y="2002.10" font-size="22.7" text-anchor="middle" class="w">0.47</text>
<text transform="scale(1,1.012)" x="524.10" y="2037.99" font-size="22.7" text-anchor="middle" class="w">0.47</text>
<text transform="scale(1,1.012)" x="524.10" y="2073.88" font-size="22.7" text-anchor="middle" class="w">0.46</text>
</g>
<line x1="483.00" y1="1093.90" x2="483.00" y2="2099.30" stroke="#333" stroke-width="1.5"/>
<line x1="669.00" y1="1093.90" x2="669.00" y2="2099.30" stroke="#333" stroke-width="1.3"/>
<text transform="scale(1,1.012)" x="220.10" y="2109.02" font-size="22.7">Epitopes</text>
<line x1="336.90" y1="2130.60" x2="412.00" y2="2130.60" stroke="#000" stroke-width="1.2"/>
<path d="M406.5 2125.8 L427.5 2130.6 L406.5 2135.4 Z" fill="#000"/>
<text transform="scale(1,1.012)" x="478.70" y="2109.31" font-size="22.7">0.0</text>
<text transform="scale(1,1.012)" x="574.40" y="2114.16" font-size="22.7" text-anchor="middle">AUPRC</text>
<text transform="scale(1,1.012)" x="647.10" y="2109.31" font-size="22.7">1.0</text>
<text transform="scale(1,1.012)" x="570.50" y="2139.02" font-size="24.5" text-anchor="middle" class="b">(AS)</text>
<rect x="217.8" y="2151.8" width="162.6" height="24.7" fill="url(#gradE)"/>
<text transform="scale(1,1.012)" x="391.70" y="2147.06" font-size="22.7">AUPRC</text>
<line x1="239.90" y1="2160.00" x2="239.90" y2="2168.00" stroke="#fff" stroke-width="1.2"/>
<text transform="scale(1,1.012)" x="237.00" y="2175.32" font-size="22.7" text-anchor="middle">0.4</text>
<line x1="287.80" y1="2170.00" x2="287.80" y2="2176.50" stroke="#fff" stroke-width="1.2"/>
<text transform="scale(1,1.012)" x="285.20" y="2175.32" font-size="22.7" text-anchor="middle">0.6</text>
<line x1="336.00" y1="2170.00" x2="336.00" y2="2176.50" stroke="#fff" stroke-width="1.2"/>
<text transform="scale(1,1.012)" x="333.40" y="2175.32" font-size="22.7" text-anchor="middle">0.8</text>
<line x1="379.50" y1="2170.00" x2="379.50" y2="2176.50" stroke="#fff" stroke-width="1.2"/>
<text transform="scale(1,1.012)" x="381.50" y="2175.32" font-size="22.7" text-anchor="middle">1.0</text>
</g>
<g id="panel-f">
<text transform="scale(1,1.012)" x="739.00" y="1216.60" font-size="47.3" class="b L">f</text>
<text transform="scale(1,1.012)" x="1138.30" y="1242.89" font-size="25" text-anchor="middle" class="b">Unseen / CDR3β-only (U_Data2) / AS</text>
<text transform="scale(1,1.012)" x="897.70" y="1281.05" font-size="22.7" text-anchor="end">ATM-TCR</text>
<rect x="911.70" y="1272.10" width="88.70" height="34.60" fill="#f8efef"/>
<text transform="scale(1,1.012)" x="953.05" y="1280.66" font-size="22.7" text-anchor="middle">0.59</text>
<rect x="1004.45" y="1272.10" width="88.70" height="34.60" fill="#ffffff"/>
<text transform="scale(1,1.012)" x="1045.80" y="1280.66" font-size="22.7" text-anchor="middle">0.50</text>
<rect x="1097.20" y="1272.10" width="88.70" height="34.60" fill="#cbe2eb"/>
<text transform="scale(1,1.012)" x="1138.55" y="1280.66" font-size="22.7" text-anchor="middle">0.04</text>
<rect x="1189.95" y="1272.10" width="88.70" height="34.60" fill="#dcabac"/>
<text transform="scale(1,1.012)" x="1231.30" y="1280.66" font-size="22.7" text-anchor="middle">0.96</text>
<rect x="1282.70" y="1272.10" width="88.70" height="34.60" fill="#f3e2e2"/>
<text transform="scale(1,1.012)" x="1324.05" y="1280.66" font-size="22.7" text-anchor="middle">0.66</text>
<text transform="scale(1,1.012)" x="897.70" y="1319.83" font-size="22.7" text-anchor="end">ERGO-lstm-vdj</text>
<rect x="911.70" y="1311.35" width="88.70" height="34.60" fill="#faf4f4"/>
<text transform="scale(1,1.012)" x="953.05" y="1319.44" font-size="22.7" text-anchor="middle">0.56</text>
<rect x="1004.45" y="1311.35" width="88.70" height="34.60" fill="#f8efef"/>
<text transform="scale(1,1.012)" x="1045.80" y="1319.44" font-size="22.7" text-anchor="middle">0.59</text>
<rect x="1097.20" y="1311.35" width="88.70" height="34.60" fill="#e5c1c2"/>
<text transform="scale(1,1.012)" x="1138.55" y="1319.44" font-size="22.7" text-anchor="middle">0.84</text>
<rect x="1189.95" y="1311.35" width="88.70" height="34.60" fill="#e1eff4"/>
<text transform="scale(1,1.012)" x="1231.30" y="1319.44" font-size="22.7" text-anchor="middle">0.24</text>
<rect x="1282.70" y="1311.35" width="88.70" height="34.60" fill="#edf5f8"/>
<text transform="scale(1,1.012)" x="1324.05" y="1319.44" font-size="22.7" text-anchor="middle">0.34</text>
<text transform="scale(1,1.012)" x="897.70" y="1358.61" font-size="22.7" text-anchor="end">TEINet-large</text>
<rect x="911.70" y="1350.60" width="88.70" height="34.60" fill="#fbf6f6"/>
<text transform="scale(1,1.012)" x="953.05" y="1358.23" font-size="22.7" text-anchor="middle">0.55</text>
<rect x="1004.45" y="1350.60" width="88.70" height="34.60" fill="#f4e6e6"/>
<text transform="scale(1,1.012)" x="1045.80" y="1358.23" font-size="22.7" text-anchor="middle">0.64</text>
<rect x="1097.20" y="1350.60" width="88.70" height="34.60" fill="#deafb0"/>
<text transform="scale(1,1.012)" x="1138.55" y="1358.23" font-size="22.7" text-anchor="middle">0.94</text>
<rect x="1189.95" y="1350.60" width="88.70" height="34.60" fill="#d1e6ed"/>
<text transform="scale(1,1.012)" x="1231.30" y="1358.23" font-size="22.7" text-anchor="middle">0.10</text>
<rect x="1282.70" y="1350.60" width="88.70" height="34.60" fill="#dbebf1"/>
<text transform="scale(1,1.012)" x="1324.05" y="1358.23" font-size="22.7" text-anchor="middle">0.18</text>
<text transform="scale(1,1.012)" x="897.70" y="1397.38" font-size="22.7" text-anchor="end">ERGO-AE-mc</text>
<rect x="911.70" y="1389.85" width="88.70" height="34.60" fill="#fbf6f6"/>
<text transform="scale(1,1.012)" x="953.05" y="1397.01" font-size="22.7" text-anchor="middle">0.55</text>
<rect x="1004.45" y="1389.85" width="88.70" height="34.60" fill="#f2e0e0"/>
<text transform="scale(1,1.012)" x="1045.80" y="1397.01" font-size="22.7" text-anchor="middle">0.67</text>
<rect x="1097.20" y="1389.85" width="88.70" height="34.60" fill="#daa6a7"/>
<text transform="scale(1,1.012)" x="1138.55" y="1397.01" font-size="22.7" text-anchor="middle">0.99</text>
<rect x="1189.95" y="1389.85" width="88.70" height="34.60" fill="#c9e2ea"/>
<text transform="scale(1,1.012)" x="1231.30" y="1397.01" font-size="22.7" text-anchor="middle">0.03</text>
<rect x="1282.70" y="1389.85" width="88.70" height="34.60" fill="#cde4ec"/>
<text transform="scale(1,1.012)" x="1324.05" y="1397.01" font-size="22.7" text-anchor="middle">0.06</text>
<text transform="scale(1,1.012)" x="897.70" y="1436.16" font-size="22.7" text-anchor="end">TEPCAM</text>
<rect x="911.70" y="1429.10" width="88.70" height="34.60" fill="#fcf8f8"/>
<text transform="scale(1,1.012)" x="953.05" y="1435.80" font-size="22.7" text-anchor="middle">0.54</text>
<rect x="1004.45" y="1429.10" width="88.70" height="34.60" fill="#fdfafa"/>
<text transform="scale(1,1.012)" x="1045.80" y="1435.80" font-size="22.7" text-anchor="middle">0.53</text>
<rect x="1097.20" y="1429.10" width="88.70" height="34.60" fill="#f5e7e8"/>
<text transform="scale(1,1.012)" x="1138.55" y="1435.80" font-size="22.7" text-anchor="middle">0.63</text>
<rect x="1189.95" y="1429.10" width="88.70" height="34.60" fill="#f6fafb"/>
<text transform="scale(1,1.012)" x="1231.30" y="1435.80" font-size="22.7" text-anchor="middle">0.42</text>
<rect x="1282.70" y="1429.10" width="88.70" height="34.60" fill="#fcfdfe"/>
<text transform="scale(1,1.012)" x="1324.05" y="1435.80" font-size="22.7" text-anchor="middle">0.47</text>
<text transform="scale(1,1.012)" x="897.70" y="1474.94" font-size="22.7" text-anchor="end">DLpTCR-CNN</text>
<rect x="911.70" y="1468.35" width="88.70" height="34.60" fill="#fcf8f8"/>
<text transform="scale(1,1.012)" x="953.05" y="1474.58" font-size="22.7" text-anchor="middle">0.54</text>
<rect x="1004.45" y="1468.35" width="88.70" height="34.60" fill="#fdfefe"/>
<text transform="scale(1,1.012)" x="1045.80" y="1474.58" font-size="22.7" text-anchor="middle">0.48</text>
<rect x="1097.20" y="1468.35" width="88.70" height="34.60" fill="#d5e8ef"/>
<text transform="scale(1,1.012)" x="1138.55" y="1474.58" font-size="22.7" text-anchor="middle">0.13</text>
<rect x="1189.95" y="1468.35" width="88.70" height="34.60" fill="#e7c7c7"/>
<text transform="scale(1,1.012)" x="1231.30" y="1474.58" font-size="22.7" text-anchor="middle">0.81</text>
<rect x="1282.70" y="1468.35" width="88.70" height="34.60" fill="#f7eded"/>
<text transform="scale(1,1.012)" x="1324.05" y="1474.58" font-size="22.7" text-anchor="middle">0.60</text>
<text transform="scale(1,1.012)" x="897.70" y="1513.72" font-size="22.7" text-anchor="end">TEIM</text>
<rect x="911.70" y="1507.60" width="88.70" height="34.60" fill="#fcf8f8"/>
<text transform="scale(1,1.012)" x="953.05" y="1513.37" font-size="22.7" text-anchor="middle">0.54</text>
<rect x="1004.45" y="1507.60" width="88.70" height="34.60" fill="#ffffff"/>
<text transform="scale(1,1.012)" x="1045.80" y="1513.37" font-size="22.7" text-anchor="middle">0.50</text>
<rect x="1097.20" y="1507.60" width="88.70" height="34.60" fill="#daa6a7"/>
<text transform="scale(1,1.012)" x="1138.55" y="1513.37" font-size="22.7" text-anchor="middle">0.99</text>
<rect x="1189.95" y="1507.60" width="88.70" height="34.60" fill="#c7e1e9"/>
<text transform="scale(1,1.012)" x="1231.30" y="1513.37" font-size="22.7" text-anchor="middle">0.01</text>
<rect x="1282.70" y="1507.60" width="88.70" height="34.60" fill="#c9e2ea"/>
<text transform="scale(1,1.012)" x="1324.05" y="1513.37" font-size="22.7" text-anchor="middle">0.03</text>
<text transform="scale(1,1.012)" x="897.70" y="1552.49" font-size="22.7" text-anchor="end">PiTE-tcrSplit</text>
<rect x="911.70" y="1546.85" width="88.70" height="34.60" fill="#fdfafa"/>
<text transform="scale(1,1.012)" x="953.05" y="1552.15" font-size="22.7" text-anchor="middle">0.53</text>
<rect x="1004.45" y="1546.85" width="88.70" height="34.60" fill="#ffffff"/>
<text transform="scale(1,1.012)" x="1045.80" y="1552.15" font-size="22.7" text-anchor="middle">0.50</text>
<rect x="1097.20" y="1546.85" width="88.70" height="34.60" fill="#cbe2eb"/>
<text transform="scale(1,1.012)" x="1138.55" y="1552.15" font-size="22.7" text-anchor="middle">0.04</text>
<rect x="1189.95" y="1546.85" width="88.70" height="34.60" fill="#dba9aa"/>
<text transform="scale(1,1.012)" x="1231.30" y="1552.15" font-size="22.7" text-anchor="middle">0.97</text>
<rect x="1282.70" y="1546.85" width="88.70" height="34.60" fill="#f3e2e2"/>
<text transform="scale(1,1.012)" x="1324.05" y="1552.15" font-size="22.7" text-anchor="middle">0.66</text>
<text transform="scale(1,1.012)" x="897.70" y="1591.27" font-size="22.7" text-anchor="end">PiTE-epiSplit</text>
<rect x="911.70" y="1586.10" width="88.70" height="34.60" fill="#fdfbfb"/>
<text transform="scale(1,1.012)" x="953.05" y="1590.94" font-size="22.7" text-anchor="middle">0.52</text>
<rect x="1004.45" y="1586.10" width="88.70" height="34.60" fill="#ffffff"/>
<text transform="scale(1,1.012)" x="1045.80" y="1590.94" font-size="22.7" text-anchor="middle">0.50</text>
<rect x="1097.20" y="1586.10" width="88.70" height="34.60" fill="#c6e0e9"/>
<text transform="scale(1,1.012)" x="1138.55" y="1590.94" font-size="22.7" text-anchor="middle">0.00</text>
<rect x="1189.95" y="1586.10" width="88.70" height="34.60" fill="#d9a4a5"/>
<text transform="scale(1,1.012)" x="1231.30" y="1590.94" font-size="22.7" text-anchor="middle">1.00</text>
<rect x="1282.70" y="1586.10" width="88.70" height="34.60" fill="#f2e0e0"/>
<text transform="scale(1,1.012)" x="1324.05" y="1590.94" font-size="22.7" text-anchor="middle">0.67</text>
<text transform="scale(1,1.012)" x="897.70" y="1630.05" font-size="22.7" text-anchor="end">iTCep</text>
<rect x="911.70" y="1625.35" width="88.70" height="34.60" fill="#fdfbfb"/>
<text transform="scale(1,1.012)" x="953.05" y="1629.72" font-size="22.7" text-anchor="middle">0.52</text>
<rect x="1004.45" y="1625.35" width="88.70" height="34.60" fill="#f9fcfd"/>
<text transform="scale(1,1.012)" x="1045.80" y="1629.72" font-size="22.7" text-anchor="middle">0.45</text>
<rect x="1097.20" y="1625.35" width="88.70" height="34.60" fill="#e0b4b5"/>
<text transform="scale(1,1.012)" x="1138.55" y="1629.72" font-size="22.7" text-anchor="middle">0.91</text>
<rect x="1189.95" y="1625.35" width="88.70" height="34.60" fill="#cee4ec"/>
<text transform="scale(1,1.012)" x="1231.30" y="1629.72" font-size="22.7" text-anchor="middle">0.07</text>
<rect x="1282.70" y="1625.35" width="88.70" height="34.60" fill="#d5e8ef"/>
<text transform="scale(1,1.012)" x="1324.05" y="1629.72" font-size="22.7" text-anchor="middle">0.13</text>
<text transform="scale(1,1.012)" x="897.70" y="1668.82" font-size="22.7" text-anchor="end">TITAN</text>
<rect x="911.70" y="1664.60" width="88.70" height="34.60" fill="#fdfbfb"/>
<text transform="scale(1,1.012)" x="953.05" y="1668.50" font-size="22.7" text-anchor="middle">0.52</text>
<rect x="1004.45" y="1664.60" width="88.70" height="34.60" fill="#c6e0e9"/>
<text transform="scale(1,1.012)" x="1045.80" y="1668.50" font-size="22.7" text-anchor="middle">0.00</text>
<rect x="1097.20" y="1664.60" width="88.70" height="34.60" fill="#d9a4a5"/>
<text transform="scale(1,1.012)" x="1138.55" y="1668.50" font-size="22.7" text-anchor="middle">1.00</text>
<rect x="1189.95" y="1664.60" width="88.70" height="34.60" fill="#c6e0e9"/>
<text transform="scale(1,1.012)" x="1231.30" y="1668.50" font-size="22.7" text-anchor="middle">0.00</text>
<rect x="1282.70" y="1664.60" width="88.70" height="34.60" fill="#c6e0e9"/>
<text transform="scale(1,1.012)" x="1324.05" y="1668.50" font-size="22.7" text-anchor="middle">0.00</text>
<text transform="scale(1,1.012)" x="897.70" y="1707.60" font-size="22.7" text-anchor="end">NetTCR</text>
<rect x="911.70" y="1703.85" width="88.70" height="34.60" fill="#fefdfd"/>
<text transform="scale(1,1.012)" x="953.05" y="1707.29" font-size="22.7" text-anchor="middle">0.51</text>
<rect x="1004.45" y="1703.85" width="88.70" height="34.60" fill="#c6e0e9"/>
<text transform="scale(1,1.012)" x="1045.80" y="1707.29" font-size="22.7" text-anchor="middle">0.00</text>
<rect x="1097.20" y="1703.85" width="88.70" height="34.60" fill="#daa6a7"/>
<text transform="scale(1,1.012)" x="1138.55" y="1707.29" font-size="22.7" text-anchor="middle">0.99</text>
<rect x="1189.95" y="1703.85" width="88.70" height="34.60" fill="#c6e0e9"/>
<text transform="scale(1,1.012)" x="1231.30" y="1707.29" font-size="22.7" text-anchor="middle">0.00</text>
<rect x="1282.70" y="1703.85" width="88.70" height="34.60" fill="#c6e0e9"/>
<text transform="scale(1,1.012)" x="1324.05" y="1707.29" font-size="22.7" text-anchor="middle">0.00</text>
<text transform="scale(1,1.012)" x="897.70" y="1746.38" font-size="22.7" text-anchor="end">DLpTCR-RESNET</text>
<rect x="911.70" y="1743.10" width="88.70" height="34.60" fill="#fefdfd"/>
<text transform="scale(1,1.012)" x="953.05" y="1746.07" font-size="22.7" text-anchor="middle">0.51</text>
<rect x="1004.45" y="1743.10" width="88.70" height="34.60" fill="#ffffff"/>
<text transform="scale(1,1.012)" x="1045.80" y="1746.07" font-size="22.7" text-anchor="middle">0.50</text>
<rect x="1097.20" y="1743.10" width="88.70" height="34.60" fill="#dbebf1"/>
<text transform="scale(1,1.012)" x="1138.55" y="1746.07" font-size="22.7" text-anchor="middle">0.18</text>
<rect x="1189.95" y="1743.10" width="88.70" height="34.60" fill="#e7c5c5"/>
<text transform="scale(1,1.012)" x="1231.30" y="1746.07" font-size="22.7" text-anchor="middle">0.82</text>
<rect x="1282.70" y="1743.10" width="88.70" height="34.60" fill="#f6e9e9"/>
<text transform="scale(1,1.012)" x="1324.05" y="1746.07" font-size="22.7" text-anchor="middle">0.62</text>
<text transform="scale(1,1.012)" x="897.70" y="1785.15" font-size="22.7" text-anchor="end">epiTCR</text>
<rect x="911.70" y="1782.35" width="88.70" height="34.60" fill="#fefdfd"/>
<text transform="scale(1,1.012)" x="953.05" y="1784.86" font-size="22.7" text-anchor="middle">0.51</text>
<rect x="1004.45" y="1782.35" width="88.70" height="34.60" fill="#ffffff"/>
<text transform="scale(1,1.012)" x="1045.80" y="1784.86" font-size="22.7" text-anchor="middle">0.50</text>
<rect x="1097.20" y="1782.35" width="88.70" height="34.60" fill="#c6e0e9"/>
<text transform="scale(1,1.012)" x="1138.55" y="1784.86" font-size="22.7" text-anchor="middle">0.00</text>
<rect x="1189.95" y="1782.35" width="88.70" height="34.60" fill="#d9a4a5"/>
<text transform="scale(1,1.012)" x="1231.30" y="1784.86" font-size="22.7" text-anchor="middle">1.00</text>
<rect x="1282.70" y="1782.35" width="88.70" height="34.60" fill="#f2e0e0"/>
<text transform="scale(1,1.012)" x="1324.05" y="1784.86" font-size="22.7" text-anchor="middle">0.67</text>
<text transform="scale(1,1.012)" x="897.70" y="1823.93" font-size="22.7" text-anchor="end">TPBTE-vdj</text>
<rect x="911.70" y="1821.60" width="88.70" height="34.60" fill="#ffffff"/>
<text transform="scale(1,1.012)" x="953.05" y="1823.64" font-size="22.7" text-anchor="middle">0.50</text>
<rect x="1004.45" y="1821.60" width="88.70" height="34.60" fill="#c6e0e9"/>
<text transform="scale(1,1.012)" x="1045.80" y="1823.64" font-size="22.7" text-anchor="middle">0.00</text>
<rect x="1097.20" y="1821.60" width="88.70" height="34.60" fill="#d9a4a5"/>
<text transform="scale(1,1.012)" x="1138.55" y="1823.64" font-size="22.7" text-anchor="middle">1.00</text>
<rect x="1189.95" y="1821.60" width="88.70" height="34.60" fill="#c6e0e9"/>
<text transform="scale(1,1.012)" x="1231.30" y="1823.64" font-size="22.7" text-anchor="middle">0.00</text>
<rect x="1282.70" y="1821.60" width="88.70" height="34.60" fill="#c6e0e9"/>
<text transform="scale(1,1.012)" x="1324.05" y="1823.64" font-size="22.7" text-anchor="middle">0.00</text>
<text transform="scale(1,1.012)" x="897.70" y="1862.71" font-size="22.7" text-anchor="end">MCMC</text>
<rect x="911.70" y="1860.85" width="88.70" height="34.60" fill="#ffffff"/>
<text transform="scale(1,1.012)" x="953.05" y="1862.43" font-size="22.7" text-anchor="middle">0.50</text>
<rect x="1004.45" y="1860.85" width="88.70" height="34.60" fill="#c6e0e9"/>
<text transform="scale(1,1.012)" x="1045.80" y="1862.43" font-size="22.7" text-anchor="middle">0.00</text>
<rect x="1097.20" y="1860.85" width="88.70" height="34.60" fill="#d9a4a5"/>
<text transform="scale(1,1.012)" x="1138.55" y="1862.43" font-size="22.7" text-anchor="middle">1.00</text>
<rect x="1189.95" y="1860.85" width="88.70" height="34.60" fill="#c6e0e9"/>
<text transform="scale(1,1.012)" x="1231.30" y="1862.43" font-size="22.7" text-anchor="middle">0.00</text>
<rect x="1282.70" y="1860.85" width="88.70" height="34.60" fill="#c6e0e9"/>
<text transform="scale(1,1.012)" x="1324.05" y="1862.43" font-size="22.7" text-anchor="middle">0.00</text>
<text transform="scale(1,1.012)" x="897.70" y="1901.49" font-size="22.7" text-anchor="end">PanPep</text>
<rect x="911.70" y="1900.10" width="88.70" height="34.60" fill="#ffffff"/>
<text transform="scale(1,1.012)" x="953.05" y="1901.21" font-size="22.7" text-anchor="middle">0.50</text>
<rect x="1004.45" y="1900.10" width="88.70" height="34.60" fill="#fefdfd"/>
<text transform="scale(1,1.012)" x="1045.80" y="1901.21" font-size="22.7" text-anchor="middle">0.51</text>
<rect x="1097.20" y="1900.10" width="88.70" height="34.60" fill="#f1dcdd"/>
<text transform="scale(1,1.012)" x="1138.55" y="1901.21" font-size="22.7" text-anchor="middle">0.69</text>
<rect x="1189.95" y="1900.10" width="88.70" height="34.60" fill="#ecf4f8"/>
<text transform="scale(1,1.012)" x="1231.30" y="1901.21" font-size="22.7" text-anchor="middle">0.33</text>
<rect x="1282.70" y="1900.10" width="88.70" height="34.60" fill="#f4f9fb"/>
<text transform="scale(1,1.012)" x="1324.05" y="1901.21" font-size="22.7" text-anchor="middle">0.40</text>
<text transform="scale(1,1.012)" x="897.70" y="1940.26" font-size="22.7" text-anchor="end">ERGO-AE-vdj</text>
<rect x="911.70" y="1939.35" width="88.70" height="34.60" fill="#ffffff"/>
<text transform="scale(1,1.012)" x="953.05" y="1940.00" font-size="22.7" text-anchor="middle">0.50</text>
<rect x="1004.45" y="1939.35" width="88.70" height="34.60" fill="#c6e0e9"/>
<text transform="scale(1,1.012)" x="1045.80" y="1940.00" font-size="22.7" text-anchor="middle">0.00</text>
<rect x="1097.20" y="1939.35" width="88.70" height="34.60" fill="#deafb0"/>
<text transform="scale(1,1.012)" x="1138.55" y="1940.00" font-size="22.7" text-anchor="middle">0.94</text>
<rect x="1189.95" y="1939.35" width="88.70" height="34.60" fill="#c6e0e9"/>
<text transform="scale(1,1.012)" x="1231.30" y="1940.00" font-size="22.7" text-anchor="middle">0.00</text>
<rect x="1282.70" y="1939.35" width="88.70" height="34.60" fill="#c6e0e9"/>
<text transform="scale(1,1.012)" x="1324.05" y="1940.00" font-size="22.7" text-anchor="middle">0.00</text>
<text transform="scale(1,1.012)" x="897.70" y="1979.04" font-size="22.7" text-anchor="end">TPBTE-mc</text>
<rect x="911.70" y="1978.60" width="88.70" height="34.60" fill="#ffffff"/>
<text transform="scale(1,1.012)" x="953.05" y="1978.78" font-size="22.7" text-anchor="middle">0.50</text>
<rect x="1004.45" y="1978.60" width="88.70" height="34.60" fill="#c6e0e9"/>
<text transform="scale(1,1.012)" x="1045.80" y="1978.78" font-size="22.7" text-anchor="middle">0.00</text>
<rect x="1097.20" y="1978.60" width="88.70" height="34.60" fill="#d9a4a5"/>
<text transform="scale(1,1.012)" x="1138.55" y="1978.78" font-size="22.7" text-anchor="middle">1.00</text>
<rect x="1189.95" y="1978.60" width="88.70" height="34.60" fill="#c6e0e9"/>
<text transform="scale(1,1.012)" x="1231.30" y="1978.78" font-size="22.7" text-anchor="middle">0.00</text>
<rect x="1282.70" y="1978.60" width="88.70" height="34.60" fill="#c6e0e9"/>
<text transform="scale(1,1.012)" x="1324.05" y="1978.78" font-size="22.7" text-anchor="middle">0.00</text>
<text transform="scale(1,1.012)" x="897.70" y="2017.82" font-size="22.7" text-anchor="end">AttnTAP-vdj</text>
<rect x="911.70" y="2017.85" width="88.70" height="34.60" fill="#ffffff"/>
<text transform="scale(1,1.012)" x="953.05" y="2017.57" font-size="22.7" text-anchor="middle">0.50</text>
<rect x="1004.45" y="2017.85" width="88.70" height="34.60" fill="#ecf4f8"/>
<text transform="scale(1,1.012)" x="1045.80" y="2017.57" font-size="22.7" text-anchor="middle">0.33</text>
<rect x="1097.20" y="2017.85" width="88.70" height="34.60" fill="#dba9aa"/>
<text transform="scale(1,1.012)" x="1138.55" y="2017.57" font-size="22.7" text-anchor="middle">0.97</text>
<rect x="1189.95" y="2017.85" width="88.70" height="34.60" fill="#c7e1e9"/>
<text transform="scale(1,1.012)" x="1231.30" y="2017.57" font-size="22.7" text-anchor="middle">0.01</text>
<rect x="1282.70" y="2017.85" width="88.70" height="34.60" fill="#c9e2ea"/>
<text transform="scale(1,1.012)" x="1324.05" y="2017.57" font-size="22.7" text-anchor="middle">0.03</text>
<text transform="scale(1,1.012)" x="897.70" y="2056.59" font-size="22.7" text-anchor="end">AttnTAP-mc</text>
<rect x="911.70" y="2057.10" width="88.70" height="34.60" fill="#fefeff"/>
<text transform="scale(1,1.012)" x="953.05" y="2056.35" font-size="22.7" text-anchor="middle">0.49</text>
<rect x="1004.45" y="2057.10" width="88.70" height="34.60" fill="#fefeff"/>
<text transform="scale(1,1.012)" x="1045.80" y="2056.35" font-size="22.7" text-anchor="middle">0.49</text>
<rect x="1097.20" y="2057.10" width="88.70" height="34.60" fill="#dfeef3"/>
<text transform="scale(1,1.012)" x="1138.55" y="2056.35" font-size="22.7" text-anchor="middle">0.22</text>
<rect x="1189.95" y="2057.10" width="88.70" height="34.60" fill="#eed5d6"/>
<text transform="scale(1,1.012)" x="1231.30" y="2056.35" font-size="22.7" text-anchor="middle">0.73</text>
<rect x="1282.70" y="2057.10" width="88.70" height="34.60" fill="#f9f0f1"/>
<text transform="scale(1,1.012)" x="1324.05" y="2056.35" font-size="22.7" text-anchor="middle">0.58</text>
<text transform="scale(1,1.012)" x="897.70" y="2095.37" font-size="22.7" text-anchor="end">vibtcr</text>
<rect x="911.70" y="2096.35" width="88.70" height="34.60" fill="#fefeff"/>
<text transform="scale(1,1.012)" x="953.05" y="2095.13" font-size="22.7" text-anchor="middle">0.49</text>
<rect x="1004.45" y="2096.35" width="88.70" height="34.60" fill="#ffffff"/>
<text transform="scale(1,1.012)" x="1045.80" y="2095.13" font-size="22.7" text-anchor="middle">0.50</text>
<rect x="1097.20" y="2096.35" width="88.70" height="34.60" fill="#e3bcbc"/>
<text transform="scale(1,1.012)" x="1138.55" y="2095.13" font-size="22.7" text-anchor="middle">0.87</text>
<rect x="1189.95" y="2096.35" width="88.70" height="34.60" fill="#d5e8ef"/>
<text transform="scale(1,1.012)" x="1231.30" y="2095.13" font-size="22.7" text-anchor="middle">0.13</text>
<rect x="1282.70" y="2096.35" width="88.70" height="34.60" fill="#deedf2"/>
<text transform="scale(1,1.012)" x="1324.05" y="2095.13" font-size="22.7" text-anchor="middle">0.21</text>
<text transform="scale(1,1.012)" x="897.70" y="2134.15" font-size="22.7" text-anchor="end">DLpTCR-FULL</text>
<rect x="911.70" y="2135.60" width="88.70" height="34.60" fill="#fdfefe"/>
<text transform="scale(1,1.012)" x="953.05" y="2133.92" font-size="22.7" text-anchor="middle">0.48</text>
<rect x="1004.45" y="2135.60" width="88.70" height="34.60" fill="#ffffff"/>
<text transform="scale(1,1.012)" x="1045.80" y="2133.92" font-size="22.7" text-anchor="middle">0.50</text>
<rect x="1097.20" y="2135.60" width="88.70" height="34.60" fill="#d7e9f0"/>
<text transform="scale(1,1.012)" x="1138.55" y="2133.92" font-size="22.7" text-anchor="middle">0.15</text>
<rect x="1189.95" y="2135.60" width="88.70" height="34.60" fill="#e4bfc0"/>
<text transform="scale(1,1.012)" x="1231.30" y="2133.92" font-size="22.7" text-anchor="middle">0.85</text>
<rect x="1282.70" y="2135.60" width="88.70" height="34.60" fill="#f5e7e8"/>
<text transform="scale(1,1.012)" x="1324.05" y="2133.92" font-size="22.7" text-anchor="middle">0.63</text>
<text transform="scale(1,1.012)" x="897.70" y="2172.92" font-size="22.7" text-anchor="end">TEINet-small</text>
<rect x="911.70" y="2174.85" width="88.70" height="34.60" fill="#fdfefe"/>
<text transform="scale(1,1.012)" x="953.05" y="2172.70" font-size="22.7" text-anchor="middle">0.48</text>
<rect x="1004.45" y="2174.85" width="88.70" height="34.60" fill="#f6e9e9"/>
<text transform="scale(1,1.012)" x="1045.80" y="2172.70" font-size="22.7" text-anchor="middle">0.62</text>
<rect x="1097.20" y="2174.85" width="88.70" height="34.60" fill="#dcabac"/>
<text transform="scale(1,1.012)" x="1138.55" y="2172.70" font-size="22.7" text-anchor="middle">0.96</text>
<rect x="1189.95" y="2174.85" width="88.70" height="34.60" fill="#cee4ec"/>
<text transform="scale(1,1.012)" x="1231.30" y="2172.70" font-size="22.7" text-anchor="middle">0.07</text>
<rect x="1282.70" y="2174.85" width="88.70" height="34.60" fill="#d5e8ef"/>
<text transform="scale(1,1.012)" x="1324.05" y="2172.70" font-size="22.7" text-anchor="middle">0.13</text>
<text transform="scale(1,1.012)" x="897.70" y="2211.70" font-size="22.7" text-anchor="end">ERGO-lstm-mc</text>
<rect x="911.70" y="2214.10" width="88.70" height="34.60" fill="#fcfdfe"/>
<text transform="scale(1,1.012)" x="953.05" y="2211.49" font-size="22.7" text-anchor="middle">0.47</text>
<rect x="1004.45" y="2214.10" width="88.70" height="34.60" fill="#eff6f9"/>
<text transform="scale(1,1.012)" x="1045.80" y="2211.49" font-size="22.7" text-anchor="middle">0.36</text>
<rect x="1097.20" y="2214.10" width="88.70" height="34.60" fill="#e1b6b7"/>
<text transform="scale(1,1.012)" x="1138.55" y="2211.49" font-size="22.7" text-anchor="middle">0.90</text>
<rect x="1189.95" y="2214.10" width="88.70" height="34.60" fill="#cde4ec"/>
<text transform="scale(1,1.012)" x="1231.30" y="2211.49" font-size="22.7" text-anchor="middle">0.06</text>
<rect x="1282.70" y="2214.10" width="88.70" height="34.60" fill="#d1e6ed"/>
<text transform="scale(1,1.012)" x="1324.05" y="2211.49" font-size="22.7" text-anchor="middle">0.10</text>
<text transform="scale(1,1.012)" x="897.70" y="2250.48" font-size="22.7" text-anchor="end">VitTCR</text>
<rect x="911.70" y="2253.35" width="88.70" height="34.60" fill="#fcfdfe"/>
<text transform="scale(1,1.012)" x="953.05" y="2250.27" font-size="22.7" text-anchor="middle">0.47</text>
<rect x="1004.45" y="2253.35" width="88.70" height="34.60" fill="#e2f0f4"/>
<text transform="scale(1,1.012)" x="1045.80" y="2250.27" font-size="22.7" text-anchor="middle">0.25</text>
<rect x="1097.20" y="2253.35" width="88.70" height="34.60" fill="#dcabac"/>
<text transform="scale(1,1.012)" x="1138.55" y="2250.27" font-size="22.7" text-anchor="middle">0.96</text>
<rect x="1189.95" y="2253.35" width="88.70" height="34.60" fill="#c7e1e9"/>
<text transform="scale(1,1.012)" x="1231.30" y="2250.27" font-size="22.7" text-anchor="middle">0.01</text>
<rect x="1282.70" y="2253.35" width="88.70" height="34.60" fill="#c9e2ea"/>
<text transform="scale(1,1.012)" x="1324.05" y="2250.27" font-size="22.7" text-anchor="middle">0.03</text>
<text transform="scale(1,1.012)" x="897.70" y="2289.26" font-size="22.7" text-anchor="end">ImRex</text>
<rect x="911.70" y="2292.60" width="88.70" height="34.60" fill="#fafdfd"/>
<text transform="scale(1,1.012)" x="953.05" y="2289.06" font-size="22.7" text-anchor="middle">0.46</text>
<rect x="1004.45" y="2292.60" width="88.70" height="34.60" fill="#fdfafa"/>
<text transform="scale(1,1.012)" x="1045.80" y="2289.06" font-size="22.7" text-anchor="middle">0.53</text>
<rect x="1097.20" y="2292.60" width="88.70" height="34.60" fill="#fafdfd"/>
<text transform="scale(1,1.012)" x="1138.55" y="2289.06" font-size="22.7" text-anchor="middle">0.46</text>
<rect x="1189.95" y="2292.60" width="88.70" height="34.60" fill="#f7eded"/>
<text transform="scale(1,1.012)" x="1231.30" y="2289.06" font-size="22.7" text-anchor="middle">0.60</text>
<rect x="1282.70" y="2292.60" width="88.70" height="34.60" fill="#faf4f4"/>
<text transform="scale(1,1.012)" x="1324.05" y="2289.06" font-size="22.7" text-anchor="middle">0.56</text>
<text transform="scale(1,1.012)" x="938.85" y="2337.28" font-size="22.7" text-anchor="middle">AUPRC</text>
<text transform="scale(1,1.012)" x="1037.10" y="2337.28" font-size="22.7" text-anchor="middle">Precision</text>
<text transform="scale(1,1.012)" x="1145.75" y="2337.28" font-size="22.7" text-anchor="middle">Specificity</text>
<text transform="scale(1,1.012)" x="1240.40" y="2337.28" font-size="22.7" text-anchor="middle">Recall</text>
<text transform="scale(1,1.012)" x="1324.60" y="2337.28" font-size="22.7" text-anchor="middle">F1</text>
<rect x="1377.3" y="2131.4" width="26.7" height="198.2" fill="url(#gradF)"/>
<line x1="1404.00" y1="2131.60" x2="1414.20" y2="2131.60" stroke="#333" stroke-width="1.2"/>
<text transform="scale(1,1.012)" x="1422.70" y="2115.14" font-size="22.7">1.0</text>
<line x1="1404.00" y1="2230.30" x2="1414.20" y2="2230.30" stroke="#333" stroke-width="1.2"/>
<text transform="scale(1,1.012)" x="1422.70" y="2213.37" font-size="22.7">0.5</text>
<line x1="1404.00" y1="2329.90" x2="1414.20" y2="2329.90" stroke="#333" stroke-width="1.2"/>
<text transform="scale(1,1.012)" x="1422.70" y="2311.59" font-size="22.7">0.0</text>
</g>
<g id="panel-g">
<text transform="scale(1,1.012)" x="1465.50" y="1216.60" font-size="47.3" class="b L">g</text>
<text transform="scale(1,1.012)" x="1713.00" y="1248.81" font-size="25" text-anchor="middle" class="b">CDR3β-only /</text>
<text transform="scale(1,1.012)" x="1716.80" y="1278.75" font-size="25" text-anchor="middle" class="b">S_Data1-U_Data1 / AS</text>
<text transform="scale(1,1.012)" x="1999.50" y="1248.32" font-size="25" text-anchor="middle" class="b">CDR3β+others /</text>
<text transform="scale(1,1.012)" x="2002.70" y="1278.75" font-size="25" text-anchor="middle" class="b">S_Data2-U_Data2 / AS</text>
<text transform="scale(1,1.012)" x="1703.97" y="1335.57" font-size="23"><tspan font-style="italic">P</tspan> = 0.00006</text>
<line x1="1719.29" y1="1354.98" x2="1807.68" y2="1354.98" stroke="#666" stroke-width="1.4"/>
<text transform="scale(1,1.012)" x="1985.23" y="1335.57" font-size="23"><tspan font-style="italic">P</tspan> = 0.04</text>
<line x1="1982.09" y1="1352.82" x2="2070.87" y2="1352.82" stroke="#333" stroke-width="1.4"/>
<line x1="1599.88" y1="1379.34" x2="1599.88" y2="1772.27" stroke="#2a2a2a" stroke-width="1.3"/>
<line x1="1599.28" y1="1772.27" x2="1867.39" y2="1772.27" stroke="#2a2a2a" stroke-width="1.3"/>
<line x1="1900.38" y1="1772.27" x2="2160.50" y2="1772.27" stroke="#2a2a2a" stroke-width="1.3"/>
<line x1="1595.56" y1="1396.80" x2="1599.88" y2="1396.80" stroke="#2a2a2a" stroke-width="1.3"/>
<text transform="scale(1,1.012)" x="1594.39" y="1388.07" font-size="22.7" text-anchor="end">0.70</text>
<line x1="1595.56" y1="1463.20" x2="1599.88" y2="1463.20" stroke="#2a2a2a" stroke-width="1.3"/>
<text transform="scale(1,1.012)" x="1594.39" y="1453.68" font-size="22.7" text-anchor="end">0.65</text>
<line x1="1595.56" y1="1529.60" x2="1599.88" y2="1529.60" stroke="#2a2a2a" stroke-width="1.3"/>
<text transform="scale(1,1.012)" x="1594.39" y="1519.30" font-size="22.7" text-anchor="end">0.60</text>
<line x1="1595.56" y1="1596.00" x2="1599.88" y2="1596.00" stroke="#2a2a2a" stroke-width="1.3"/>
<text transform="scale(1,1.012)" x="1594.39" y="1584.91" font-size="22.7" text-anchor="end">0.55</text>
<line x1="1595.56" y1="1662.40" x2="1599.88" y2="1662.40" stroke="#2a2a2a" stroke-width="1.3"/>
<text transform="scale(1,1.012)" x="1594.39" y="1650.52" font-size="22.7" text-anchor="end">0.50</text>
<line x1="1595.56" y1="1728.80" x2="1599.88" y2="1728.80" stroke="#2a2a2a" stroke-width="1.3"/>
<text transform="scale(1,1.012)" x="1594.39" y="1716.13" font-size="22.7" text-anchor="end">0.45</text>
<text transform="translate(1540.56,1559.25) rotate(-90) scale(1,1.012)" font-size="22.7" text-anchor="middle">AUPRC</text>
<line x1="1689.05" y1="1396.62" x2="1689.05" y2="1496.40" stroke="#505050" stroke-width="1.5"/>
<line x1="1689.05" y1="1655.10" x2="1689.05" y2="1740.73" stroke="#505050" stroke-width="1.5"/>
<rect x="1644.66" y="1496.40" width="89.17" height="158.70" fill="#d4956a" stroke="#1a1a1a" stroke-width="1.3"/>
<line x1="1644.66" y1="1565.14" x2="1733.83" y2="1565.14" stroke="#111" stroke-width="2.3"/>
<circle cx="1687.48" cy="1396.80" r="4.4" fill="#939696" fill-opacity="0.68"/>
<circle cx="1705.94" cy="1423.36" r="4.4" fill="#939696" fill-opacity="0.68"/>
<circle cx="1674.12" cy="1436.64" r="4.4" fill="#939696" fill-opacity="0.68"/>
<circle cx="1695.33" cy="1449.92" r="4.4" fill="#939696" fill-opacity="0.68"/>
<circle cx="1700.83" cy="1449.92" r="4.4" fill="#939696" fill-opacity="0.68"/>
<circle cx="1690.62" cy="1463.20" r="4.4" fill="#939696" fill-opacity="0.68"/>
<circle cx="1686.30" cy="1489.76" r="4.4" fill="#939696" fill-opacity="0.68"/>
<circle cx="1694.55" cy="1489.76" r="4.4" fill="#939696" fill-opacity="0.68"/>
<circle cx="1673.73" cy="1503.04" r="4.4" fill="#a0a6a8" fill-opacity="0.52"/>
<circle cx="1697.69" cy="1503.04" r="4.4" fill="#a0a6a8" fill-opacity="0.52"/>
<circle cx="1692.98" cy="1516.32" r="4.4" fill="#a0a6a8" fill-opacity="0.52"/>
<circle cx="1671.37" cy="1529.60" r="4.4" fill="#a0a6a8" fill-opacity="0.52"/>
<circle cx="1696.12" cy="1529.60" r="4.4" fill="#a0a6a8" fill-opacity="0.52"/>
<circle cx="1699.26" cy="1529.60" r="4.4" fill="#a0a6a8" fill-opacity="0.52"/>
<circle cx="1699.26" cy="1542.88" r="4.4" fill="#a0a6a8" fill-opacity="0.52"/>
<circle cx="1704.37" cy="1556.16" r="4.4" fill="#a0a6a8" fill-opacity="0.52"/>
<circle cx="1692.19" cy="1569.44" r="4.4" fill="#a0a6a8" fill-opacity="0.52"/>
<circle cx="1675.30" cy="1582.72" r="4.4" fill="#a0a6a8" fill-opacity="0.52"/>
<circle cx="1685.90" cy="1596.00" r="4.4" fill="#a0a6a8" fill-opacity="0.52"/>
<circle cx="1696.12" cy="1622.56" r="4.4" fill="#a0a6a8" fill-opacity="0.52"/>
<circle cx="1674.12" cy="1635.84" r="4.4" fill="#a0a6a8" fill-opacity="0.52"/>
<circle cx="1700.44" cy="1635.84" r="4.4" fill="#a0a6a8" fill-opacity="0.52"/>
<circle cx="1700.05" cy="1649.12" r="4.4" fill="#a0a6a8" fill-opacity="0.52"/>
<circle cx="1675.30" cy="1662.40" r="4.4" fill="#939696" fill-opacity="0.68"/>
<circle cx="1686.30" cy="1662.40" r="4.4" fill="#939696" fill-opacity="0.68"/>
<circle cx="1689.44" cy="1662.40" r="4.4" fill="#939696" fill-opacity="0.68"/>
<circle cx="1699.26" cy="1662.40" r="4.4" fill="#939696" fill-opacity="0.68"/>
<circle cx="1703.58" cy="1662.40" r="4.4" fill="#939696" fill-opacity="0.68"/>
<circle cx="1700.44" cy="1675.68" r="4.4" fill="#939696" fill-opacity="0.68"/>
<circle cx="1672.55" cy="1702.24" r="4.4" fill="#939696" fill-opacity="0.68"/>
<circle cx="1671.37" cy="1742.08" r="4.4" fill="#939696" fill-opacity="0.68"/>
<line x1="1816.32" y1="1635.06" x2="1816.32" y2="1648.03" stroke="#505050" stroke-width="1.5"/>
<line x1="1816.32" y1="1661.38" x2="1816.32" y2="1675.13" stroke="#505050" stroke-width="1.5"/>
<rect x="1771.93" y="1648.03" width="89.17" height="13.36" fill="#72b5a3" stroke="#1a1a1a" stroke-width="1.3"/>
<line x1="1771.93" y1="1653.53" x2="1861.10" y2="1653.53" stroke="#111" stroke-width="2.3"/>
<circle cx="1823.39" cy="1596.00" r="4.4" fill="#939696" fill-opacity="0.68"/>
<circle cx="1805.32" cy="1635.84" r="4.4" fill="#939696" fill-opacity="0.68"/>
<circle cx="1817.11" cy="1635.84" r="4.4" fill="#939696" fill-opacity="0.68"/>
<circle cx="1824.96" cy="1635.84" r="4.4" fill="#939696" fill-opacity="0.68"/>
<circle cx="1828.89" cy="1635.84" r="4.4" fill="#939696" fill-opacity="0.68"/>
<circle cx="1832.82" cy="1635.84" r="4.4" fill="#939696" fill-opacity="0.68"/>
<circle cx="1798.25" cy="1649.12" r="4.4" fill="#a0a6a8" fill-opacity="0.52"/>
<circle cx="1801.39" cy="1649.12" r="4.4" fill="#a0a6a8" fill-opacity="0.52"/>
<circle cx="1805.32" cy="1649.12" r="4.4" fill="#a0a6a8" fill-opacity="0.52"/>
<circle cx="1809.25" cy="1649.12" r="4.4" fill="#a0a6a8" fill-opacity="0.52"/>
<circle cx="1819.07" cy="1649.12" r="4.4" fill="#a0a6a8" fill-opacity="0.52"/>
<circle cx="1826.93" cy="1649.12" r="4.4" fill="#a0a6a8" fill-opacity="0.52"/>
<circle cx="1801.39" cy="1662.40" r="4.4" fill="#a0a6a8" fill-opacity="0.52"/>
<circle cx="1812.39" cy="1662.40" r="4.4" fill="#a0a6a8" fill-opacity="0.52"/>
<circle cx="1828.89" cy="1662.40" r="4.4" fill="#a0a6a8" fill-opacity="0.52"/>
<circle cx="1834.00" cy="1662.40" r="4.4" fill="#a0a6a8" fill-opacity="0.52"/>
<circle cx="1813.18" cy="1675.68" r="4.4" fill="#939696" fill-opacity="0.68"/>
<circle cx="1817.89" cy="1675.68" r="4.4" fill="#939696" fill-opacity="0.68"/>
<circle cx="1830.86" cy="1675.68" r="4.4" fill="#939696" fill-opacity="0.68"/>
<circle cx="1802.18" cy="1688.96" r="4.4" fill="#939696" fill-opacity="0.68"/>
<circle cx="1828.89" cy="1688.96" r="4.4" fill="#939696" fill-opacity="0.68"/>
<line x1="1962.45" y1="1542.75" x2="1962.45" y2="1595.39" stroke="#505050" stroke-width="1.5"/>
<line x1="1962.45" y1="1648.03" x2="1962.45" y2="1688.09" stroke="#505050" stroke-width="1.5"/>
<rect x="1918.06" y="1595.39" width="89.17" height="52.64" fill="#d4956a" stroke="#1a1a1a" stroke-width="1.3"/>
<line x1="1918.06" y1="1621.71" x2="2007.23" y2="1621.71" stroke="#111" stroke-width="2.3"/>
<circle cx="1979.34" cy="1542.88" r="4.4" fill="#939696" fill-opacity="0.68"/>
<circle cx="1948.31" cy="1569.44" r="4.4" fill="#939696" fill-opacity="0.68"/>
<circle cx="1948.31" cy="1596.00" r="4.4" fill="#a0a6a8" fill-opacity="0.52"/>
<circle cx="1957.74" cy="1596.00" r="4.4" fill="#a0a6a8" fill-opacity="0.52"/>
<circle cx="1979.73" cy="1596.00" r="4.4" fill="#a0a6a8" fill-opacity="0.52"/>
<circle cx="1951.84" cy="1609.28" r="4.4" fill="#a0a6a8" fill-opacity="0.52"/>
<circle cx="1960.09" cy="1609.28" r="4.4" fill="#a0a6a8" fill-opacity="0.52"/>
<circle cx="1966.38" cy="1622.56" r="4.4" fill="#a0a6a8" fill-opacity="0.52"/>
<circle cx="1976.59" cy="1622.56" r="4.4" fill="#a0a6a8" fill-opacity="0.52"/>
<circle cx="1977.38" cy="1635.84" r="4.4" fill="#a0a6a8" fill-opacity="0.52"/>
<circle cx="1971.88" cy="1649.12" r="4.4" fill="#a0a6a8" fill-opacity="0.52"/>
<circle cx="1977.38" cy="1649.12" r="4.4" fill="#a0a6a8" fill-opacity="0.52"/>
<circle cx="1951.84" cy="1662.40" r="4.4" fill="#939696" fill-opacity="0.68"/>
<circle cx="1969.52" cy="1675.68" r="4.4" fill="#939696" fill-opacity="0.68"/>
<circle cx="1951.06" cy="1688.96" r="4.4" fill="#939696" fill-opacity="0.68"/>
<line x1="2089.72" y1="1556.11" x2="2089.72" y2="1572.21" stroke="#505050" stroke-width="1.5"/>
<line x1="2089.72" y1="1648.03" x2="2089.72" y2="1754.09" stroke="#505050" stroke-width="1.5"/>
<rect x="2045.33" y="1572.21" width="89.17" height="75.81" fill="#72b5a3" stroke="#1a1a1a" stroke-width="1.3"/>
<line x1="2045.33" y1="1617.78" x2="2134.50" y2="1617.78" stroke="#111" stroke-width="2.3"/>
<circle cx="2077.94" cy="1556.16" r="4.4" fill="#939696" fill-opacity="0.68"/>
<circle cx="2096.01" cy="1569.44" r="4.4" fill="#939696" fill-opacity="0.68"/>
<circle cx="2099.94" cy="1569.44" r="4.4" fill="#939696" fill-opacity="0.68"/>
<circle cx="2077.94" cy="1582.72" r="4.4" fill="#a0a6a8" fill-opacity="0.52"/>
<circle cx="2082.65" cy="1582.72" r="4.4" fill="#a0a6a8" fill-opacity="0.52"/>
<circle cx="2087.37" cy="1582.72" r="4.4" fill="#a0a6a8" fill-opacity="0.52"/>
<circle cx="2083.83" cy="1596.00" r="4.4" fill="#a0a6a8" fill-opacity="0.52"/>
<circle cx="2100.72" cy="1609.28" r="4.4" fill="#a0a6a8" fill-opacity="0.52"/>
<circle cx="2101.51" cy="1662.40" r="4.4" fill="#939696" fill-opacity="0.68"/>
<circle cx="2091.29" cy="1702.24" r="4.4" fill="#939696" fill-opacity="0.68"/>
<circle cx="2079.51" cy="1755.36" r="4.4" fill="#939696" fill-opacity="0.68"/>
<text transform="scale(1,1.012)" x="1691.01" y="1772.44" font-size="22.7" text-anchor="middle">seen</text>
<text transform="scale(1,1.012)" x="1814.36" y="1772.44" font-size="22.7" text-anchor="middle">unseen</text>
<text transform="scale(1,1.012)" x="1959.70" y="1772.44" font-size="22.7" text-anchor="middle">seen</text>
<text transform="scale(1,1.012)" x="2088.94" y="1772.44" font-size="22.7" text-anchor="middle">unseen</text>
</g>
</svg></body></html>
